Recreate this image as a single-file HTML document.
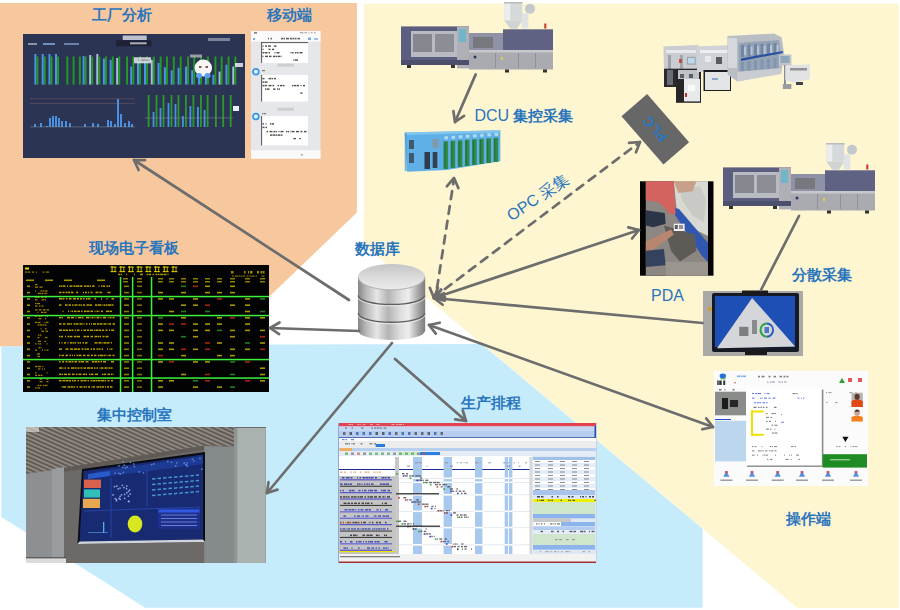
<!DOCTYPE html>
<html><head><meta charset="utf-8">
<style>
html,body{margin:0;padding:0;background:#fff;}
body{width:900px;height:610px;overflow:hidden;position:relative;font-family:"Liberation Sans",sans-serif;}
svg{position:absolute;left:0;top:0;}
.lat{font-weight:normal;}
.lbl{position:absolute;color:#2A76BD;font-size:15px;line-height:15px;font-weight:bold;white-space:nowrap;font-family:"Liberation Sans",sans-serif;}
</style></head>
<body>
<svg width="900" height="610" viewBox="0 0 900 610">
<defs>
  <clipPath id="ceil"><polygon points="26,427 234.3,427 234.3,447 208.4,445 144,455 26,474"/></clipPath>
  <linearGradient id="cyl" x1="0" x2="1" y1="0" y2="0">
    <stop offset="0" stop-color="#858585"/>
    <stop offset="0.12" stop-color="#b8b8b8"/>
    <stop offset="0.28" stop-color="#e6e6e6"/>
    <stop offset="0.45" stop-color="#b4b4b4"/>
    <stop offset="0.62" stop-color="#dcdcdc"/>
    <stop offset="0.75" stop-color="#eeeeee"/>
    <stop offset="0.9" stop-color="#a4a4a4"/>
    <stop offset="1" stop-color="#7c7c7c"/>
  </linearGradient>
  <linearGradient id="cyltop" x1="0" x2="0" y1="0" y2="1">
    <stop offset="0" stop-color="#c4c4c4"/>
    <stop offset="0.6" stop-color="#dedede"/>
    <stop offset="1" stop-color="#ececec"/>
  </linearGradient>
  <g id="imm">
    <rect x="103.3" y="0.5" width="18" height="18" fill="#d6d9d9"/>
    <rect x="103.3" y="0.5" width="6" height="18" fill="#eceeee"/>
    <rect x="103" y="0" width="18.6" height="1.5" fill="#b8bcbc"/>
    <path d="M103.3 18.5 L121.3 18.5 L116 26.7 L109.3 26.7 Z" fill="#cfd3d3"/>
    <circle cx="129" cy="6.8" r="5" fill="#c2c8cc"/>
    <rect x="120.7" y="11.3" width="6.6" height="15" fill="#dfe3e6"/>
    <rect x="0" y="24.4" width="68" height="38" fill="#5b5e7e"/>
    <rect x="10" y="29" width="46" height="26" fill="#b9bbc2"/>
    <rect x="12" y="32" width="19" height="18" fill="#85878e"/>
    <rect x="34" y="32" width="19" height="18" fill="#8c8e96"/>
    <rect x="56" y="24.4" width="12" height="42" fill="#aeb0b6"/>
    <rect x="58" y="27" width="7" height="13" fill="#6fb6c8"/>
    <rect x="68" y="31" width="34" height="19" fill="#8f92a6"/>
    <rect x="72" y="35" width="20" height="11" fill="#76787e"/>
    <rect x="102" y="27.3" width="50" height="21" fill="#5f6282"/>
    <rect x="143.3" y="21.5" width="2" height="5" fill="#d03030"/>
    <rect x="68" y="48" width="84" height="19.5" fill="#a9abb1"/>
    <rect x="68" y="48" width="84" height="2.5" fill="#c6c8cc"/>
    <rect x="94" y="51" width="0.8" height="15" fill="#8a8c92"/>
    <rect x="117" y="51" width="0.8" height="15" fill="#8a8c92"/>
    <rect x="134" y="51" width="0.8" height="15" fill="#8a8c92"/>
    <rect x="100" y="55" width="2" height="3" fill="#e0d040"/>
    <circle cx="74" cy="55" r="1.5" fill="#2a3a5a"/>
    <rect x="0" y="58" width="68" height="5" fill="#4d506c"/>
    <rect x="6" y="63" width="4" height="3" fill="#333"/>
    <rect x="50" y="63" width="4" height="3" fill="#333"/>
    <rect x="104" y="67.5" width="4" height="3" fill="#333"/>
    <rect x="142" y="67.5" width="4" height="3" fill="#333"/>
  </g>
</defs>
<polygon points="0,3 356.9,3 356.9,212.5 217.5,346.4 0,346.4" fill="#F7C89E"/>
<polygon points="363.7,3.5 898.7,3.5 898.7,608 797.5,608 363.7,245.1" fill="#FEF5D1"/>
<polygon points="1.3,346.5 270,344.5 481.6,344 702.7,528.8 702.7,607.8 145,607.8 100,578.9 1.3,517" fill="#C6ECFC"/>
<rect x="23" y="34" width="222" height="124" fill="#2C3454"/>
<rect x="116" y="40.3" width="35.3" height="6" fill="#1f2234"/>
<rect x="122.7" y="35.5" width="24" height="4.5" fill="#eef0f6" opacity="0.75"/>
<rect x="130" y="42.3" width="16.7" height="2" fill="#e8e8f0" opacity="0.7"/>
<rect x="28" y="43" width="9" height="2" fill="#cfd3e0" opacity="0.6"/>
<rect x="43" y="43" width="12" height="2" fill="#8fb6e8" opacity="0.7"/>
<rect x="64" y="43" width="15" height="2" fill="#8fb6e8" opacity="0.6"/>
<rect x="208" y="38" width="22" height="3" fill="#cfd3e0" opacity="0.5"/>
<rect x="34.4" y="54" width="2" height="30.6" fill="#4a94ea"/>
<rect x="36.5" y="56.5" width="1.9" height="28.1" fill="#239a23"/>
<rect x="41.7" y="54" width="2" height="30.6" fill="#4a94ea"/>
<rect x="43.8" y="56.5" width="1.9" height="28.1" fill="#239a23"/>
<rect x="48.5" y="54" width="2" height="30.6" fill="#4a94ea"/>
<rect x="50.6" y="56.5" width="1.9" height="28.1" fill="#239a23"/>
<rect x="55.0" y="54" width="2" height="30.6" fill="#4a94ea"/>
<rect x="57.1" y="56.5" width="1.9" height="28.1" fill="#239a23"/>
<rect x="66.4" y="56.5" width="1.9" height="28.1" fill="#239a23"/>
<rect x="72.6" y="56.5" width="1.9" height="28.1" fill="#239a23"/>
<rect x="78.9" y="56.5" width="1.9" height="28.1" fill="#239a23"/>
<rect x="82.6" y="56" width="2" height="28.6" fill="#4a94ea"/>
<rect x="84.7" y="56.5" width="1.9" height="28.1" fill="#239a23"/>
<rect x="89.2" y="55" width="2" height="29.6" fill="#a8c0e0"/>
<rect x="91.3" y="56.5" width="1.9" height="28.1" fill="#239a23"/>
<rect x="96.3" y="54" width="2" height="30.6" fill="#a8c0e0"/>
<rect x="98.4" y="56.5" width="1.9" height="28.1" fill="#239a23"/>
<rect x="102.9" y="58.5" width="2" height="26.1" fill="#4a94ea"/>
<rect x="105.0" y="56.5" width="1.9" height="28.1" fill="#239a23"/>
<rect x="109.7" y="60" width="2" height="24.6" fill="#4a94ea"/>
<rect x="111.8" y="56.5" width="1.9" height="28.1" fill="#239a23"/>
<rect x="116.2" y="58" width="2" height="26.6" fill="#a8c0e0"/>
<rect x="118.3" y="56.5" width="1.9" height="28.1" fill="#239a23"/>
<rect x="126.1" y="56.5" width="1.9" height="28.1" fill="#239a23"/>
<rect x="130.3" y="66.6" width="2" height="18.0" fill="#4a94ea"/>
<rect x="132.4" y="56.5" width="1.9" height="28.1" fill="#239a23"/>
<rect x="137.0" y="61.6" width="2" height="23.0" fill="#4a94ea"/>
<rect x="139.1" y="56.5" width="1.9" height="28.1" fill="#239a23"/>
<rect x="144.0" y="61.6" width="2" height="23.0" fill="#4a94ea"/>
<rect x="146.1" y="56.5" width="1.9" height="28.1" fill="#239a23"/>
<rect x="150.8" y="59.8" width="2" height="24.8" fill="#a8c0e0"/>
<rect x="152.9" y="56.5" width="1.9" height="28.1" fill="#239a23"/>
<rect x="157.6" y="62.9" width="2" height="21.7" fill="#4a94ea"/>
<rect x="159.7" y="56.5" width="1.9" height="28.1" fill="#239a23"/>
<rect x="163.9" y="67.2" width="2" height="17.4" fill="#4a94ea"/>
<rect x="166.0" y="56.5" width="1.9" height="28.1" fill="#239a23"/>
<rect x="170.7" y="70.3" width="2" height="14.3" fill="#4a94ea"/>
<rect x="172.8" y="56.5" width="1.9" height="28.1" fill="#239a23"/>
<rect x="177.6" y="67.8" width="2" height="16.8" fill="#4a94ea"/>
<rect x="179.7" y="56.5" width="1.9" height="28.1" fill="#239a23"/>
<rect x="185.0" y="66.6" width="2" height="18.0" fill="#4a94ea"/>
<rect x="187.1" y="56.5" width="1.9" height="28.1" fill="#239a23"/>
<rect x="191.2" y="70.3" width="2" height="14.3" fill="#4a94ea"/>
<rect x="193.3" y="56.5" width="1.9" height="28.1" fill="#239a23"/>
<rect x="198.0" y="77.8" width="2" height="6.8" fill="#4a94ea"/>
<rect x="200.1" y="56.5" width="1.9" height="28.1" fill="#239a23"/>
<rect x="204.9" y="76" width="2" height="8.6" fill="#4a94ea"/>
<rect x="207.0" y="56.5" width="1.9" height="28.1" fill="#239a23"/>
<rect x="212.4" y="74.7" width="2" height="9.9" fill="#4a94ea"/>
<rect x="214.5" y="56.5" width="1.9" height="28.1" fill="#239a23"/>
<rect x="218.6" y="71.6" width="2" height="13.0" fill="#a8c0e0"/>
<rect x="220.7" y="56.5" width="1.9" height="28.1" fill="#239a23"/>
<rect x="225.5" y="64.7" width="2" height="19.9" fill="#4a94ea"/>
<rect x="227.6" y="56.5" width="1.9" height="28.1" fill="#239a23"/>
<rect x="232.3" y="66.6" width="2" height="18.0" fill="#a8c0e0"/>
<rect x="234.4" y="56.5" width="1.9" height="28.1" fill="#239a23"/>
<rect x="134" y="57.3" width="17" height="6" fill="#e8e8ee" opacity="0.85"/>
<rect x="138.0" y="59.5" width="1" height="1.2" fill="#505050" opacity="0.6"/>
<rect x="140.5" y="59.5" width="1" height="1.2" fill="#505050" opacity="0.6"/>
<rect x="142.0" y="59.5" width="3" height="1.2" fill="#505050" opacity="0.6"/>
<rect x="145.5" y="59.5" width="2.5" height="1.2" fill="#505050" opacity="0.6"/>
<rect x="148.5" y="59.5" width="1" height="1.2" fill="#505050" opacity="0.6"/>
<rect x="235" y="63" width="8" height="4" fill="#e8eef5" opacity="0.85"/>
<ellipse cx="203.3" cy="68" rx="8.7" ry="8.5" fill="#f6f4f4"/>
<ellipse cx="199" cy="75.5" rx="3" ry="2.6" fill="#5aa0f0"/>
<ellipse cx="207.5" cy="75.5" rx="3" ry="2.6" fill="#5aa0f0"/>
<rect x="199" y="66" width="2.5" height="2" fill="#603030" opacity="0.8"/>
<rect x="205.5" y="66" width="2.5" height="2" fill="#603030" opacity="0.8"/>
<rect x="190" y="54.5" width="12" height="3" fill="#e8e0e0" opacity="0.6"/>
<rect x="30" y="98.5" width="105" height="0.7" fill="#7a5a6a" opacity="0.7"/>
<rect x="30" y="103" width="105" height="0.7" fill="#7a5a6a" opacity="0.7"/>
<rect x="34" y="124" width="2" height="3" fill="#4a90e2"/>
<rect x="40" y="123" width="2" height="4" fill="#4a90e2"/>
<rect x="46" y="126" width="2" height="1" fill="#4a90e2"/>
<rect x="49" y="118" width="2" height="9" fill="#4a90e2"/>
<rect x="52" y="116" width="2" height="11" fill="#4a90e2"/>
<rect x="55" y="116" width="2" height="11" fill="#4a90e2"/>
<rect x="58" y="118" width="2" height="9" fill="#4a90e2"/>
<rect x="61" y="121" width="2" height="6" fill="#4a90e2"/>
<rect x="65" y="121" width="2" height="6" fill="#4a90e2"/>
<rect x="69" y="123" width="2" height="4" fill="#4a90e2"/>
<rect x="84" y="124" width="2" height="3" fill="#4a90e2"/>
<rect x="92" y="123" width="2" height="4" fill="#4a90e2"/>
<rect x="97" y="124" width="2" height="3" fill="#4a90e2"/>
<rect x="107" y="120" width="2" height="7" fill="#4a90e2"/>
<rect x="110" y="121" width="2" height="6" fill="#4a90e2"/>
<rect x="114" y="124" width="2" height="3" fill="#4a90e2"/>
<rect x="117" y="99" width="2" height="28" fill="#4a90e2"/>
<rect x="120" y="114" width="2" height="13" fill="#4a90e2"/>
<rect x="124" y="123" width="2" height="4" fill="#4a90e2"/>
<rect x="128" y="121" width="2" height="6" fill="#4a90e2"/>
<rect x="131" y="124" width="2" height="3" fill="#4a90e2"/>
<rect x="30" y="126.5" width="105" height="0.8" fill="#9aa" opacity="0.5"/>
<rect x="147.7" y="95" width="1.8" height="32" fill="#2a9a2a"/>
<rect x="155.6" y="95" width="1.8" height="32" fill="#2a9a2a"/>
<rect x="152.6" y="112" width="1.8" height="15" fill="#4a90e2"/>
<rect x="162.6" y="95" width="1.8" height="32" fill="#2a9a2a"/>
<rect x="159.6" y="108" width="1.8" height="19" fill="#4a90e2"/>
<rect x="170.6" y="95" width="1.8" height="32" fill="#2a9a2a"/>
<rect x="167.6" y="103" width="1.8" height="24" fill="#4a90e2"/>
<rect x="177.6" y="95" width="1.8" height="32" fill="#2a9a2a"/>
<rect x="174.6" y="104" width="1.8" height="23" fill="#4a90e2"/>
<rect x="185.0" y="95" width="1.8" height="32" fill="#2a9a2a"/>
<rect x="182.0" y="116" width="1.8" height="11" fill="#4a90e2"/>
<rect x="192.5" y="95" width="1.8" height="32" fill="#2a9a2a"/>
<rect x="189.5" y="106" width="1.8" height="21" fill="#4a90e2"/>
<rect x="200.0" y="95" width="1.8" height="32" fill="#2a9a2a"/>
<rect x="197.0" y="107" width="1.8" height="20" fill="#4a90e2"/>
<rect x="206.7" y="95" width="1.8" height="32" fill="#2a9a2a"/>
<rect x="203.7" y="110" width="1.8" height="17" fill="#4a90e2"/>
<rect x="215.0" y="95" width="1.8" height="32" fill="#2a9a2a"/>
<rect x="222.3" y="95" width="1.8" height="32" fill="#2a9a2a"/>
<rect x="229.8" y="95" width="1.8" height="32" fill="#2a9a2a"/>
<rect x="145" y="117.5" width="88" height="0.8" fill="#8a8f9f" opacity="0.6"/>
<rect x="233" y="106" width="6" height="5" fill="#e8eef5"/>
<rect x="251" y="31" width="69.5" height="127.5" fill="#e6e7ea"/>
<rect x="251" y="31" width="69.5" height="10.5" fill="#fbfbfb"/>
<rect x="254.0" y="32.2" width="3" height="1.3" fill="#202020" opacity="0.7"/>
<rect x="300.0" y="32.2" width="3" height="1.1" fill="#404040" opacity="0.5"/>
<rect x="303.5" y="32.2" width="1" height="1.1" fill="#404040" opacity="0.5"/>
<rect x="305.0" y="32.2" width="2" height="1.1" fill="#404040" opacity="0.5"/>
<rect x="308.5" y="32.2" width="1" height="1.1" fill="#404040" opacity="0.5"/>
<rect x="311.0" y="32.2" width="1.5" height="1.1" fill="#404040" opacity="0.5"/>
<rect x="314.0" y="32.2" width="1.5" height="1.1" fill="#404040" opacity="0.5"/>
<rect x="268.0" y="37.8" width="1" height="1.6" fill="#202020" opacity="0.7"/>
<rect x="270.5" y="37.8" width="1.5" height="1.6" fill="#202020" opacity="0.7"/>
<rect x="281.0" y="37.8" width="2" height="1.6" fill="#202020" opacity="0.7"/>
<rect x="283.5" y="37.8" width="1.5" height="1.6" fill="#202020" opacity="0.7"/>
<rect x="286.0" y="37.8" width="3" height="1.6" fill="#202020" opacity="0.7"/>
<rect x="290.0" y="37.8" width="2.5" height="1.6" fill="#202020" opacity="0.7"/>
<rect x="293.0" y="37.8" width="1" height="1.6" fill="#202020" opacity="0.7"/>
<rect x="294.5" y="37.8" width="2" height="1.6" fill="#202020" opacity="0.7"/>
<rect x="297.5" y="37.8" width="2.5" height="1.6" fill="#202020" opacity="0.7"/>
<rect x="253" y="38" width="2" height="2" fill="#3a8ae0" opacity="0.7"/>
<rect x="308" y="37.5" width="3" height="2.5" fill="#3a8ae0" opacity="0.7"/>
<rect x="314" y="38" width="4" height="2" fill="#3a8ae0" opacity="0.5"/>
<rect x="261.2" y="42.2" width="46.8" height="20.8" fill="#ffffff"/>
<rect x="261.2" y="42.2" width="0.9" height="20.8" fill="#404040"/>
<rect x="262.5" y="45.4" width="1" height="1.4" fill="#202020" opacity="0.8"/>
<rect x="265.0" y="45.4" width="2" height="1.4" fill="#202020" opacity="0.8"/>
<rect x="268.0" y="45.4" width="3" height="1.4" fill="#202020" opacity="0.8"/>
<rect x="274.0" y="45.4" width="2.5" height="1.4" fill="#202020" opacity="0.8"/>
<rect x="262.5" y="48.7" width="1" height="1.4" fill="#202020" opacity="0.8"/>
<rect x="268.5" y="48.7" width="2" height="1.4" fill="#202020" opacity="0.8"/>
<rect x="272.0" y="48.7" width="2" height="1.4" fill="#202020" opacity="0.8"/>
<rect x="262.5" y="52.0" width="2" height="1.4" fill="#202020" opacity="0.8"/>
<rect x="265.0" y="52.0" width="2.5" height="1.4" fill="#202020" opacity="0.8"/>
<rect x="268.5" y="52.0" width="1.5" height="1.4" fill="#202020" opacity="0.8"/>
<rect x="274.5" y="52.0" width="1" height="1.4" fill="#202020" opacity="0.8"/>
<rect x="276.5" y="52.0" width="3" height="1.4" fill="#202020" opacity="0.8"/>
<rect x="290.5" y="52.0" width="1" height="1.4" fill="#202020" opacity="0.8"/>
<rect x="292.0" y="52.0" width="1.5" height="1.4" fill="#202020" opacity="0.8"/>
<rect x="295.0" y="52.0" width="1.5" height="1.4" fill="#202020" opacity="0.8"/>
<rect x="297.0" y="52.0" width="1.5" height="1.4" fill="#202020" opacity="0.8"/>
<rect x="299.5" y="52.0" width="3" height="1.4" fill="#202020" opacity="0.8"/>
<rect x="262.5" y="55.7" width="1" height="1.4" fill="#202020" opacity="0.8"/>
<rect x="265.0" y="55.7" width="3" height="1.4" fill="#202020" opacity="0.8"/>
<rect x="269.0" y="55.7" width="2.5" height="1.4" fill="#202020" opacity="0.8"/>
<rect x="273.0" y="55.7" width="2.5" height="1.4" fill="#202020" opacity="0.8"/>
<rect x="276.0" y="55.7" width="1.5" height="1.4" fill="#202020" opacity="0.8"/>
<rect x="278.0" y="55.7" width="2" height="1.4" fill="#202020" opacity="0.8"/>
<rect x="280.5" y="55.7" width="1" height="1.4" fill="#202020" opacity="0.8"/>
<rect x="293.4" y="59.4" width="1" height="1.4" fill="#202020" opacity="0.8"/>
<rect x="294.9" y="59.4" width="3" height="1.4" fill="#202020" opacity="0.8"/>
<rect x="261.2" y="75" width="46.8" height="26.5" fill="#ffffff"/>
<rect x="261.2" y="75" width="0.9" height="26.5" fill="#404040"/>
<rect x="262.5" y="77.9" width="2" height="1.4" fill="#202020" opacity="0.8"/>
<rect x="268.5" y="77.9" width="2.5" height="1.4" fill="#202020" opacity="0.8"/>
<rect x="271.5" y="77.9" width="1.5" height="1.4" fill="#202020" opacity="0.8"/>
<rect x="274.0" y="77.9" width="2" height="1.4" fill="#202020" opacity="0.8"/>
<rect x="262.5" y="81.4" width="1.5" height="1.4" fill="#202020" opacity="0.8"/>
<rect x="264.5" y="81.4" width="3" height="1.4" fill="#202020" opacity="0.8"/>
<rect x="262.5" y="84.9" width="2" height="1.4" fill="#202020" opacity="0.8"/>
<rect x="265.0" y="84.9" width="2" height="1.4" fill="#202020" opacity="0.8"/>
<rect x="268.5" y="84.9" width="3" height="1.4" fill="#202020" opacity="0.8"/>
<rect x="272.5" y="84.9" width="1.5" height="1.4" fill="#202020" opacity="0.8"/>
<rect x="277.5" y="84.9" width="1.5" height="1.4" fill="#202020" opacity="0.8"/>
<rect x="280.0" y="84.9" width="2" height="1.4" fill="#202020" opacity="0.8"/>
<rect x="282.5" y="84.9" width="2" height="1.4" fill="#202020" opacity="0.8"/>
<rect x="292.0" y="84.9" width="1" height="1.4" fill="#202020" opacity="0.8"/>
<rect x="293.5" y="84.9" width="2.5" height="1.4" fill="#202020" opacity="0.8"/>
<rect x="296.5" y="84.9" width="2.5" height="1.4" fill="#202020" opacity="0.8"/>
<rect x="300.5" y="84.9" width="1" height="1.4" fill="#202020" opacity="0.8"/>
<rect x="303.0" y="84.9" width="2" height="1.4" fill="#202020" opacity="0.8"/>
<rect x="265.0" y="88.4" width="1.5" height="1.4" fill="#202020" opacity="0.8"/>
<rect x="267.0" y="88.4" width="2.5" height="1.4" fill="#202020" opacity="0.8"/>
<rect x="273.0" y="88.4" width="2.5" height="1.4" fill="#202020" opacity="0.8"/>
<rect x="277.0" y="88.4" width="1" height="1.4" fill="#202020" opacity="0.8"/>
<rect x="278.5" y="88.4" width="1.5" height="1.4" fill="#202020" opacity="0.8"/>
<rect x="300.4" y="92.4" width="2" height="1.4" fill="#202020" opacity="0.8"/>
<rect x="261.2" y="116" width="46.8" height="29.4" fill="#ffffff"/>
<rect x="261.2" y="116" width="0.9" height="29.4" fill="#404040"/>
<rect x="262.5" y="123.2" width="1.5" height="1.4" fill="#202020" opacity="0.8"/>
<rect x="265.5" y="123.2" width="1" height="1.4" fill="#202020" opacity="0.8"/>
<rect x="270.0" y="123.2" width="1.5" height="1.4" fill="#202020" opacity="0.8"/>
<rect x="272.0" y="123.2" width="2" height="1.4" fill="#202020" opacity="0.8"/>
<rect x="262.5" y="126.7" width="2" height="1.4" fill="#202020" opacity="0.8"/>
<rect x="265.5" y="126.7" width="1.5" height="1.4" fill="#202020" opacity="0.8"/>
<rect x="266.5" y="130.9" width="1.5" height="1.4" fill="#202020" opacity="0.8"/>
<rect x="269.5" y="130.9" width="3" height="1.4" fill="#202020" opacity="0.8"/>
<rect x="273.5" y="130.9" width="1.5" height="1.4" fill="#202020" opacity="0.8"/>
<rect x="275.5" y="130.9" width="1.5" height="1.4" fill="#202020" opacity="0.8"/>
<rect x="278.5" y="130.9" width="1" height="1.4" fill="#202020" opacity="0.8"/>
<rect x="280.5" y="130.9" width="3" height="1.4" fill="#202020" opacity="0.8"/>
<rect x="286.0" y="130.9" width="1.5" height="1.4" fill="#202020" opacity="0.8"/>
<rect x="288.0" y="130.9" width="1" height="1.4" fill="#202020" opacity="0.8"/>
<rect x="290.5" y="130.9" width="1" height="1.4" fill="#202020" opacity="0.8"/>
<rect x="292.0" y="130.9" width="2.5" height="1.4" fill="#202020" opacity="0.8"/>
<rect x="296.0" y="130.9" width="3" height="1.4" fill="#202020" opacity="0.8"/>
<rect x="300.5" y="130.9" width="2" height="1.4" fill="#202020" opacity="0.8"/>
<rect x="304.0" y="130.9" width="2.5" height="1.4" fill="#202020" opacity="0.8"/>
<rect x="270.0" y="134.4" width="2.5" height="1.4" fill="#202020" opacity="0.8"/>
<rect x="273.0" y="134.4" width="2.5" height="1.4" fill="#202020" opacity="0.8"/>
<rect x="276.0" y="134.4" width="1.5" height="1.4" fill="#202020" opacity="0.8"/>
<rect x="278.0" y="134.4" width="2" height="1.4" fill="#202020" opacity="0.8"/>
<rect x="280.5" y="134.4" width="2" height="1.4" fill="#202020" opacity="0.8"/>
<rect x="293.4" y="137.9" width="2.5" height="1.4" fill="#202020" opacity="0.8"/>
<rect x="299.4" y="137.9" width="1.5" height="1.4" fill="#202020" opacity="0.8"/>
<rect x="261.2" y="42.2" width="46.8" height="0.9" fill="#404040"/>
<rect x="277.3" y="63.8" width="16.5" height="2.9" fill="#cdced2"/>
<rect x="277.3" y="107.8" width="16.5" height="2.9" fill="#cdced2"/>
<circle cx="255.9" cy="71.7" r="3.8" fill="#3a98e8"/>
<circle cx="255.9" cy="71.7" r="2" fill="#e8f4fc"/>
<circle cx="255.9" cy="116.5" r="3.8" fill="#3a98e8"/>
<circle cx="255.9" cy="116.5" r="2" fill="#e8f4fc"/>
<rect x="262.0" y="70.0" width="3" height="1.2" fill="#303030" opacity="0.6"/>
<rect x="262.0" y="113.0" width="1.5" height="1.2" fill="#303030" opacity="0.6"/>
<rect x="264.0" y="113.0" width="2" height="1.2" fill="#303030" opacity="0.6"/>
<rect x="251" y="150.3" width="69.5" height="8.3" fill="#fafafa"/>
<rect x="301" y="154" width="1.5" height="1.5" fill="#606060" opacity="0.7"/>
<rect x="23" y="265" width="246" height="127" fill="#030303"/>
<rect x="25" y="267.5" width="4" height="2" fill="#e8d800"/>
<rect x="25.0" y="271.5" width="2.5" height="1.2" fill="#c8b800" opacity="0.7"/>
<rect x="28.0" y="271.5" width="2.5" height="1.2" fill="#c8b800" opacity="0.7"/>
<rect x="32.0" y="271.5" width="2" height="1.2" fill="#c8b800" opacity="0.7"/>
<rect x="36.0" y="271.5" width="1" height="1.2" fill="#c8b800" opacity="0.7"/>
<rect x="42.5" y="271.5" width="2" height="1.2" fill="#c8b800" opacity="0.7"/>
<rect x="46.0" y="271.5" width="3" height="1.2" fill="#c8b800" opacity="0.7"/>
<rect x="110.5" y="266.5" width="6" height="1.2" fill="#e8d800" opacity="0.8"/>
<rect x="110.5" y="271" width="6" height="1.2" fill="#e8d800" opacity="0.8"/>
<rect x="111.5" y="266" width="1.2" height="6" fill="#e8d800" opacity="0.8"/>
<rect x="114.5" y="267" width="1.2" height="5" fill="#e8d800" opacity="0.65"/>
<rect x="119.2" y="266.5" width="6" height="1.2" fill="#e8d800" opacity="0.8"/>
<rect x="119.2" y="271" width="6" height="1.2" fill="#e8d800" opacity="0.8"/>
<rect x="120.2" y="266" width="1.2" height="6" fill="#e8d800" opacity="0.8"/>
<rect x="123.2" y="267" width="1.2" height="5" fill="#e8d800" opacity="0.65"/>
<rect x="127.9" y="266.5" width="6" height="1.2" fill="#e8d800" opacity="0.8"/>
<rect x="127.9" y="271" width="6" height="1.2" fill="#e8d800" opacity="0.8"/>
<rect x="128.9" y="266" width="1.2" height="6" fill="#e8d800" opacity="0.8"/>
<rect x="131.9" y="267" width="1.2" height="5" fill="#e8d800" opacity="0.65"/>
<rect x="136.6" y="266.5" width="6" height="1.2" fill="#e8d800" opacity="0.8"/>
<rect x="136.6" y="271" width="6" height="1.2" fill="#e8d800" opacity="0.8"/>
<rect x="137.6" y="266" width="1.2" height="6" fill="#e8d800" opacity="0.8"/>
<rect x="140.6" y="267" width="1.2" height="5" fill="#e8d800" opacity="0.65"/>
<rect x="145.3" y="266.5" width="6" height="1.2" fill="#e8d800" opacity="0.8"/>
<rect x="145.3" y="271" width="6" height="1.2" fill="#e8d800" opacity="0.8"/>
<rect x="146.3" y="266" width="1.2" height="6" fill="#e8d800" opacity="0.8"/>
<rect x="149.3" y="267" width="1.2" height="5" fill="#e8d800" opacity="0.65"/>
<rect x="154.0" y="266.5" width="6" height="1.2" fill="#e8d800" opacity="0.8"/>
<rect x="154.0" y="271" width="6" height="1.2" fill="#e8d800" opacity="0.8"/>
<rect x="155.0" y="266" width="1.2" height="6" fill="#e8d800" opacity="0.8"/>
<rect x="158.0" y="267" width="1.2" height="5" fill="#e8d800" opacity="0.65"/>
<rect x="162.7" y="266.5" width="6" height="1.2" fill="#e8d800" opacity="0.8"/>
<rect x="162.7" y="271" width="6" height="1.2" fill="#e8d800" opacity="0.8"/>
<rect x="163.7" y="266" width="1.2" height="6" fill="#e8d800" opacity="0.8"/>
<rect x="166.7" y="267" width="1.2" height="5" fill="#e8d800" opacity="0.65"/>
<rect x="171.4" y="266.5" width="6" height="1.2" fill="#e8d800" opacity="0.8"/>
<rect x="171.4" y="271" width="6" height="1.2" fill="#e8d800" opacity="0.8"/>
<rect x="172.4" y="266" width="1.2" height="6" fill="#e8d800" opacity="0.8"/>
<rect x="175.4" y="267" width="1.2" height="5" fill="#e8d800" opacity="0.65"/>
<rect x="118.0" y="273.7" width="2" height="1.5" fill="#d8c800" opacity="0.75"/>
<rect x="120.5" y="273.7" width="1.5" height="1.5" fill="#d8c800" opacity="0.75"/>
<rect x="126.0" y="273.7" width="1" height="1.5" fill="#d8c800" opacity="0.75"/>
<rect x="134.0" y="273.7" width="1" height="1.5" fill="#d8c800" opacity="0.75"/>
<rect x="140.0" y="273.7" width="3" height="1.5" fill="#d8c800" opacity="0.75"/>
<rect x="146.5" y="273.7" width="2" height="1.5" fill="#d8c800" opacity="0.75"/>
<rect x="149.0" y="273.7" width="2" height="1.5" fill="#d8c800" opacity="0.75"/>
<rect x="152.5" y="273.7" width="1.5" height="1.5" fill="#d8c800" opacity="0.75"/>
<rect x="155.5" y="273.7" width="1.5" height="1.5" fill="#d8c800" opacity="0.75"/>
<rect x="157.5" y="273.7" width="2" height="1.5" fill="#d8c800" opacity="0.75"/>
<rect x="160.0" y="273.7" width="3" height="1.5" fill="#d8c800" opacity="0.75"/>
<rect x="163.5" y="273.7" width="3" height="1.5" fill="#d8c800" opacity="0.75"/>
<rect x="167.5" y="273.7" width="1" height="1.5" fill="#d8c800" opacity="0.75"/>
<rect x="231.0" y="271.0" width="2.5" height="2.5" fill="#e0c800" opacity="0.7"/>
<rect x="244.0" y="271.0" width="1.5" height="2.5" fill="#e0c800" opacity="0.7"/>
<rect x="248.0" y="271.0" width="1" height="2.5" fill="#e0c800" opacity="0.7"/>
<rect x="250.0" y="271.0" width="2.5" height="2.5" fill="#e0c800" opacity="0.7"/>
<rect x="257.0" y="271.0" width="2" height="2.5" fill="#e0c800" opacity="0.7"/>
<rect x="260.5" y="271.0" width="2" height="2.5" fill="#e0c800" opacity="0.7"/>
<rect x="263.0" y="271.0" width="1.5" height="2.5" fill="#e0c800" opacity="0.7"/>
<rect x="232.0" y="275.5" width="2" height="1.2" fill="#e0d000" opacity="0.55"/>
<rect x="235.0" y="275.5" width="3" height="1.2" fill="#e0d000" opacity="0.55"/>
<rect x="238.5" y="275.5" width="2" height="1.2" fill="#e0d000" opacity="0.55"/>
<rect x="241.0" y="275.5" width="1" height="1.2" fill="#e0d000" opacity="0.55"/>
<rect x="242.5" y="275.5" width="2.5" height="1.2" fill="#e0d000" opacity="0.55"/>
<rect x="246.5" y="275.5" width="1.5" height="1.2" fill="#e0d000" opacity="0.55"/>
<rect x="248.5" y="275.5" width="1" height="1.2" fill="#e0d000" opacity="0.55"/>
<rect x="250.0" y="275.5" width="1.5" height="1.2" fill="#e0d000" opacity="0.55"/>
<rect x="252.0" y="275.5" width="2.5" height="1.2" fill="#e0d000" opacity="0.55"/>
<rect x="255.5" y="275.5" width="1.5" height="1.2" fill="#e0d000" opacity="0.55"/>
<rect x="261.5" y="275.5" width="3" height="1.2" fill="#e0d000" opacity="0.55"/>
<rect x="26" y="279.5" width="8" height="1.6" fill="#e0d000" opacity="0.7"/>
<rect x="45" y="279.5" width="8" height="1.6" fill="#e0d000" opacity="0.7"/>
<rect x="64" y="279.5" width="8" height="1.6" fill="#e0d000" opacity="0.7"/>
<rect x="97" y="279.5" width="8" height="1.6" fill="#e0d000" opacity="0.7"/>
<rect x="123" y="278" width="5" height="1.5" fill="#e0d000" opacity="0.6"/>
<rect x="123" y="281" width="5" height="1.5" fill="#e0d000" opacity="0.6"/>
<rect x="137" y="278" width="5" height="1.5" fill="#e0d000" opacity="0.6"/>
<rect x="137" y="281" width="5" height="1.5" fill="#e0d000" opacity="0.6"/>
<rect x="158" y="278" width="5" height="1.5" fill="#e0d000" opacity="0.6"/>
<rect x="158" y="281" width="5" height="1.5" fill="#e0d000" opacity="0.6"/>
<rect x="169" y="278" width="5" height="1.5" fill="#e0d000" opacity="0.6"/>
<rect x="169" y="281" width="5" height="1.5" fill="#e0d000" opacity="0.6"/>
<rect x="181" y="278" width="5" height="1.5" fill="#e0d000" opacity="0.6"/>
<rect x="181" y="281" width="5" height="1.5" fill="#e0d000" opacity="0.6"/>
<rect x="193" y="278" width="5" height="1.5" fill="#e0d000" opacity="0.6"/>
<rect x="193" y="281" width="5" height="1.5" fill="#e0d000" opacity="0.6"/>
<rect x="205" y="278" width="5" height="1.5" fill="#e0d000" opacity="0.6"/>
<rect x="205" y="281" width="5" height="1.5" fill="#e0d000" opacity="0.6"/>
<rect x="217" y="278" width="5" height="1.5" fill="#e0d000" opacity="0.6"/>
<rect x="217" y="281" width="5" height="1.5" fill="#e0d000" opacity="0.6"/>
<rect x="230" y="278" width="5" height="1.5" fill="#e0d000" opacity="0.6"/>
<rect x="230" y="281" width="5" height="1.5" fill="#e0d000" opacity="0.6"/>
<rect x="245" y="278" width="5" height="1.5" fill="#e0d000" opacity="0.6"/>
<rect x="245" y="281" width="5" height="1.5" fill="#e0d000" opacity="0.6"/>
<rect x="260" y="278" width="5" height="1.5" fill="#e0d000" opacity="0.6"/>
<rect x="260" y="281" width="5" height="1.5" fill="#e0d000" opacity="0.6"/>
<rect x="27" y="285.5" width="3" height="1.6" fill="#e0d000" opacity="0.7"/>
<rect x="35.0" y="284.0" width="2.5" height="1.3" fill="#d8b000" opacity="0.7"/>
<rect x="35.0" y="286.5" width="3" height="1.3" fill="#d8b000" opacity="0.7"/>
<rect x="39.5" y="286.5" width="3" height="1.3" fill="#d8b000" opacity="0.7"/>
<rect x="59.0" y="285.4" width="1.5" height="1.5" fill="#e8c800" opacity="0.8"/>
<rect x="61.0" y="285.4" width="1.5" height="1.5" fill="#e8c800" opacity="0.8"/>
<rect x="63.0" y="285.4" width="2.5" height="1.5" fill="#e8c800" opacity="0.8"/>
<rect x="67.0" y="285.4" width="1" height="1.5" fill="#e8c800" opacity="0.8"/>
<rect x="69.5" y="285.4" width="3" height="1.5" fill="#e8c800" opacity="0.8"/>
<rect x="73.5" y="285.4" width="2" height="1.5" fill="#e8c800" opacity="0.8"/>
<rect x="76.0" y="285.4" width="3" height="1.5" fill="#e8c800" opacity="0.8"/>
<rect x="79.5" y="285.4" width="3" height="1.5" fill="#e8c800" opacity="0.8"/>
<rect x="84.0" y="285.4" width="2.5" height="1.5" fill="#e8c800" opacity="0.8"/>
<rect x="87.0" y="285.4" width="2" height="1.5" fill="#e8c800" opacity="0.8"/>
<rect x="89.5" y="285.4" width="1.5" height="1.5" fill="#e8c800" opacity="0.8"/>
<rect x="92.0" y="285.4" width="2.5" height="1.5" fill="#e8c800" opacity="0.8"/>
<rect x="98.5" y="285.4" width="1" height="1.5" fill="#e8c800" opacity="0.8"/>
<rect x="101.0" y="285.4" width="1.5" height="1.5" fill="#e8c800" opacity="0.8"/>
<rect x="103.0" y="285.4" width="2" height="1.5" fill="#e8c800" opacity="0.8"/>
<rect x="106.5" y="285.4" width="2" height="1.5" fill="#e8c800" opacity="0.8"/>
<rect x="109.0" y="285.4" width="1" height="1.5" fill="#e8c800" opacity="0.8"/>
<rect x="124" y="285.5" width="5" height="1.6" fill="#e0d000" opacity="0.6"/>
<rect x="137" y="285.5" width="5" height="1.6" fill="#e8c000" opacity="0.55"/>
<rect x="181" y="285.5" width="5" height="1.6" fill="#30b030" opacity="0.7"/>
<rect x="193" y="285.5" width="5" height="1.6" fill="#e83020" opacity="0.7"/>
<rect x="205" y="285.5" width="5" height="1.6" fill="#e8d800" opacity="0.7"/>
<rect x="230" y="285.5" width="5" height="1.6" fill="#e8d800" opacity="0.7"/>
<rect x="27" y="291.8" width="3" height="1.6" fill="#e0d000" opacity="0.7"/>
<rect x="35.0" y="290.3" width="1" height="1.3" fill="#d8b000" opacity="0.7"/>
<rect x="40.5" y="290.3" width="2" height="1.3" fill="#d8b000" opacity="0.7"/>
<rect x="43.0" y="290.3" width="1" height="1.3" fill="#d8b000" opacity="0.7"/>
<rect x="44.5" y="290.3" width="3" height="1.3" fill="#d8b000" opacity="0.7"/>
<rect x="38.0" y="292.8" width="3" height="1.3" fill="#d8b000" opacity="0.7"/>
<rect x="41.5" y="292.8" width="2" height="1.3" fill="#d8b000" opacity="0.7"/>
<rect x="44.5" y="292.8" width="2.5" height="1.3" fill="#d8b000" opacity="0.7"/>
<rect x="59.0" y="291.7" width="2.5" height="1.5" fill="#e8c800" opacity="0.8"/>
<rect x="62.5" y="291.7" width="2" height="1.5" fill="#e8c800" opacity="0.8"/>
<rect x="65.5" y="291.7" width="2" height="1.5" fill="#e8c800" opacity="0.8"/>
<rect x="68.0" y="291.7" width="2" height="1.5" fill="#e8c800" opacity="0.8"/>
<rect x="71.0" y="291.7" width="2.5" height="1.5" fill="#e8c800" opacity="0.8"/>
<rect x="76.0" y="291.7" width="2" height="1.5" fill="#e8c800" opacity="0.8"/>
<rect x="83.0" y="291.7" width="1" height="1.5" fill="#e8c800" opacity="0.8"/>
<rect x="85.0" y="291.7" width="2" height="1.5" fill="#e8c800" opacity="0.8"/>
<rect x="88.0" y="291.7" width="1" height="1.5" fill="#e8c800" opacity="0.8"/>
<rect x="90.5" y="291.7" width="2" height="1.5" fill="#e8c800" opacity="0.8"/>
<rect x="95.5" y="291.7" width="3" height="1.5" fill="#e8c800" opacity="0.8"/>
<rect x="99.5" y="291.7" width="2.5" height="1.5" fill="#e8c800" opacity="0.8"/>
<rect x="107.5" y="291.7" width="3" height="1.5" fill="#e8c800" opacity="0.8"/>
<rect x="124" y="291.8" width="5" height="1.6" fill="#e0d000" opacity="0.6"/>
<rect x="137" y="291.8" width="5" height="1.6" fill="#e8c000" opacity="0.55"/>
<rect x="158" y="291.8" width="5" height="1.6" fill="#e8d800" opacity="0.7"/>
<rect x="181" y="291.8" width="5" height="1.6" fill="#e8d800" opacity="0.7"/>
<rect x="205" y="291.8" width="5" height="1.6" fill="#e8d800" opacity="0.7"/>
<rect x="217" y="291.8" width="5" height="1.6" fill="#e8d800" opacity="0.7"/>
<rect x="230" y="291.8" width="5" height="1.6" fill="#e8d800" opacity="0.7"/>
<rect x="27" y="298.1" width="3" height="1.6" fill="#e0d000" opacity="0.7"/>
<rect x="35.0" y="296.6" width="2" height="1.3" fill="#d8b000" opacity="0.7"/>
<rect x="37.5" y="296.6" width="2" height="1.3" fill="#d8b000" opacity="0.7"/>
<rect x="41.0" y="296.6" width="2.5" height="1.3" fill="#d8b000" opacity="0.7"/>
<rect x="45.0" y="296.6" width="1.5" height="1.3" fill="#d8b000" opacity="0.7"/>
<rect x="35.0" y="299.1" width="2.5" height="1.3" fill="#d8b000" opacity="0.7"/>
<rect x="41.5" y="299.1" width="2.5" height="1.3" fill="#d8b000" opacity="0.7"/>
<rect x="44.5" y="299.1" width="1.5" height="1.3" fill="#d8b000" opacity="0.7"/>
<rect x="59.0" y="298.0" width="3" height="1.5" fill="#e8c800" opacity="0.8"/>
<rect x="62.5" y="298.0" width="2" height="1.5" fill="#e8c800" opacity="0.8"/>
<rect x="66.0" y="298.0" width="1.5" height="1.5" fill="#e8c800" opacity="0.8"/>
<rect x="69.0" y="298.0" width="2.5" height="1.5" fill="#e8c800" opacity="0.8"/>
<rect x="73.0" y="298.0" width="3" height="1.5" fill="#e8c800" opacity="0.8"/>
<rect x="77.0" y="298.0" width="2" height="1.5" fill="#e8c800" opacity="0.8"/>
<rect x="80.0" y="298.0" width="2" height="1.5" fill="#e8c800" opacity="0.8"/>
<rect x="83.0" y="298.0" width="1.5" height="1.5" fill="#e8c800" opacity="0.8"/>
<rect x="86.0" y="298.0" width="1.5" height="1.5" fill="#e8c800" opacity="0.8"/>
<rect x="88.0" y="298.0" width="2.5" height="1.5" fill="#e8c800" opacity="0.8"/>
<rect x="94.5" y="298.0" width="1.5" height="1.5" fill="#e8c800" opacity="0.8"/>
<rect x="101.0" y="298.0" width="1" height="1.5" fill="#e8c800" opacity="0.8"/>
<rect x="106.5" y="298.0" width="1" height="1.5" fill="#e8c800" opacity="0.8"/>
<rect x="111.5" y="298.0" width="2.5" height="1.5" fill="#e8c800" opacity="0.8"/>
<rect x="124" y="298.1" width="5" height="1.6" fill="#e0d000" opacity="0.6"/>
<rect x="137" y="298.1" width="5" height="1.6" fill="#e8c000" opacity="0.55"/>
<rect x="158" y="298.1" width="5" height="1.6" fill="#e8d800" opacity="0.7"/>
<rect x="169" y="298.1" width="5" height="1.6" fill="#e8d800" opacity="0.7"/>
<rect x="193" y="298.1" width="5" height="1.6" fill="#e8d800" opacity="0.7"/>
<rect x="217" y="298.1" width="5" height="1.6" fill="#e83020" opacity="0.7"/>
<rect x="245" y="298.1" width="5" height="1.6" fill="#e8d800" opacity="0.7"/>
<rect x="260" y="298.1" width="5" height="1.6" fill="#30b030" opacity="0.7"/>
<rect x="27" y="304.4" width="3" height="1.6" fill="#e0d000" opacity="0.7"/>
<rect x="35.0" y="302.9" width="1.5" height="1.3" fill="#d8b000" opacity="0.7"/>
<rect x="37.0" y="302.9" width="3" height="1.3" fill="#d8b000" opacity="0.7"/>
<rect x="35.0" y="305.4" width="2.5" height="1.3" fill="#d8b000" opacity="0.7"/>
<rect x="39.0" y="305.4" width="1.5" height="1.3" fill="#d8b000" opacity="0.7"/>
<rect x="41.5" y="305.4" width="2" height="1.3" fill="#d8b000" opacity="0.7"/>
<rect x="59.0" y="304.3" width="2.5" height="1.5" fill="#e8c800" opacity="0.8"/>
<rect x="65.0" y="304.3" width="2.5" height="1.5" fill="#e8c800" opacity="0.8"/>
<rect x="68.5" y="304.3" width="2.5" height="1.5" fill="#e8c800" opacity="0.8"/>
<rect x="72.0" y="304.3" width="1.5" height="1.5" fill="#e8c800" opacity="0.8"/>
<rect x="74.5" y="304.3" width="3" height="1.5" fill="#e8c800" opacity="0.8"/>
<rect x="78.5" y="304.3" width="1.5" height="1.5" fill="#e8c800" opacity="0.8"/>
<rect x="80.5" y="304.3" width="1.5" height="1.5" fill="#e8c800" opacity="0.8"/>
<rect x="83.0" y="304.3" width="2" height="1.5" fill="#e8c800" opacity="0.8"/>
<rect x="86.5" y="304.3" width="2.5" height="1.5" fill="#e8c800" opacity="0.8"/>
<rect x="89.5" y="304.3" width="2.5" height="1.5" fill="#e8c800" opacity="0.8"/>
<rect x="95.0" y="304.3" width="2.5" height="1.5" fill="#e8c800" opacity="0.8"/>
<rect x="98.0" y="304.3" width="3" height="1.5" fill="#e8c800" opacity="0.8"/>
<rect x="101.5" y="304.3" width="1" height="1.5" fill="#e8c800" opacity="0.8"/>
<rect x="103.5" y="304.3" width="2" height="1.5" fill="#e8c800" opacity="0.8"/>
<rect x="106.0" y="304.3" width="1.5" height="1.5" fill="#e8c800" opacity="0.8"/>
<rect x="108.0" y="304.3" width="3" height="1.5" fill="#e8c800" opacity="0.8"/>
<rect x="111.5" y="304.3" width="2" height="1.5" fill="#e8c800" opacity="0.8"/>
<rect x="124" y="304.4" width="5" height="1.6" fill="#e0d000" opacity="0.6"/>
<rect x="137" y="304.4" width="5" height="1.6" fill="#e8c000" opacity="0.55"/>
<rect x="181" y="304.4" width="5" height="1.6" fill="#e8d800" opacity="0.7"/>
<rect x="193" y="304.4" width="5" height="1.6" fill="#e8d800" opacity="0.7"/>
<rect x="205" y="304.4" width="5" height="1.6" fill="#e83020" opacity="0.7"/>
<rect x="230" y="304.4" width="5" height="1.6" fill="#e8d800" opacity="0.7"/>
<rect x="245" y="304.4" width="5" height="1.6" fill="#e8d800" opacity="0.7"/>
<rect x="27" y="310.7" width="3" height="1.6" fill="#e0d000" opacity="0.7"/>
<rect x="35.0" y="309.2" width="2.5" height="1.3" fill="#d8b000" opacity="0.7"/>
<rect x="39.0" y="309.2" width="2.5" height="1.3" fill="#d8b000" opacity="0.7"/>
<rect x="43.0" y="309.2" width="2.5" height="1.3" fill="#d8b000" opacity="0.7"/>
<rect x="46.5" y="309.2" width="2.5" height="1.3" fill="#d8b000" opacity="0.7"/>
<rect x="37.5" y="311.7" width="1" height="1.3" fill="#d8b000" opacity="0.7"/>
<rect x="41.0" y="311.7" width="2" height="1.3" fill="#d8b000" opacity="0.7"/>
<rect x="43.5" y="311.7" width="3" height="1.3" fill="#d8b000" opacity="0.7"/>
<rect x="62.5" y="310.6" width="1" height="1.5" fill="#e8c800" opacity="0.8"/>
<rect x="68.0" y="310.6" width="1" height="1.5" fill="#e8c800" opacity="0.8"/>
<rect x="70.5" y="310.6" width="1" height="1.5" fill="#e8c800" opacity="0.8"/>
<rect x="72.0" y="310.6" width="1" height="1.5" fill="#e8c800" opacity="0.8"/>
<rect x="74.0" y="310.6" width="2.5" height="1.5" fill="#e8c800" opacity="0.8"/>
<rect x="77.5" y="310.6" width="2.5" height="1.5" fill="#e8c800" opacity="0.8"/>
<rect x="81.0" y="310.6" width="1.5" height="1.5" fill="#e8c800" opacity="0.8"/>
<rect x="84.0" y="310.6" width="2" height="1.5" fill="#e8c800" opacity="0.8"/>
<rect x="86.5" y="310.6" width="3" height="1.5" fill="#e8c800" opacity="0.8"/>
<rect x="90.5" y="310.6" width="2.5" height="1.5" fill="#e8c800" opacity="0.8"/>
<rect x="94.5" y="310.6" width="1" height="1.5" fill="#e8c800" opacity="0.8"/>
<rect x="96.5" y="310.6" width="1.5" height="1.5" fill="#e8c800" opacity="0.8"/>
<rect x="98.5" y="310.6" width="1" height="1.5" fill="#e8c800" opacity="0.8"/>
<rect x="101.0" y="310.6" width="2" height="1.5" fill="#e8c800" opacity="0.8"/>
<rect x="106.0" y="310.6" width="3" height="1.5" fill="#e8c800" opacity="0.8"/>
<rect x="109.5" y="310.6" width="2.5" height="1.5" fill="#e8c800" opacity="0.8"/>
<rect x="124" y="310.7" width="5" height="1.6" fill="#e0d000" opacity="0.6"/>
<rect x="137" y="310.7" width="5" height="1.6" fill="#e8c000" opacity="0.55"/>
<rect x="169" y="310.7" width="5" height="1.6" fill="#e8d800" opacity="0.7"/>
<rect x="181" y="310.7" width="5" height="1.6" fill="#30b030" opacity="0.7"/>
<rect x="205" y="310.7" width="5" height="1.6" fill="#30b030" opacity="0.7"/>
<rect x="245" y="310.7" width="5" height="1.6" fill="#e8d800" opacity="0.7"/>
<rect x="260" y="310.7" width="5" height="1.6" fill="#30b030" opacity="0.7"/>
<rect x="27" y="317.0" width="3" height="1.6" fill="#e0d000" opacity="0.7"/>
<rect x="35.0" y="315.5" width="2" height="1.3" fill="#d8b000" opacity="0.7"/>
<rect x="38.5" y="315.5" width="2" height="1.3" fill="#d8b000" opacity="0.7"/>
<rect x="41.0" y="315.5" width="1.5" height="1.3" fill="#d8b000" opacity="0.7"/>
<rect x="46.5" y="315.5" width="1.5" height="1.3" fill="#d8b000" opacity="0.7"/>
<rect x="38.5" y="318.0" width="3" height="1.3" fill="#d8b000" opacity="0.7"/>
<rect x="45.0" y="318.0" width="1" height="1.3" fill="#d8b000" opacity="0.7"/>
<rect x="59.0" y="316.9" width="2" height="1.5" fill="#e8c800" opacity="0.8"/>
<rect x="61.5" y="316.9" width="1.5" height="1.5" fill="#e8c800" opacity="0.8"/>
<rect x="67.0" y="316.9" width="3" height="1.5" fill="#e8c800" opacity="0.8"/>
<rect x="71.0" y="316.9" width="3" height="1.5" fill="#e8c800" opacity="0.8"/>
<rect x="75.5" y="316.9" width="1" height="1.5" fill="#e8c800" opacity="0.8"/>
<rect x="78.0" y="316.9" width="3" height="1.5" fill="#e8c800" opacity="0.8"/>
<rect x="81.5" y="316.9" width="2" height="1.5" fill="#e8c800" opacity="0.8"/>
<rect x="86.0" y="316.9" width="3" height="1.5" fill="#e8c800" opacity="0.8"/>
<rect x="89.5" y="316.9" width="1" height="1.5" fill="#e8c800" opacity="0.8"/>
<rect x="91.5" y="316.9" width="2" height="1.5" fill="#e8c800" opacity="0.8"/>
<rect x="94.5" y="316.9" width="1" height="1.5" fill="#e8c800" opacity="0.8"/>
<rect x="96.5" y="316.9" width="3" height="1.5" fill="#e8c800" opacity="0.8"/>
<rect x="100.5" y="316.9" width="1" height="1.5" fill="#e8c800" opacity="0.8"/>
<rect x="103.0" y="316.9" width="3" height="1.5" fill="#e8c800" opacity="0.8"/>
<rect x="107.5" y="316.9" width="1" height="1.5" fill="#e8c800" opacity="0.8"/>
<rect x="109.5" y="316.9" width="2" height="1.5" fill="#e8c800" opacity="0.8"/>
<rect x="112.5" y="316.9" width="2" height="1.5" fill="#e8c800" opacity="0.8"/>
<rect x="124" y="317.0" width="5" height="1.6" fill="#e0d000" opacity="0.6"/>
<rect x="137" y="317.0" width="5" height="1.6" fill="#e8c000" opacity="0.55"/>
<rect x="158" y="317.0" width="5" height="1.6" fill="#30b030" opacity="0.7"/>
<rect x="181" y="317.0" width="5" height="1.6" fill="#e8d800" opacity="0.7"/>
<rect x="217" y="317.0" width="5" height="1.6" fill="#e8d800" opacity="0.7"/>
<rect x="230" y="317.0" width="5" height="1.6" fill="#e83020" opacity="0.7"/>
<rect x="245" y="317.0" width="5" height="1.6" fill="#e8d800" opacity="0.7"/>
<rect x="260" y="317.0" width="5" height="1.6" fill="#e8d800" opacity="0.7"/>
<rect x="27" y="323.3" width="3" height="1.6" fill="#e0d000" opacity="0.7"/>
<rect x="35.0" y="321.8" width="2.5" height="1.3" fill="#d8b000" opacity="0.7"/>
<rect x="38.0" y="321.8" width="2.5" height="1.3" fill="#d8b000" opacity="0.7"/>
<rect x="44.5" y="321.8" width="1" height="1.3" fill="#d8b000" opacity="0.7"/>
<rect x="46.0" y="321.8" width="2.5" height="1.3" fill="#d8b000" opacity="0.7"/>
<rect x="37.5" y="324.3" width="1.5" height="1.3" fill="#d8b000" opacity="0.7"/>
<rect x="39.5" y="324.3" width="3" height="1.3" fill="#d8b000" opacity="0.7"/>
<rect x="43.0" y="324.3" width="1" height="1.3" fill="#d8b000" opacity="0.7"/>
<rect x="44.5" y="324.3" width="2" height="1.3" fill="#d8b000" opacity="0.7"/>
<rect x="59.0" y="323.2" width="2.5" height="1.5" fill="#e8c800" opacity="0.8"/>
<rect x="63.0" y="323.2" width="2.5" height="1.5" fill="#e8c800" opacity="0.8"/>
<rect x="67.0" y="323.2" width="3" height="1.5" fill="#e8c800" opacity="0.8"/>
<rect x="70.5" y="323.2" width="1.5" height="1.5" fill="#e8c800" opacity="0.8"/>
<rect x="73.5" y="323.2" width="1.5" height="1.5" fill="#e8c800" opacity="0.8"/>
<rect x="75.5" y="323.2" width="3" height="1.5" fill="#e8c800" opacity="0.8"/>
<rect x="79.5" y="323.2" width="3" height="1.5" fill="#e8c800" opacity="0.8"/>
<rect x="83.5" y="323.2" width="1" height="1.5" fill="#e8c800" opacity="0.8"/>
<rect x="86.0" y="323.2" width="1.5" height="1.5" fill="#e8c800" opacity="0.8"/>
<rect x="89.0" y="323.2" width="1" height="1.5" fill="#e8c800" opacity="0.8"/>
<rect x="91.0" y="323.2" width="1" height="1.5" fill="#e8c800" opacity="0.8"/>
<rect x="93.0" y="323.2" width="3" height="1.5" fill="#e8c800" opacity="0.8"/>
<rect x="97.0" y="323.2" width="2.5" height="1.5" fill="#e8c800" opacity="0.8"/>
<rect x="100.0" y="323.2" width="2.5" height="1.5" fill="#e8c800" opacity="0.8"/>
<rect x="103.5" y="323.2" width="2.5" height="1.5" fill="#e8c800" opacity="0.8"/>
<rect x="106.5" y="323.2" width="1" height="1.5" fill="#e8c800" opacity="0.8"/>
<rect x="108.5" y="323.2" width="2.5" height="1.5" fill="#e8c800" opacity="0.8"/>
<rect x="112.5" y="323.2" width="2.5" height="1.5" fill="#e8c800" opacity="0.8"/>
<rect x="124" y="323.3" width="5" height="1.6" fill="#e0d000" opacity="0.6"/>
<rect x="137" y="323.3" width="5" height="1.6" fill="#e8c000" opacity="0.55"/>
<rect x="158" y="323.3" width="5" height="1.6" fill="#e8d800" opacity="0.7"/>
<rect x="169" y="323.3" width="5" height="1.6" fill="#e83020" opacity="0.7"/>
<rect x="181" y="323.3" width="5" height="1.6" fill="#e83020" opacity="0.7"/>
<rect x="193" y="323.3" width="5" height="1.6" fill="#e8d800" opacity="0.7"/>
<rect x="205" y="323.3" width="5" height="1.6" fill="#e8d800" opacity="0.7"/>
<rect x="217" y="323.3" width="5" height="1.6" fill="#e8d800" opacity="0.7"/>
<rect x="245" y="323.3" width="5" height="1.6" fill="#e8d800" opacity="0.7"/>
<rect x="27" y="329.6" width="3" height="1.6" fill="#e0d000" opacity="0.7"/>
<rect x="40.5" y="328.1" width="1" height="1.3" fill="#d8b000" opacity="0.7"/>
<rect x="45.0" y="328.1" width="1.5" height="1.3" fill="#d8b000" opacity="0.7"/>
<rect x="41.5" y="330.6" width="2.5" height="1.3" fill="#d8b000" opacity="0.7"/>
<rect x="45.5" y="330.6" width="2.5" height="1.3" fill="#d8b000" opacity="0.7"/>
<rect x="59.0" y="329.5" width="3" height="1.5" fill="#e8c800" opacity="0.8"/>
<rect x="63.0" y="329.5" width="2" height="1.5" fill="#e8c800" opacity="0.8"/>
<rect x="65.5" y="329.5" width="2.5" height="1.5" fill="#e8c800" opacity="0.8"/>
<rect x="69.0" y="329.5" width="2" height="1.5" fill="#e8c800" opacity="0.8"/>
<rect x="71.5" y="329.5" width="2" height="1.5" fill="#e8c800" opacity="0.8"/>
<rect x="75.0" y="329.5" width="1" height="1.5" fill="#e8c800" opacity="0.8"/>
<rect x="77.0" y="329.5" width="2.5" height="1.5" fill="#e8c800" opacity="0.8"/>
<rect x="81.0" y="329.5" width="1" height="1.5" fill="#e8c800" opacity="0.8"/>
<rect x="83.5" y="329.5" width="2.5" height="1.5" fill="#e8c800" opacity="0.8"/>
<rect x="87.0" y="329.5" width="2" height="1.5" fill="#e8c800" opacity="0.8"/>
<rect x="90.0" y="329.5" width="3" height="1.5" fill="#e8c800" opacity="0.8"/>
<rect x="94.0" y="329.5" width="1" height="1.5" fill="#e8c800" opacity="0.8"/>
<rect x="95.5" y="329.5" width="3" height="1.5" fill="#e8c800" opacity="0.8"/>
<rect x="99.0" y="329.5" width="2" height="1.5" fill="#e8c800" opacity="0.8"/>
<rect x="102.0" y="329.5" width="2" height="1.5" fill="#e8c800" opacity="0.8"/>
<rect x="105.5" y="329.5" width="2" height="1.5" fill="#e8c800" opacity="0.8"/>
<rect x="109.0" y="329.5" width="1" height="1.5" fill="#e8c800" opacity="0.8"/>
<rect x="111.0" y="329.5" width="3" height="1.5" fill="#e8c800" opacity="0.8"/>
<rect x="124" y="329.6" width="5" height="1.6" fill="#e0d000" opacity="0.6"/>
<rect x="137" y="329.6" width="5" height="1.6" fill="#e8c000" opacity="0.55"/>
<rect x="158" y="329.6" width="5" height="1.6" fill="#e8d800" opacity="0.7"/>
<rect x="169" y="329.6" width="5" height="1.6" fill="#e8d800" opacity="0.7"/>
<rect x="193" y="329.6" width="5" height="1.6" fill="#e8d800" opacity="0.7"/>
<rect x="205" y="329.6" width="5" height="1.6" fill="#e8d800" opacity="0.7"/>
<rect x="217" y="329.6" width="5" height="1.6" fill="#30b030" opacity="0.7"/>
<rect x="230" y="329.6" width="5" height="1.6" fill="#e8d800" opacity="0.7"/>
<rect x="245" y="329.6" width="5" height="1.6" fill="#e8d800" opacity="0.7"/>
<rect x="260" y="329.6" width="5" height="1.6" fill="#e8d800" opacity="0.7"/>
<rect x="27" y="335.9" width="3" height="1.6" fill="#e0d000" opacity="0.7"/>
<rect x="38.0" y="334.4" width="1.5" height="1.3" fill="#d8b000" opacity="0.7"/>
<rect x="40.0" y="334.4" width="1.5" height="1.3" fill="#d8b000" opacity="0.7"/>
<rect x="37.5" y="336.9" width="2" height="1.3" fill="#d8b000" opacity="0.7"/>
<rect x="45.0" y="336.9" width="2.5" height="1.3" fill="#d8b000" opacity="0.7"/>
<rect x="59.0" y="335.8" width="1" height="1.5" fill="#e8c800" opacity="0.8"/>
<rect x="60.5" y="335.8" width="2.5" height="1.5" fill="#e8c800" opacity="0.8"/>
<rect x="65.0" y="335.8" width="1" height="1.5" fill="#e8c800" opacity="0.8"/>
<rect x="67.5" y="335.8" width="1.5" height="1.5" fill="#e8c800" opacity="0.8"/>
<rect x="69.5" y="335.8" width="3" height="1.5" fill="#e8c800" opacity="0.8"/>
<rect x="74.0" y="335.8" width="2.5" height="1.5" fill="#e8c800" opacity="0.8"/>
<rect x="77.0" y="335.8" width="3" height="1.5" fill="#e8c800" opacity="0.8"/>
<rect x="83.5" y="335.8" width="2.5" height="1.5" fill="#e8c800" opacity="0.8"/>
<rect x="86.5" y="335.8" width="2.5" height="1.5" fill="#e8c800" opacity="0.8"/>
<rect x="90.5" y="335.8" width="2.5" height="1.5" fill="#e8c800" opacity="0.8"/>
<rect x="94.5" y="335.8" width="2.5" height="1.5" fill="#e8c800" opacity="0.8"/>
<rect x="97.5" y="335.8" width="2" height="1.5" fill="#e8c800" opacity="0.8"/>
<rect x="100.0" y="335.8" width="1" height="1.5" fill="#e8c800" opacity="0.8"/>
<rect x="102.5" y="335.8" width="2" height="1.5" fill="#e8c800" opacity="0.8"/>
<rect x="105.5" y="335.8" width="3" height="1.5" fill="#e8c800" opacity="0.8"/>
<rect x="124" y="335.9" width="5" height="1.6" fill="#e0d000" opacity="0.6"/>
<rect x="137" y="335.9" width="5" height="1.6" fill="#e8c000" opacity="0.55"/>
<rect x="181" y="335.9" width="5" height="1.6" fill="#30b030" opacity="0.7"/>
<rect x="193" y="335.9" width="5" height="1.6" fill="#e8d800" opacity="0.7"/>
<rect x="230" y="335.9" width="5" height="1.6" fill="#e8d800" opacity="0.7"/>
<rect x="260" y="335.9" width="5" height="1.6" fill="#e83020" opacity="0.7"/>
<rect x="27" y="342.2" width="3" height="1.6" fill="#e0d000" opacity="0.7"/>
<rect x="38.0" y="340.7" width="3" height="1.3" fill="#d8b000" opacity="0.7"/>
<rect x="44.5" y="340.7" width="1.5" height="1.3" fill="#d8b000" opacity="0.7"/>
<rect x="35.0" y="343.2" width="1.5" height="1.3" fill="#d8b000" opacity="0.7"/>
<rect x="38.0" y="343.2" width="1" height="1.3" fill="#d8b000" opacity="0.7"/>
<rect x="39.5" y="343.2" width="1.5" height="1.3" fill="#d8b000" opacity="0.7"/>
<rect x="46.5" y="343.2" width="1" height="1.3" fill="#d8b000" opacity="0.7"/>
<rect x="59.0" y="342.1" width="1" height="1.5" fill="#e8c800" opacity="0.8"/>
<rect x="61.5" y="342.1" width="1" height="1.5" fill="#e8c800" opacity="0.8"/>
<rect x="64.0" y="342.1" width="2" height="1.5" fill="#e8c800" opacity="0.8"/>
<rect x="67.5" y="342.1" width="1" height="1.5" fill="#e8c800" opacity="0.8"/>
<rect x="70.0" y="342.1" width="2.5" height="1.5" fill="#e8c800" opacity="0.8"/>
<rect x="73.0" y="342.1" width="1.5" height="1.5" fill="#e8c800" opacity="0.8"/>
<rect x="75.0" y="342.1" width="1" height="1.5" fill="#e8c800" opacity="0.8"/>
<rect x="77.5" y="342.1" width="2" height="1.5" fill="#e8c800" opacity="0.8"/>
<rect x="80.0" y="342.1" width="1" height="1.5" fill="#e8c800" opacity="0.8"/>
<rect x="82.5" y="342.1" width="1.5" height="1.5" fill="#e8c800" opacity="0.8"/>
<rect x="85.0" y="342.1" width="2.5" height="1.5" fill="#e8c800" opacity="0.8"/>
<rect x="94.5" y="342.1" width="3" height="1.5" fill="#e8c800" opacity="0.8"/>
<rect x="98.5" y="342.1" width="3" height="1.5" fill="#e8c800" opacity="0.8"/>
<rect x="102.5" y="342.1" width="1" height="1.5" fill="#e8c800" opacity="0.8"/>
<rect x="104.0" y="342.1" width="2" height="1.5" fill="#e8c800" opacity="0.8"/>
<rect x="106.5" y="342.1" width="3" height="1.5" fill="#e8c800" opacity="0.8"/>
<rect x="111.0" y="342.1" width="1" height="1.5" fill="#e8c800" opacity="0.8"/>
<rect x="124" y="342.2" width="5" height="1.6" fill="#e0d000" opacity="0.6"/>
<rect x="137" y="342.2" width="5" height="1.6" fill="#e8c000" opacity="0.55"/>
<rect x="158" y="342.2" width="5" height="1.6" fill="#e8d800" opacity="0.7"/>
<rect x="169" y="342.2" width="5" height="1.6" fill="#e8d800" opacity="0.7"/>
<rect x="205" y="342.2" width="5" height="1.6" fill="#e83020" opacity="0.7"/>
<rect x="217" y="342.2" width="5" height="1.6" fill="#e8d800" opacity="0.7"/>
<rect x="245" y="342.2" width="5" height="1.6" fill="#30b030" opacity="0.7"/>
<rect x="260" y="342.2" width="5" height="1.6" fill="#e8d800" opacity="0.7"/>
<rect x="27" y="348.5" width="3" height="1.6" fill="#e0d000" opacity="0.7"/>
<rect x="38.5" y="347.0" width="1.5" height="1.3" fill="#d8b000" opacity="0.7"/>
<rect x="40.5" y="347.0" width="1" height="1.3" fill="#d8b000" opacity="0.7"/>
<rect x="35.0" y="349.5" width="2" height="1.3" fill="#d8b000" opacity="0.7"/>
<rect x="42.0" y="349.5" width="1" height="1.3" fill="#d8b000" opacity="0.7"/>
<rect x="44.5" y="349.5" width="1" height="1.3" fill="#d8b000" opacity="0.7"/>
<rect x="46.5" y="349.5" width="2" height="1.3" fill="#d8b000" opacity="0.7"/>
<rect x="59.0" y="348.4" width="3" height="1.5" fill="#e8c800" opacity="0.8"/>
<rect x="65.5" y="348.4" width="3" height="1.5" fill="#e8c800" opacity="0.8"/>
<rect x="70.0" y="348.4" width="3" height="1.5" fill="#e8c800" opacity="0.8"/>
<rect x="74.0" y="348.4" width="3" height="1.5" fill="#e8c800" opacity="0.8"/>
<rect x="77.5" y="348.4" width="2.5" height="1.5" fill="#e8c800" opacity="0.8"/>
<rect x="81.5" y="348.4" width="2" height="1.5" fill="#e8c800" opacity="0.8"/>
<rect x="84.5" y="348.4" width="2" height="1.5" fill="#e8c800" opacity="0.8"/>
<rect x="87.0" y="348.4" width="2" height="1.5" fill="#e8c800" opacity="0.8"/>
<rect x="90.5" y="348.4" width="1.5" height="1.5" fill="#e8c800" opacity="0.8"/>
<rect x="93.0" y="348.4" width="2" height="1.5" fill="#e8c800" opacity="0.8"/>
<rect x="96.5" y="348.4" width="1.5" height="1.5" fill="#e8c800" opacity="0.8"/>
<rect x="98.5" y="348.4" width="2" height="1.5" fill="#e8c800" opacity="0.8"/>
<rect x="101.5" y="348.4" width="1.5" height="1.5" fill="#e8c800" opacity="0.8"/>
<rect x="107.0" y="348.4" width="1" height="1.5" fill="#e8c800" opacity="0.8"/>
<rect x="109.5" y="348.4" width="1" height="1.5" fill="#e8c800" opacity="0.8"/>
<rect x="111.0" y="348.4" width="1.5" height="1.5" fill="#e8c800" opacity="0.8"/>
<rect x="124" y="348.5" width="5" height="1.6" fill="#e0d000" opacity="0.6"/>
<rect x="137" y="348.5" width="5" height="1.6" fill="#e8c000" opacity="0.55"/>
<rect x="158" y="348.5" width="5" height="1.6" fill="#e8d800" opacity="0.7"/>
<rect x="169" y="348.5" width="5" height="1.6" fill="#e8d800" opacity="0.7"/>
<rect x="181" y="348.5" width="5" height="1.6" fill="#e83020" opacity="0.7"/>
<rect x="193" y="348.5" width="5" height="1.6" fill="#e8d800" opacity="0.7"/>
<rect x="205" y="348.5" width="5" height="1.6" fill="#e83020" opacity="0.7"/>
<rect x="230" y="348.5" width="5" height="1.6" fill="#e8d800" opacity="0.7"/>
<rect x="245" y="348.5" width="5" height="1.6" fill="#e8d800" opacity="0.7"/>
<rect x="260" y="348.5" width="5" height="1.6" fill="#e83020" opacity="0.7"/>
<rect x="27" y="354.8" width="3" height="1.6" fill="#e0d000" opacity="0.7"/>
<rect x="37.0" y="353.3" width="3" height="1.3" fill="#d8b000" opacity="0.7"/>
<rect x="37.5" y="355.8" width="2.5" height="1.3" fill="#d8b000" opacity="0.7"/>
<rect x="59.0" y="354.7" width="1.5" height="1.5" fill="#e8c800" opacity="0.8"/>
<rect x="61.5" y="354.7" width="2.5" height="1.5" fill="#e8c800" opacity="0.8"/>
<rect x="65.5" y="354.7" width="2.5" height="1.5" fill="#e8c800" opacity="0.8"/>
<rect x="69.5" y="354.7" width="1.5" height="1.5" fill="#e8c800" opacity="0.8"/>
<rect x="72.0" y="354.7" width="1" height="1.5" fill="#e8c800" opacity="0.8"/>
<rect x="74.0" y="354.7" width="1" height="1.5" fill="#e8c800" opacity="0.8"/>
<rect x="76.5" y="354.7" width="1.5" height="1.5" fill="#e8c800" opacity="0.8"/>
<rect x="78.5" y="354.7" width="3" height="1.5" fill="#e8c800" opacity="0.8"/>
<rect x="83.0" y="354.7" width="2.5" height="1.5" fill="#e8c800" opacity="0.8"/>
<rect x="87.0" y="354.7" width="2.5" height="1.5" fill="#e8c800" opacity="0.8"/>
<rect x="91.0" y="354.7" width="2" height="1.5" fill="#e8c800" opacity="0.8"/>
<rect x="94.0" y="354.7" width="2.5" height="1.5" fill="#e8c800" opacity="0.8"/>
<rect x="98.0" y="354.7" width="1.5" height="1.5" fill="#e8c800" opacity="0.8"/>
<rect x="100.0" y="354.7" width="3" height="1.5" fill="#e8c800" opacity="0.8"/>
<rect x="103.5" y="354.7" width="2" height="1.5" fill="#e8c800" opacity="0.8"/>
<rect x="106.5" y="354.7" width="1" height="1.5" fill="#e8c800" opacity="0.8"/>
<rect x="108.5" y="354.7" width="2.5" height="1.5" fill="#e8c800" opacity="0.8"/>
<rect x="112.5" y="354.7" width="2" height="1.5" fill="#e8c800" opacity="0.8"/>
<rect x="124" y="354.8" width="5" height="1.6" fill="#e0d000" opacity="0.6"/>
<rect x="137" y="354.8" width="5" height="1.6" fill="#e8c000" opacity="0.55"/>
<rect x="158" y="354.8" width="5" height="1.6" fill="#e83020" opacity="0.7"/>
<rect x="181" y="354.8" width="5" height="1.6" fill="#e8d800" opacity="0.7"/>
<rect x="217" y="354.8" width="5" height="1.6" fill="#e8d800" opacity="0.7"/>
<rect x="230" y="354.8" width="5" height="1.6" fill="#e8d800" opacity="0.7"/>
<rect x="27" y="361.1" width="3" height="1.6" fill="#e0d000" opacity="0.7"/>
<rect x="59.0" y="361.0" width="1.5" height="1.5" fill="#e8c800" opacity="0.8"/>
<rect x="62.0" y="361.0" width="2" height="1.5" fill="#e8c800" opacity="0.8"/>
<rect x="65.5" y="361.0" width="2" height="1.5" fill="#e8c800" opacity="0.8"/>
<rect x="68.5" y="361.0" width="2.5" height="1.5" fill="#e8c800" opacity="0.8"/>
<rect x="71.5" y="361.0" width="2" height="1.5" fill="#e8c800" opacity="0.8"/>
<rect x="74.5" y="361.0" width="2.5" height="1.5" fill="#e8c800" opacity="0.8"/>
<rect x="78.5" y="361.0" width="2" height="1.5" fill="#e8c800" opacity="0.8"/>
<rect x="81.0" y="361.0" width="3" height="1.5" fill="#e8c800" opacity="0.8"/>
<rect x="85.5" y="361.0" width="3" height="1.5" fill="#e8c800" opacity="0.8"/>
<rect x="92.0" y="361.0" width="2" height="1.5" fill="#e8c800" opacity="0.8"/>
<rect x="94.5" y="361.0" width="3" height="1.5" fill="#e8c800" opacity="0.8"/>
<rect x="98.0" y="361.0" width="1.5" height="1.5" fill="#e8c800" opacity="0.8"/>
<rect x="100.5" y="361.0" width="1.5" height="1.5" fill="#e8c800" opacity="0.8"/>
<rect x="103.0" y="361.0" width="3" height="1.5" fill="#e8c800" opacity="0.8"/>
<rect x="111.0" y="361.0" width="3" height="1.5" fill="#e8c800" opacity="0.8"/>
<rect x="124" y="361.1" width="5" height="1.6" fill="#e0d000" opacity="0.6"/>
<rect x="137" y="361.1" width="5" height="1.6" fill="#e8c000" opacity="0.55"/>
<rect x="158" y="361.1" width="5" height="1.6" fill="#e8d800" opacity="0.7"/>
<rect x="169" y="361.1" width="5" height="1.6" fill="#e83020" opacity="0.7"/>
<rect x="193" y="361.1" width="5" height="1.6" fill="#e8d800" opacity="0.7"/>
<rect x="205" y="361.1" width="5" height="1.6" fill="#e8d800" opacity="0.7"/>
<rect x="230" y="361.1" width="5" height="1.6" fill="#30b030" opacity="0.7"/>
<rect x="245" y="361.1" width="5" height="1.6" fill="#e83020" opacity="0.7"/>
<rect x="27" y="367.4" width="3" height="1.6" fill="#e0d000" opacity="0.7"/>
<rect x="35.0" y="365.9" width="2.5" height="1.3" fill="#d8b000" opacity="0.7"/>
<rect x="38.0" y="365.9" width="3" height="1.3" fill="#d8b000" opacity="0.7"/>
<rect x="42.5" y="365.9" width="1" height="1.3" fill="#d8b000" opacity="0.7"/>
<rect x="38.0" y="368.4" width="2.5" height="1.3" fill="#d8b000" opacity="0.7"/>
<rect x="42.0" y="368.4" width="1" height="1.3" fill="#d8b000" opacity="0.7"/>
<rect x="44.0" y="368.4" width="1" height="1.3" fill="#d8b000" opacity="0.7"/>
<rect x="59.0" y="367.3" width="3" height="1.5" fill="#e8c800" opacity="0.8"/>
<rect x="62.5" y="367.3" width="1" height="1.5" fill="#e8c800" opacity="0.8"/>
<rect x="64.5" y="367.3" width="1.5" height="1.5" fill="#e8c800" opacity="0.8"/>
<rect x="67.5" y="367.3" width="2" height="1.5" fill="#e8c800" opacity="0.8"/>
<rect x="71.0" y="367.3" width="3" height="1.5" fill="#e8c800" opacity="0.8"/>
<rect x="74.5" y="367.3" width="2" height="1.5" fill="#e8c800" opacity="0.8"/>
<rect x="77.5" y="367.3" width="2" height="1.5" fill="#e8c800" opacity="0.8"/>
<rect x="80.5" y="367.3" width="2" height="1.5" fill="#e8c800" opacity="0.8"/>
<rect x="83.5" y="367.3" width="2.5" height="1.5" fill="#e8c800" opacity="0.8"/>
<rect x="87.0" y="367.3" width="3" height="1.5" fill="#e8c800" opacity="0.8"/>
<rect x="90.5" y="367.3" width="2.5" height="1.5" fill="#e8c800" opacity="0.8"/>
<rect x="94.0" y="367.3" width="1.5" height="1.5" fill="#e8c800" opacity="0.8"/>
<rect x="96.5" y="367.3" width="1.5" height="1.5" fill="#e8c800" opacity="0.8"/>
<rect x="99.5" y="367.3" width="1" height="1.5" fill="#e8c800" opacity="0.8"/>
<rect x="101.0" y="367.3" width="2.5" height="1.5" fill="#e8c800" opacity="0.8"/>
<rect x="104.5" y="367.3" width="3" height="1.5" fill="#e8c800" opacity="0.8"/>
<rect x="108.5" y="367.3" width="2" height="1.5" fill="#e8c800" opacity="0.8"/>
<rect x="111.0" y="367.3" width="1.5" height="1.5" fill="#e8c800" opacity="0.8"/>
<rect x="124" y="367.4" width="5" height="1.6" fill="#e0d000" opacity="0.6"/>
<rect x="137" y="367.4" width="5" height="1.6" fill="#e8c000" opacity="0.55"/>
<rect x="260" y="367.4" width="5" height="1.6" fill="#e8d800" opacity="0.7"/>
<rect x="27" y="373.7" width="3" height="1.6" fill="#e0d000" opacity="0.7"/>
<rect x="35.0" y="372.2" width="1.5" height="1.3" fill="#d8b000" opacity="0.7"/>
<rect x="46.5" y="372.2" width="1" height="1.3" fill="#d8b000" opacity="0.7"/>
<rect x="35.0" y="374.7" width="2" height="1.3" fill="#d8b000" opacity="0.7"/>
<rect x="38.0" y="374.7" width="2" height="1.3" fill="#d8b000" opacity="0.7"/>
<rect x="40.5" y="374.7" width="2" height="1.3" fill="#d8b000" opacity="0.7"/>
<rect x="59.0" y="373.6" width="2.5" height="1.5" fill="#e8c800" opacity="0.8"/>
<rect x="62.0" y="373.6" width="1" height="1.5" fill="#e8c800" opacity="0.8"/>
<rect x="64.0" y="373.6" width="3" height="1.5" fill="#e8c800" opacity="0.8"/>
<rect x="68.0" y="373.6" width="2.5" height="1.5" fill="#e8c800" opacity="0.8"/>
<rect x="72.0" y="373.6" width="2.5" height="1.5" fill="#e8c800" opacity="0.8"/>
<rect x="76.0" y="373.6" width="1.5" height="1.5" fill="#e8c800" opacity="0.8"/>
<rect x="78.5" y="373.6" width="3" height="1.5" fill="#e8c800" opacity="0.8"/>
<rect x="83.0" y="373.6" width="2.5" height="1.5" fill="#e8c800" opacity="0.8"/>
<rect x="86.0" y="373.6" width="1" height="1.5" fill="#e8c800" opacity="0.8"/>
<rect x="89.0" y="373.6" width="1.5" height="1.5" fill="#e8c800" opacity="0.8"/>
<rect x="91.0" y="373.6" width="2.5" height="1.5" fill="#e8c800" opacity="0.8"/>
<rect x="95.0" y="373.6" width="3" height="1.5" fill="#e8c800" opacity="0.8"/>
<rect x="102.0" y="373.6" width="1.5" height="1.5" fill="#e8c800" opacity="0.8"/>
<rect x="104.0" y="373.6" width="2" height="1.5" fill="#e8c800" opacity="0.8"/>
<rect x="107.5" y="373.6" width="2.5" height="1.5" fill="#e8c800" opacity="0.8"/>
<rect x="111.0" y="373.6" width="1" height="1.5" fill="#e8c800" opacity="0.8"/>
<rect x="112.5" y="373.6" width="1" height="1.5" fill="#e8c800" opacity="0.8"/>
<rect x="124" y="373.7" width="5" height="1.6" fill="#e0d000" opacity="0.6"/>
<rect x="137" y="373.7" width="5" height="1.6" fill="#e8c000" opacity="0.55"/>
<rect x="181" y="373.7" width="5" height="1.6" fill="#e8d800" opacity="0.7"/>
<rect x="205" y="373.7" width="5" height="1.6" fill="#e83020" opacity="0.7"/>
<rect x="230" y="373.7" width="5" height="1.6" fill="#30b030" opacity="0.7"/>
<rect x="260" y="373.7" width="5" height="1.6" fill="#e8d800" opacity="0.7"/>
<rect x="27" y="380.0" width="3" height="1.6" fill="#e0d000" opacity="0.7"/>
<rect x="39.5" y="378.5" width="2.5" height="1.3" fill="#d8b000" opacity="0.7"/>
<rect x="46.5" y="378.5" width="2" height="1.3" fill="#d8b000" opacity="0.7"/>
<rect x="39.5" y="381.0" width="3" height="1.3" fill="#d8b000" opacity="0.7"/>
<rect x="46.5" y="381.0" width="2" height="1.3" fill="#d8b000" opacity="0.7"/>
<rect x="59.0" y="379.9" width="2.5" height="1.5" fill="#e8c800" opacity="0.8"/>
<rect x="62.5" y="379.9" width="3" height="1.5" fill="#e8c800" opacity="0.8"/>
<rect x="66.0" y="379.9" width="2.5" height="1.5" fill="#e8c800" opacity="0.8"/>
<rect x="69.0" y="379.9" width="2" height="1.5" fill="#e8c800" opacity="0.8"/>
<rect x="72.0" y="379.9" width="1.5" height="1.5" fill="#e8c800" opacity="0.8"/>
<rect x="74.0" y="379.9" width="2" height="1.5" fill="#e8c800" opacity="0.8"/>
<rect x="77.5" y="379.9" width="1.5" height="1.5" fill="#e8c800" opacity="0.8"/>
<rect x="80.5" y="379.9" width="2.5" height="1.5" fill="#e8c800" opacity="0.8"/>
<rect x="83.5" y="379.9" width="3" height="1.5" fill="#e8c800" opacity="0.8"/>
<rect x="87.5" y="379.9" width="1.5" height="1.5" fill="#e8c800" opacity="0.8"/>
<rect x="90.5" y="379.9" width="1.5" height="1.5" fill="#e8c800" opacity="0.8"/>
<rect x="92.5" y="379.9" width="2.5" height="1.5" fill="#e8c800" opacity="0.8"/>
<rect x="95.5" y="379.9" width="2" height="1.5" fill="#e8c800" opacity="0.8"/>
<rect x="98.0" y="379.9" width="2.5" height="1.5" fill="#e8c800" opacity="0.8"/>
<rect x="101.0" y="379.9" width="3" height="1.5" fill="#e8c800" opacity="0.8"/>
<rect x="104.5" y="379.9" width="1.5" height="1.5" fill="#e8c800" opacity="0.8"/>
<rect x="107.5" y="379.9" width="2" height="1.5" fill="#e8c800" opacity="0.8"/>
<rect x="111.0" y="379.9" width="2" height="1.5" fill="#e8c800" opacity="0.8"/>
<rect x="124" y="380.0" width="5" height="1.6" fill="#e0d000" opacity="0.6"/>
<rect x="137" y="380.0" width="5" height="1.6" fill="#e8c000" opacity="0.55"/>
<rect x="158" y="380.0" width="5" height="1.6" fill="#e8d800" opacity="0.7"/>
<rect x="169" y="380.0" width="5" height="1.6" fill="#e8d800" opacity="0.7"/>
<rect x="193" y="380.0" width="5" height="1.6" fill="#30b030" opacity="0.7"/>
<rect x="205" y="380.0" width="5" height="1.6" fill="#e83020" opacity="0.7"/>
<rect x="245" y="380.0" width="5" height="1.6" fill="#e83020" opacity="0.7"/>
<rect x="260" y="380.0" width="5" height="1.6" fill="#e8d800" opacity="0.7"/>
<rect x="27" y="386.3" width="3" height="1.6" fill="#e0d000" opacity="0.7"/>
<rect x="37.5" y="384.8" width="1.5" height="1.3" fill="#d8b000" opacity="0.7"/>
<rect x="39.5" y="384.8" width="2" height="1.3" fill="#d8b000" opacity="0.7"/>
<rect x="43.0" y="384.8" width="1" height="1.3" fill="#d8b000" opacity="0.7"/>
<rect x="44.5" y="384.8" width="3" height="1.3" fill="#d8b000" opacity="0.7"/>
<rect x="35.0" y="387.3" width="1.5" height="1.3" fill="#d8b000" opacity="0.7"/>
<rect x="37.5" y="387.3" width="2.5" height="1.3" fill="#d8b000" opacity="0.7"/>
<rect x="61.5" y="386.2" width="1" height="1.5" fill="#e8c800" opacity="0.8"/>
<rect x="63.0" y="386.2" width="3" height="1.5" fill="#e8c800" opacity="0.8"/>
<rect x="67.5" y="386.2" width="2.5" height="1.5" fill="#e8c800" opacity="0.8"/>
<rect x="70.5" y="386.2" width="3" height="1.5" fill="#e8c800" opacity="0.8"/>
<rect x="74.0" y="386.2" width="1" height="1.5" fill="#e8c800" opacity="0.8"/>
<rect x="76.5" y="386.2" width="1.5" height="1.5" fill="#e8c800" opacity="0.8"/>
<rect x="79.5" y="386.2" width="3" height="1.5" fill="#e8c800" opacity="0.8"/>
<rect x="83.5" y="386.2" width="1.5" height="1.5" fill="#e8c800" opacity="0.8"/>
<rect x="85.5" y="386.2" width="1.5" height="1.5" fill="#e8c800" opacity="0.8"/>
<rect x="88.0" y="386.2" width="2" height="1.5" fill="#e8c800" opacity="0.8"/>
<rect x="91.5" y="386.2" width="1" height="1.5" fill="#e8c800" opacity="0.8"/>
<rect x="93.0" y="386.2" width="2" height="1.5" fill="#e8c800" opacity="0.8"/>
<rect x="96.5" y="386.2" width="2.5" height="1.5" fill="#e8c800" opacity="0.8"/>
<rect x="99.5" y="386.2" width="2" height="1.5" fill="#e8c800" opacity="0.8"/>
<rect x="102.0" y="386.2" width="2" height="1.5" fill="#e8c800" opacity="0.8"/>
<rect x="105.0" y="386.2" width="1" height="1.5" fill="#e8c800" opacity="0.8"/>
<rect x="107.0" y="386.2" width="2" height="1.5" fill="#e8c800" opacity="0.8"/>
<rect x="110.0" y="386.2" width="2.5" height="1.5" fill="#e8c800" opacity="0.8"/>
<rect x="124" y="386.3" width="5" height="1.6" fill="#e0d000" opacity="0.6"/>
<rect x="137" y="386.3" width="5" height="1.6" fill="#e8c000" opacity="0.55"/>
<rect x="158" y="386.3" width="5" height="1.6" fill="#e8d800" opacity="0.7"/>
<rect x="193" y="386.3" width="5" height="1.6" fill="#e8d800" opacity="0.7"/>
<rect x="217" y="386.3" width="5" height="1.6" fill="#e8d800" opacity="0.7"/>
<rect x="230" y="386.3" width="5" height="1.6" fill="#30b030" opacity="0.7"/>
<rect x="23" y="295.8" width="246" height="1.5" fill="#3cf03c"/>
<rect x="23" y="314.8" width="246" height="1.5" fill="#3cf03c"/>
<rect x="23" y="358.8" width="246" height="1.5" fill="#3cf03c"/>
<rect x="23" y="377.3" width="246" height="1.5" fill="#3cf03c"/>
<rect x="119.8" y="277" width="1.5" height="115" fill="#3cf03c"/>
<rect x="131.9" y="277" width="1.5" height="115" fill="#3cf03c"/>
<rect x="150.8" y="277" width="1.5" height="115" fill="#3cf03c"/>
<rect x="26" y="427" width="240" height="136" fill="#6c6966"/>
<polygon points="26,427 234.3,427 234.3,447 208.4,445 144,455 26,474" fill="#8e8780"/>
<g clip-path="url(#ceil)">
<line x1="26" y1="304.0" x2="240" y2="399.0" stroke="#4f4a46" stroke-width="1.7" opacity="0.75"/>
<line x1="26" y1="308.1" x2="240" y2="403.1" stroke="#4f4a46" stroke-width="1.7" opacity="0.75"/>
<line x1="26" y1="312.2" x2="240" y2="407.2" stroke="#4f4a46" stroke-width="1.7" opacity="0.75"/>
<line x1="26" y1="316.3" x2="240" y2="411.3" stroke="#4f4a46" stroke-width="1.7" opacity="0.75"/>
<line x1="26" y1="320.4" x2="240" y2="415.4" stroke="#4f4a46" stroke-width="1.7" opacity="0.75"/>
<line x1="26" y1="324.5" x2="240" y2="419.5" stroke="#4f4a46" stroke-width="1.7" opacity="0.75"/>
<line x1="26" y1="328.6" x2="240" y2="423.6" stroke="#4f4a46" stroke-width="1.7" opacity="0.75"/>
<line x1="26" y1="332.7" x2="240" y2="427.7" stroke="#4f4a46" stroke-width="1.7" opacity="0.75"/>
<line x1="26" y1="336.8" x2="240" y2="431.8" stroke="#4f4a46" stroke-width="1.7" opacity="0.75"/>
<line x1="26" y1="340.9" x2="240" y2="435.9" stroke="#4f4a46" stroke-width="1.7" opacity="0.75"/>
<line x1="26" y1="345.0" x2="240" y2="440.0" stroke="#4f4a46" stroke-width="1.7" opacity="0.75"/>
<line x1="26" y1="349.1" x2="240" y2="444.1" stroke="#4f4a46" stroke-width="1.7" opacity="0.75"/>
<line x1="26" y1="353.2" x2="240" y2="448.2" stroke="#4f4a46" stroke-width="1.7" opacity="0.75"/>
<line x1="26" y1="357.3" x2="240" y2="452.3" stroke="#4f4a46" stroke-width="1.7" opacity="0.75"/>
<line x1="26" y1="361.4" x2="240" y2="456.4" stroke="#4f4a46" stroke-width="1.7" opacity="0.75"/>
<line x1="26" y1="365.5" x2="240" y2="460.5" stroke="#4f4a46" stroke-width="1.7" opacity="0.75"/>
<line x1="26" y1="369.6" x2="240" y2="464.6" stroke="#4f4a46" stroke-width="1.7" opacity="0.75"/>
<line x1="26" y1="373.7" x2="240" y2="468.7" stroke="#4f4a46" stroke-width="1.7" opacity="0.75"/>
<line x1="26" y1="377.8" x2="240" y2="472.8" stroke="#4f4a46" stroke-width="1.7" opacity="0.75"/>
<line x1="26" y1="381.9" x2="240" y2="476.9" stroke="#4f4a46" stroke-width="1.7" opacity="0.75"/>
<line x1="26" y1="386.0" x2="240" y2="481.0" stroke="#4f4a46" stroke-width="1.7" opacity="0.75"/>
<line x1="26" y1="390.1" x2="240" y2="485.1" stroke="#4f4a46" stroke-width="1.7" opacity="0.75"/>
<line x1="26" y1="394.2" x2="240" y2="489.2" stroke="#4f4a46" stroke-width="1.7" opacity="0.75"/>
<line x1="26" y1="398.3" x2="240" y2="493.3" stroke="#4f4a46" stroke-width="1.7" opacity="0.75"/>
<line x1="26" y1="402.4" x2="240" y2="497.4" stroke="#4f4a46" stroke-width="1.7" opacity="0.75"/>
<line x1="26" y1="406.5" x2="240" y2="501.5" stroke="#4f4a46" stroke-width="1.7" opacity="0.75"/>
<line x1="26" y1="410.6" x2="240" y2="505.6" stroke="#4f4a46" stroke-width="1.7" opacity="0.75"/>
<line x1="26" y1="414.7" x2="240" y2="509.7" stroke="#4f4a46" stroke-width="1.7" opacity="0.75"/>
<line x1="26" y1="418.8" x2="240" y2="513.8" stroke="#4f4a46" stroke-width="1.7" opacity="0.75"/>
<line x1="26" y1="422.9" x2="240" y2="517.9" stroke="#4f4a46" stroke-width="1.7" opacity="0.75"/>
<line x1="26" y1="427.0" x2="240" y2="522.0" stroke="#4f4a46" stroke-width="1.7" opacity="0.75"/>
<line x1="26" y1="431.1" x2="240" y2="526.1" stroke="#4f4a46" stroke-width="1.7" opacity="0.75"/>
<line x1="26" y1="435.2" x2="240" y2="530.2" stroke="#4f4a46" stroke-width="1.7" opacity="0.75"/>
<line x1="26" y1="439.3" x2="240" y2="534.3" stroke="#4f4a46" stroke-width="1.7" opacity="0.75"/>
<line x1="26" y1="443.4" x2="240" y2="538.4" stroke="#4f4a46" stroke-width="1.7" opacity="0.75"/>
<line x1="26" y1="447.5" x2="240" y2="542.5" stroke="#4f4a46" stroke-width="1.7" opacity="0.75"/>
<line x1="26" y1="451.6" x2="240" y2="546.6" stroke="#4f4a46" stroke-width="1.7" opacity="0.75"/>
<line x1="26" y1="455.7" x2="240" y2="550.7" stroke="#4f4a46" stroke-width="1.7" opacity="0.75"/>
<line x1="26" y1="459.8" x2="240" y2="554.8" stroke="#4f4a46" stroke-width="1.7" opacity="0.75"/>
<line x1="26" y1="463.9" x2="240" y2="558.9" stroke="#4f4a46" stroke-width="1.7" opacity="0.75"/>
<line x1="26" y1="468.0" x2="240" y2="563.0" stroke="#4f4a46" stroke-width="1.7" opacity="0.75"/>
<line x1="26" y1="472.1" x2="240" y2="567.1" stroke="#4f4a46" stroke-width="1.7" opacity="0.75"/>
<line x1="26" y1="476.2" x2="240" y2="571.2" stroke="#4f4a46" stroke-width="1.7" opacity="0.75"/>
<line x1="26" y1="480.3" x2="240" y2="575.3" stroke="#4f4a46" stroke-width="1.7" opacity="0.75"/>
<line x1="26" y1="484.4" x2="240" y2="579.4" stroke="#4f4a46" stroke-width="1.7" opacity="0.75"/>
<line x1="26" y1="488.5" x2="240" y2="583.5" stroke="#4f4a46" stroke-width="1.7" opacity="0.75"/>
<line x1="26" y1="492.6" x2="240" y2="587.6" stroke="#4f4a46" stroke-width="1.7" opacity="0.75"/>
<line x1="26" y1="496.7" x2="240" y2="591.7" stroke="#4f4a46" stroke-width="1.7" opacity="0.75"/>
<line x1="26" y1="500.8" x2="240" y2="595.8" stroke="#4f4a46" stroke-width="1.7" opacity="0.75"/>
<line x1="26" y1="504.9" x2="240" y2="599.9" stroke="#4f4a46" stroke-width="1.7" opacity="0.75"/>
<line x1="26" y1="509.0" x2="240" y2="604.0" stroke="#4f4a46" stroke-width="1.7" opacity="0.75"/>
<line x1="26" y1="513.1" x2="240" y2="608.1" stroke="#4f4a46" stroke-width="1.7" opacity="0.75"/>
<line x1="26" y1="517.2" x2="240" y2="612.2" stroke="#4f4a46" stroke-width="1.7" opacity="0.75"/>
<line x1="26" y1="521.3" x2="240" y2="616.3" stroke="#4f4a46" stroke-width="1.7" opacity="0.75"/>
<line x1="26" y1="525.4" x2="240" y2="620.4" stroke="#4f4a46" stroke-width="1.7" opacity="0.75"/>
<line x1="26" y1="529.5" x2="240" y2="624.5" stroke="#4f4a46" stroke-width="1.7" opacity="0.75"/>
<line x1="26" y1="533.6" x2="240" y2="628.6" stroke="#4f4a46" stroke-width="1.7" opacity="0.75"/>
<line x1="26" y1="537.7" x2="240" y2="632.7" stroke="#4f4a46" stroke-width="1.7" opacity="0.75"/>
<line x1="26" y1="541.8" x2="240" y2="636.8" stroke="#4f4a46" stroke-width="1.7" opacity="0.75"/>
<line x1="26" y1="545.9" x2="240" y2="640.9" stroke="#4f4a46" stroke-width="1.7" opacity="0.75"/>
<line x1="26" y1="550.0" x2="240" y2="645.0" stroke="#4f4a46" stroke-width="1.7" opacity="0.75"/>
<line x1="26" y1="554.1" x2="240" y2="649.1" stroke="#4f4a46" stroke-width="1.7" opacity="0.75"/>
<line x1="26" y1="558.2" x2="240" y2="653.2" stroke="#4f4a46" stroke-width="1.7" opacity="0.75"/>
<line x1="26" y1="562.3" x2="240" y2="657.3" stroke="#4f4a46" stroke-width="1.7" opacity="0.75"/>
<line x1="26" y1="566.4" x2="240" y2="661.4" stroke="#4f4a46" stroke-width="1.7" opacity="0.75"/>
<line x1="26" y1="570.5" x2="240" y2="665.5" stroke="#4f4a46" stroke-width="1.7" opacity="0.75"/>
<line x1="26" y1="574.6" x2="240" y2="669.6" stroke="#4f4a46" stroke-width="1.7" opacity="0.75"/>
<line x1="26" y1="578.7" x2="240" y2="673.7" stroke="#4f4a46" stroke-width="1.7" opacity="0.75"/>
<line x1="26" y1="582.8" x2="240" y2="677.8" stroke="#4f4a46" stroke-width="1.7" opacity="0.75"/>
<line x1="26" y1="586.9" x2="240" y2="681.9" stroke="#4f4a46" stroke-width="1.7" opacity="0.75"/>
<line x1="26" y1="591.0" x2="240" y2="686.0" stroke="#4f4a46" stroke-width="1.7" opacity="0.75"/>
<line x1="26" y1="595.1" x2="240" y2="690.1" stroke="#4f4a46" stroke-width="1.7" opacity="0.75"/>
<line x1="26" y1="599.2" x2="240" y2="694.2" stroke="#4f4a46" stroke-width="1.7" opacity="0.75"/>
<line x1="26" y1="603.3" x2="240" y2="698.3" stroke="#4f4a46" stroke-width="1.7" opacity="0.75"/>
<line x1="26" y1="607.4" x2="240" y2="702.4" stroke="#4f4a46" stroke-width="1.7" opacity="0.75"/>
<line x1="26" y1="611.5" x2="240" y2="706.5" stroke="#4f4a46" stroke-width="1.7" opacity="0.75"/>
<line x1="26" y1="615.6" x2="240" y2="710.6" stroke="#4f4a46" stroke-width="1.7" opacity="0.75"/>
<line x1="26" y1="619.7" x2="240" y2="714.7" stroke="#4f4a46" stroke-width="1.7" opacity="0.75"/>
<line x1="26" y1="623.8" x2="240" y2="718.8" stroke="#4f4a46" stroke-width="1.7" opacity="0.75"/>
<line x1="26" y1="627.9" x2="240" y2="722.9" stroke="#4f4a46" stroke-width="1.7" opacity="0.75"/>
<line x1="26" y1="632.0" x2="240" y2="727.0" stroke="#4f4a46" stroke-width="1.7" opacity="0.75"/>
<line x1="26" y1="636.1" x2="240" y2="731.1" stroke="#4f4a46" stroke-width="1.7" opacity="0.75"/>
<line x1="26" y1="640.2" x2="240" y2="735.2" stroke="#4f4a46" stroke-width="1.7" opacity="0.75"/>
<line x1="26" y1="644.3" x2="240" y2="739.3" stroke="#4f4a46" stroke-width="1.7" opacity="0.75"/>
<line x1="26" y1="648.4" x2="240" y2="743.4" stroke="#4f4a46" stroke-width="1.7" opacity="0.75"/>
<line x1="26" y1="652.5" x2="240" y2="747.5" stroke="#4f4a46" stroke-width="1.7" opacity="0.75"/>
<line x1="26" y1="656.6" x2="240" y2="751.6" stroke="#4f4a46" stroke-width="1.7" opacity="0.75"/>
<line x1="26" y1="660.7" x2="240" y2="755.7" stroke="#4f4a46" stroke-width="1.7" opacity="0.75"/>
<line x1="26" y1="664.8" x2="240" y2="759.8" stroke="#4f4a46" stroke-width="1.7" opacity="0.75"/>
<line x1="26" y1="668.9" x2="240" y2="763.9" stroke="#4f4a46" stroke-width="1.7" opacity="0.75"/>
</g>
<polygon points="26,474 144,455 208.4,445 208.4,449 144,459 26,478" fill="#5a544f" opacity="0.7"/>
<rect x="26" y="427" width="13" height="5" fill="#e8e4e0" opacity="0.6"/>
<polygon points="26,474 52,470 52,563 26,563" fill="#8c9093"/>
<polygon points="52,469 64,467 64,563 52,563" fill="#999c9e"/>
<rect x="26" y="558" width="40" height="5" fill="#dcdcdc"/>
<rect x="26" y="557" width="40" height="1.5" fill="#3a3a3a" opacity="0.6"/>
<polygon points="204.2,446 234.3,447 234.3,563 204.2,563" fill="#858a8a"/>
<rect x="234.3" y="428" width="31.5" height="135" fill="#aab2b0"/>
<rect x="234.3" y="428" width="3" height="135" fill="#8e9694"/>
<polygon points="82,469 205,452 205,542 77.5,544" fill="#0a0c14"/>
<polygon points="83.5,471 203,454.5 203,539.5 79.5,541.5" fill="#172a72"/>
<polygon points="79.5,541.5 203,539.5 205,542 77.5,544" fill="#d0d4dc"/>
<polygon points="95,472 203,456 203,464 95,478" fill="#2448b0" opacity="0.55"/>
<circle cx="122.9" cy="467.4" r="0.9" fill="#6aa0f0" opacity="0.7"/>
<circle cx="118.9" cy="473.3" r="0.9" fill="#6aa0f0" opacity="0.7"/>
<circle cx="187.5" cy="466.3" r="0.9" fill="#6aa0f0" opacity="0.7"/>
<circle cx="151.6" cy="464.6" r="0.9" fill="#6aa0f0" opacity="0.7"/>
<circle cx="185.7" cy="464.6" r="0.9" fill="#6aa0f0" opacity="0.7"/>
<circle cx="167.8" cy="461.5" r="0.9" fill="#6aa0f0" opacity="0.7"/>
<circle cx="130.4" cy="462.3" r="0.9" fill="#6aa0f0" opacity="0.7"/>
<circle cx="175.7" cy="466.0" r="0.9" fill="#6aa0f0" opacity="0.7"/>
<circle cx="123.3" cy="472.4" r="0.9" fill="#6aa0f0" opacity="0.7"/>
<circle cx="134.5" cy="466.4" r="0.9" fill="#6aa0f0" opacity="0.7"/>
<circle cx="124.3" cy="465.2" r="0.9" fill="#6aa0f0" opacity="0.7"/>
<circle cx="187.2" cy="462.8" r="0.9" fill="#6aa0f0" opacity="0.7"/>
<circle cx="125.4" cy="467.8" r="0.9" fill="#6aa0f0" opacity="0.7"/>
<circle cx="139.3" cy="472.0" r="0.9" fill="#6aa0f0" opacity="0.7"/>
<circle cx="120.5" cy="473.9" r="0.9" fill="#6aa0f0" opacity="0.7"/>
<circle cx="115.2" cy="473.1" r="0.9" fill="#6aa0f0" opacity="0.7"/>
<circle cx="171.5" cy="462.1" r="0.9" fill="#6aa0f0" opacity="0.7"/>
<circle cx="153.9" cy="463.9" r="0.9" fill="#6aa0f0" opacity="0.7"/>
<circle cx="133.7" cy="463.9" r="0.9" fill="#6aa0f0" opacity="0.7"/>
<circle cx="143.5" cy="472.9" r="0.9" fill="#6aa0f0" opacity="0.7"/>
<circle cx="201.8" cy="469.2" r="0.9" fill="#6aa0f0" opacity="0.7"/>
<circle cx="119.0" cy="465.7" r="0.9" fill="#6aa0f0" opacity="0.7"/>
<circle cx="192.5" cy="459.2" r="0.9" fill="#6aa0f0" opacity="0.7"/>
<circle cx="176.8" cy="462.8" r="0.9" fill="#6aa0f0" opacity="0.7"/>
<circle cx="200.0" cy="458.3" r="0.9" fill="#6aa0f0" opacity="0.7"/>
<circle cx="184.2" cy="463.0" r="0.9" fill="#6aa0f0" opacity="0.7"/>
<circle cx="122.9" cy="462.0" r="0.9" fill="#6aa0f0" opacity="0.7"/>
<circle cx="186.6" cy="465.1" r="0.9" fill="#6aa0f0" opacity="0.7"/>
<circle cx="127.1" cy="467.0" r="0.9" fill="#6aa0f0" opacity="0.7"/>
<circle cx="193.9" cy="461.1" r="0.9" fill="#6aa0f0" opacity="0.7"/>
<polygon points="88,474 110,471 110,476 88,479" fill="#2a60d0" opacity="0.9"/>
<rect x="84" y="479.6" width="17" height="8.4" fill="#d8604c"/>
<rect x="84" y="489.4" width="16" height="8.1" fill="#30c0b8"/>
<rect x="83" y="498.8" width="17" height="9.2" fill="#e8a850"/>
<ellipse cx="135" cy="524" rx="7.3" ry="8.5" fill="#d8e820"/>
<rect x="157.7" y="508" width="42.3" height="20.6" fill="#1c3090"/>
<rect x="158.5" y="509.5" width="41" height="3" fill="#3058e0"/>
<rect x="161" y="514.5" width="36" height="1" fill="#b0c0f0" opacity="0.55"/>
<rect x="161" y="518.0" width="36" height="1" fill="#b0c0f0" opacity="0.55"/>
<rect x="161" y="521.5" width="36" height="1" fill="#b0c0f0" opacity="0.55"/>
<rect x="161" y="525.0" width="36" height="1" fill="#b0c0f0" opacity="0.55"/>
<line x1="152" y1="479.0" x2="199" y2="475.0" stroke="#50b0e8" stroke-width="1.5" stroke-dasharray="3.5,2" opacity="0.8"/>
<line x1="152" y1="484.5" x2="199" y2="480.5" stroke="#50b0e8" stroke-width="1.5" stroke-dasharray="3.5,2" opacity="0.8"/>
<line x1="152" y1="490.0" x2="199" y2="486.0" stroke="#50b0e8" stroke-width="1.5" stroke-dasharray="3.5,2" opacity="0.8"/>
<line x1="152" y1="495.5" x2="199" y2="491.5" stroke="#50b0e8" stroke-width="1.5" stroke-dasharray="3.5,2" opacity="0.8"/>
<circle cx="123.9" cy="487.6" r="0.9" fill="#a0c4f0" opacity="0.8"/>
<circle cx="116.4" cy="499.6" r="0.9" fill="#a0c4f0" opacity="0.8"/>
<circle cx="126.5" cy="488.7" r="0.9" fill="#a0c4f0" opacity="0.8"/>
<circle cx="114.5" cy="486.7" r="0.9" fill="#a0c4f0" opacity="0.8"/>
<circle cx="124.6" cy="494.4" r="0.9" fill="#a0c4f0" opacity="0.8"/>
<circle cx="118.2" cy="488.9" r="0.9" fill="#a0c4f0" opacity="0.8"/>
<circle cx="124.6" cy="498.4" r="0.9" fill="#a0c4f0" opacity="0.8"/>
<circle cx="128.4" cy="496.1" r="0.9" fill="#a0c4f0" opacity="0.8"/>
<circle cx="116.8" cy="486.2" r="0.9" fill="#a0c4f0" opacity="0.8"/>
<circle cx="126.9" cy="492.8" r="0.9" fill="#a0c4f0" opacity="0.8"/>
<circle cx="126.7" cy="486.1" r="0.9" fill="#a0c4f0" opacity="0.8"/>
<circle cx="128.4" cy="491.4" r="0.9" fill="#a0c4f0" opacity="0.8"/>
<circle cx="129.0" cy="501.4" r="0.9" fill="#a0c4f0" opacity="0.8"/>
<circle cx="122.4" cy="485.3" r="0.9" fill="#a0c4f0" opacity="0.8"/>
<circle cx="130.3" cy="494.1" r="0.9" fill="#a0c4f0" opacity="0.8"/>
<circle cx="129.6" cy="490.1" r="0.9" fill="#a0c4f0" opacity="0.8"/>
<circle cx="116.5" cy="500.8" r="0.9" fill="#a0c4f0" opacity="0.8"/>
<circle cx="120.0" cy="488.1" r="0.9" fill="#a0c4f0" opacity="0.8"/>
<circle cx="120.1" cy="496.3" r="0.9" fill="#a0c4f0" opacity="0.8"/>
<circle cx="113.1" cy="494.9" r="0.9" fill="#a0c4f0" opacity="0.8"/>
<circle cx="121.5" cy="494.8" r="0.9" fill="#a0c4f0" opacity="0.8"/>
<circle cx="115.3" cy="498.6" r="0.9" fill="#a0c4f0" opacity="0.8"/>
<circle cx="128.5" cy="501.4" r="0.9" fill="#a0c4f0" opacity="0.8"/>
<circle cx="119.1" cy="498.5" r="0.9" fill="#a0c4f0" opacity="0.8"/>
<circle cx="120.2" cy="499.3" r="0.9" fill="#a0c4f0" opacity="0.8"/>
<line x1="111" y1="478" x2="111" y2="538" stroke="#2a4cb0" stroke-width="0.8"/>
<line x1="147" y1="470" x2="147" y2="506" stroke="#2a4cb0" stroke-width="0.8"/>
<line x1="84" y1="511" x2="200" y2="507" stroke="#2a4cb0" stroke-width="0.8"/>
<rect x="103" y="522" width="1.3" height="11" fill="#5aaaf0"/>
<rect x="88" y="532" width="20" height="1" fill="#5aaaf0" opacity="0.6"/>
<rect x="338" y="423" width="259" height="140" fill="#eef2f8"/>
<rect x="338" y="423" width="259" height="3.5" fill="#e04450"/>
<rect x="338" y="426.5" width="259" height="4.3" fill="#c3d6f2"/>
<rect x="338" y="430.8" width="259" height="6.5" fill="#b6cdf0"/>
<rect x="338" y="437" width="259" height="0.8" fill="#3050a0"/>
<rect x="338" y="438" width="259" height="3" fill="#fdfdfd"/>
<rect x="338" y="441" width="259" height="7" fill="#ececec"/>
<rect x="375.7" y="444" width="9.3" height="3" fill="#2a7ad8"/>
<rect x="338" y="448" width="259" height="3" fill="#b8d0f0"/>
<rect x="340" y="448" width="12" height="3" fill="#f0b060"/>
<rect x="338" y="451" width="259" height="5" fill="#e6ecf6"/>
<rect x="398" y="452" width="20" height="3" fill="#d0e4c8"/>
<rect x="420" y="452" width="20" height="3" fill="#2a80e0"/>
<rect x="338" y="456" width="194" height="11" fill="#ffffff"/>
<rect x="338" y="467" width="194" height="87" fill="#ffffff"/>
<rect x="338" y="469" width="194" height="1" fill="#1a2a90"/>
<rect x="339" y="470" width="56" height="84" fill="#c4c4c4"/>
<rect x="395" y="457" width="4" height="97" fill="#c8c8c8"/>
<rect x="413" y="457" width="9" height="97" fill="#a8c8ee"/>
<rect x="443.6" y="457" width="8.4" height="97" fill="#a8c8ee"/>
<rect x="475" y="457" width="7.4" height="97" fill="#a8c8ee"/>
<rect x="504.7" y="457" width="3.4" height="97" fill="#a8c8ee"/>
<rect x="509" y="457" width="3.4" height="97" fill="#a8c8ee"/>
<rect x="339" y="470" width="56" height="6" fill="#ffffff"/>
<rect x="342.0" y="477.0" width="2.5" height="1.5" fill="#2030a0" opacity="0.8"/>
<rect x="346.0" y="477.0" width="3" height="1.5" fill="#2030a0" opacity="0.8"/>
<rect x="349.5" y="477.0" width="1" height="1.5" fill="#2030a0" opacity="0.8"/>
<rect x="351.0" y="477.0" width="1.5" height="1.5" fill="#2030a0" opacity="0.8"/>
<rect x="357.0" y="477.0" width="1" height="1.5" fill="#2030a0" opacity="0.8"/>
<rect x="359.5" y="477.0" width="1.5" height="1.5" fill="#2030a0" opacity="0.8"/>
<rect x="362.5" y="477.0" width="3" height="1.5" fill="#2030a0" opacity="0.8"/>
<rect x="366.0" y="477.0" width="2.5" height="1.5" fill="#2030a0" opacity="0.8"/>
<rect x="369.0" y="477.0" width="1.5" height="1.5" fill="#2030a0" opacity="0.8"/>
<rect x="371.0" y="477.0" width="2.5" height="1.5" fill="#2030a0" opacity="0.8"/>
<rect x="375.0" y="477.0" width="2" height="1.5" fill="#2030a0" opacity="0.8"/>
<rect x="381.5" y="477.0" width="3" height="1.5" fill="#2030a0" opacity="0.8"/>
<rect x="385.0" y="477.0" width="1.5" height="1.5" fill="#2030a0" opacity="0.8"/>
<rect x="387.5" y="477.0" width="2.5" height="1.5" fill="#2030a0" opacity="0.8"/>
<rect x="340" y="479.3" width="52" height="1.1" fill="#4040d0" opacity="0.9"/>
<rect x="340.0" y="483.4" width="2.5" height="1.5" fill="#2030a0" opacity="0.8"/>
<rect x="344.0" y="483.4" width="3" height="1.5" fill="#2030a0" opacity="0.8"/>
<rect x="347.5" y="483.4" width="2" height="1.5" fill="#2030a0" opacity="0.8"/>
<rect x="350.0" y="483.4" width="2" height="1.5" fill="#2030a0" opacity="0.8"/>
<rect x="357.0" y="483.4" width="1" height="1.5" fill="#2030a0" opacity="0.8"/>
<rect x="358.5" y="483.4" width="2" height="1.5" fill="#2030a0" opacity="0.8"/>
<rect x="361.5" y="483.4" width="1" height="1.5" fill="#2030a0" opacity="0.8"/>
<rect x="364.0" y="483.4" width="1.5" height="1.5" fill="#2030a0" opacity="0.8"/>
<rect x="366.5" y="483.4" width="1.5" height="1.5" fill="#2030a0" opacity="0.8"/>
<rect x="368.5" y="483.4" width="1.5" height="1.5" fill="#2030a0" opacity="0.8"/>
<rect x="371.0" y="483.4" width="2.5" height="1.5" fill="#2030a0" opacity="0.8"/>
<rect x="380.0" y="483.4" width="2" height="1.5" fill="#2030a0" opacity="0.8"/>
<rect x="382.5" y="483.4" width="3" height="1.5" fill="#2030a0" opacity="0.8"/>
<rect x="386.0" y="483.4" width="3" height="1.5" fill="#2030a0" opacity="0.8"/>
<rect x="340" y="485.7" width="52" height="1.1" fill="#303030" opacity="0.9"/>
<rect x="340.0" y="489.8" width="1" height="1.5" fill="#2030a0" opacity="0.8"/>
<rect x="342.5" y="489.8" width="1.5" height="1.5" fill="#2030a0" opacity="0.8"/>
<rect x="349.0" y="489.8" width="2.5" height="1.5" fill="#2030a0" opacity="0.8"/>
<rect x="352.0" y="489.8" width="2.5" height="1.5" fill="#2030a0" opacity="0.8"/>
<rect x="358.5" y="489.8" width="2" height="1.5" fill="#2030a0" opacity="0.8"/>
<rect x="362.0" y="489.8" width="1" height="1.5" fill="#2030a0" opacity="0.8"/>
<rect x="364.0" y="489.8" width="2.5" height="1.5" fill="#2030a0" opacity="0.8"/>
<rect x="368.0" y="489.8" width="1.5" height="1.5" fill="#2030a0" opacity="0.8"/>
<rect x="370.0" y="489.8" width="3" height="1.5" fill="#2030a0" opacity="0.8"/>
<rect x="374.0" y="489.8" width="3" height="1.5" fill="#2030a0" opacity="0.8"/>
<rect x="381.0" y="489.8" width="1.5" height="1.5" fill="#2030a0" opacity="0.8"/>
<rect x="383.0" y="489.8" width="3" height="1.5" fill="#2030a0" opacity="0.8"/>
<rect x="387.5" y="489.8" width="2.5" height="1.5" fill="#2030a0" opacity="0.8"/>
<rect x="340" y="492.1" width="52" height="1.1" fill="#4040d0" opacity="0.9"/>
<rect x="340.0" y="496.2" width="2" height="1.5" fill="#202020" opacity="0.8"/>
<rect x="343.0" y="496.2" width="2" height="1.5" fill="#202020" opacity="0.8"/>
<rect x="345.5" y="496.2" width="2" height="1.5" fill="#202020" opacity="0.8"/>
<rect x="348.0" y="496.2" width="1.5" height="1.5" fill="#202020" opacity="0.8"/>
<rect x="351.0" y="496.2" width="2" height="1.5" fill="#202020" opacity="0.8"/>
<rect x="353.5" y="496.2" width="3" height="1.5" fill="#202020" opacity="0.8"/>
<rect x="357.5" y="496.2" width="2" height="1.5" fill="#202020" opacity="0.8"/>
<rect x="360.0" y="496.2" width="3" height="1.5" fill="#202020" opacity="0.8"/>
<rect x="364.5" y="496.2" width="1.5" height="1.5" fill="#202020" opacity="0.8"/>
<rect x="367.5" y="496.2" width="2" height="1.5" fill="#202020" opacity="0.8"/>
<rect x="370.0" y="496.2" width="3" height="1.5" fill="#202020" opacity="0.8"/>
<rect x="374.0" y="496.2" width="3" height="1.5" fill="#202020" opacity="0.8"/>
<rect x="378.5" y="496.2" width="2.5" height="1.5" fill="#202020" opacity="0.8"/>
<rect x="382.5" y="496.2" width="1.5" height="1.5" fill="#202020" opacity="0.8"/>
<rect x="384.5" y="496.2" width="1" height="1.5" fill="#202020" opacity="0.8"/>
<rect x="387.0" y="496.2" width="3" height="1.5" fill="#202020" opacity="0.8"/>
<rect x="340" y="498.5" width="52" height="1.1" fill="#4040d0" opacity="0.9"/>
<rect x="343.5" y="502.6" width="3" height="1.5" fill="#202020" opacity="0.8"/>
<rect x="347.5" y="502.6" width="2.5" height="1.5" fill="#202020" opacity="0.8"/>
<rect x="351.0" y="502.6" width="2" height="1.5" fill="#202020" opacity="0.8"/>
<rect x="354.0" y="502.6" width="3" height="1.5" fill="#202020" opacity="0.8"/>
<rect x="358.0" y="502.6" width="2" height="1.5" fill="#202020" opacity="0.8"/>
<rect x="361.5" y="502.6" width="2.5" height="1.5" fill="#202020" opacity="0.8"/>
<rect x="365.0" y="502.6" width="1.5" height="1.5" fill="#202020" opacity="0.8"/>
<rect x="367.0" y="502.6" width="2.5" height="1.5" fill="#202020" opacity="0.8"/>
<rect x="371.0" y="502.6" width="1.5" height="1.5" fill="#202020" opacity="0.8"/>
<rect x="382.0" y="502.6" width="1" height="1.5" fill="#202020" opacity="0.8"/>
<rect x="384.5" y="502.6" width="2.5" height="1.5" fill="#202020" opacity="0.8"/>
<rect x="340" y="504.90000000000003" width="52" height="1.1" fill="#303030" opacity="0.9"/>
<rect x="344.5" y="509.0" width="3" height="1.5" fill="#3040b0" opacity="0.8"/>
<rect x="348.5" y="509.0" width="2.5" height="1.5" fill="#3040b0" opacity="0.8"/>
<rect x="351.5" y="509.0" width="3" height="1.5" fill="#3040b0" opacity="0.8"/>
<rect x="355.5" y="509.0" width="1" height="1.5" fill="#3040b0" opacity="0.8"/>
<rect x="358.0" y="509.0" width="1.5" height="1.5" fill="#3040b0" opacity="0.8"/>
<rect x="360.5" y="509.0" width="3" height="1.5" fill="#3040b0" opacity="0.8"/>
<rect x="365.0" y="509.0" width="3" height="1.5" fill="#3040b0" opacity="0.8"/>
<rect x="368.5" y="509.0" width="2.5" height="1.5" fill="#3040b0" opacity="0.8"/>
<rect x="376.5" y="509.0" width="2" height="1.5" fill="#3040b0" opacity="0.8"/>
<rect x="380.0" y="509.0" width="1" height="1.5" fill="#3040b0" opacity="0.8"/>
<rect x="385.0" y="509.0" width="3" height="1.5" fill="#3040b0" opacity="0.8"/>
<rect x="340" y="511.3" width="52" height="1.1" fill="#5050e0" opacity="0.9"/>
<rect x="343.5" y="515.4" width="2.5" height="1.5" fill="#3040b0" opacity="0.8"/>
<rect x="354.0" y="515.4" width="1.5" height="1.5" fill="#3040b0" opacity="0.8"/>
<rect x="357.0" y="515.4" width="3" height="1.5" fill="#3040b0" opacity="0.8"/>
<rect x="361.5" y="515.4" width="1" height="1.5" fill="#3040b0" opacity="0.8"/>
<rect x="363.0" y="515.4" width="1" height="1.5" fill="#3040b0" opacity="0.8"/>
<rect x="365.5" y="515.4" width="3" height="1.5" fill="#3040b0" opacity="0.8"/>
<rect x="373.5" y="515.4" width="1" height="1.5" fill="#3040b0" opacity="0.8"/>
<rect x="375.0" y="515.4" width="1.5" height="1.5" fill="#3040b0" opacity="0.8"/>
<rect x="378.0" y="515.4" width="3" height="1.5" fill="#3040b0" opacity="0.8"/>
<rect x="382.5" y="515.4" width="3" height="1.5" fill="#3040b0" opacity="0.8"/>
<rect x="386.0" y="515.4" width="3" height="1.5" fill="#3040b0" opacity="0.8"/>
<rect x="340" y="517.6999999999999" width="52" height="1.1" fill="#5050e0" opacity="0.9"/>
<rect x="340.0" y="521.8" width="1.5" height="1.5" fill="#202020" opacity="0.8"/>
<rect x="343.0" y="521.8" width="1" height="1.5" fill="#202020" opacity="0.8"/>
<rect x="347.0" y="521.8" width="2.5" height="1.5" fill="#202020" opacity="0.8"/>
<rect x="350.0" y="521.8" width="1" height="1.5" fill="#202020" opacity="0.8"/>
<rect x="352.5" y="521.8" width="2" height="1.5" fill="#202020" opacity="0.8"/>
<rect x="355.0" y="521.8" width="2" height="1.5" fill="#202020" opacity="0.8"/>
<rect x="357.5" y="521.8" width="2" height="1.5" fill="#202020" opacity="0.8"/>
<rect x="361.0" y="521.8" width="1" height="1.5" fill="#202020" opacity="0.8"/>
<rect x="363.0" y="521.8" width="3" height="1.5" fill="#202020" opacity="0.8"/>
<rect x="369.5" y="521.8" width="1" height="1.5" fill="#202020" opacity="0.8"/>
<rect x="372.0" y="521.8" width="1.5" height="1.5" fill="#202020" opacity="0.8"/>
<rect x="376.0" y="521.8" width="2" height="1.5" fill="#202020" opacity="0.8"/>
<rect x="379.0" y="521.8" width="2" height="1.5" fill="#202020" opacity="0.8"/>
<rect x="385.0" y="521.8" width="1.5" height="1.5" fill="#202020" opacity="0.8"/>
<rect x="340" y="524.0999999999999" width="52" height="1.1" fill="#4040d0" opacity="0.9"/>
<rect x="340.0" y="528.2" width="1.5" height="1.5" fill="#3040b0" opacity="0.8"/>
<rect x="342.5" y="528.2" width="2.5" height="1.5" fill="#3040b0" opacity="0.8"/>
<rect x="345.5" y="528.2" width="1" height="1.5" fill="#3040b0" opacity="0.8"/>
<rect x="347.5" y="528.2" width="2.5" height="1.5" fill="#3040b0" opacity="0.8"/>
<rect x="351.0" y="528.2" width="2.5" height="1.5" fill="#3040b0" opacity="0.8"/>
<rect x="354.0" y="528.2" width="2" height="1.5" fill="#3040b0" opacity="0.8"/>
<rect x="357.0" y="528.2" width="2" height="1.5" fill="#3040b0" opacity="0.8"/>
<rect x="359.5" y="528.2" width="1" height="1.5" fill="#3040b0" opacity="0.8"/>
<rect x="361.5" y="528.2" width="3" height="1.5" fill="#3040b0" opacity="0.8"/>
<rect x="365.0" y="528.2" width="2.5" height="1.5" fill="#3040b0" opacity="0.8"/>
<rect x="368.0" y="528.2" width="2.5" height="1.5" fill="#3040b0" opacity="0.8"/>
<rect x="372.0" y="528.2" width="1" height="1.5" fill="#3040b0" opacity="0.8"/>
<rect x="373.5" y="528.2" width="1.5" height="1.5" fill="#3040b0" opacity="0.8"/>
<rect x="375.5" y="528.2" width="1.5" height="1.5" fill="#3040b0" opacity="0.8"/>
<rect x="377.5" y="528.2" width="3" height="1.5" fill="#3040b0" opacity="0.8"/>
<rect x="381.0" y="528.2" width="1.5" height="1.5" fill="#3040b0" opacity="0.8"/>
<rect x="383.0" y="528.2" width="2.5" height="1.5" fill="#3040b0" opacity="0.8"/>
<rect x="387.0" y="528.2" width="1.5" height="1.5" fill="#3040b0" opacity="0.8"/>
<rect x="340" y="530.5" width="52" height="1.1" fill="#303030" opacity="0.9"/>
<rect x="350.0" y="534.6" width="2" height="1.5" fill="#202020" opacity="0.8"/>
<rect x="353.0" y="534.6" width="3" height="1.5" fill="#202020" opacity="0.8"/>
<rect x="356.5" y="534.6" width="1" height="1.5" fill="#202020" opacity="0.8"/>
<rect x="362.5" y="534.6" width="2.5" height="1.5" fill="#202020" opacity="0.8"/>
<rect x="366.5" y="534.6" width="3" height="1.5" fill="#202020" opacity="0.8"/>
<rect x="370.0" y="534.6" width="2.5" height="1.5" fill="#202020" opacity="0.8"/>
<rect x="376.0" y="534.6" width="2" height="1.5" fill="#202020" opacity="0.8"/>
<rect x="378.5" y="534.6" width="1" height="1.5" fill="#202020" opacity="0.8"/>
<rect x="384.0" y="534.6" width="1" height="1.5" fill="#202020" opacity="0.8"/>
<rect x="385.5" y="534.6" width="1.5" height="1.5" fill="#202020" opacity="0.8"/>
<rect x="340" y="536.9" width="52" height="1.1" fill="#303030" opacity="0.9"/>
<rect x="340.0" y="541.0" width="2" height="1.5" fill="#2030a0" opacity="0.8"/>
<rect x="345.0" y="541.0" width="1" height="1.5" fill="#2030a0" opacity="0.8"/>
<rect x="350.0" y="541.0" width="2.5" height="1.5" fill="#2030a0" opacity="0.8"/>
<rect x="356.0" y="541.0" width="1.5" height="1.5" fill="#2030a0" opacity="0.8"/>
<rect x="358.5" y="541.0" width="3" height="1.5" fill="#2030a0" opacity="0.8"/>
<rect x="363.0" y="541.0" width="1" height="1.5" fill="#2030a0" opacity="0.8"/>
<rect x="365.5" y="541.0" width="1.5" height="1.5" fill="#2030a0" opacity="0.8"/>
<rect x="368.0" y="541.0" width="1.5" height="1.5" fill="#2030a0" opacity="0.8"/>
<rect x="370.0" y="541.0" width="3" height="1.5" fill="#2030a0" opacity="0.8"/>
<rect x="374.5" y="541.0" width="1.5" height="1.5" fill="#2030a0" opacity="0.8"/>
<rect x="376.5" y="541.0" width="3" height="1.5" fill="#2030a0" opacity="0.8"/>
<rect x="384.5" y="541.0" width="3" height="1.5" fill="#2030a0" opacity="0.8"/>
<rect x="340" y="543.3" width="52" height="1.1" fill="#5050e0" opacity="0.9"/>
<rect x="343.5" y="547.4" width="3" height="1.5" fill="#3040b0" opacity="0.8"/>
<rect x="347.0" y="547.4" width="1" height="1.5" fill="#3040b0" opacity="0.8"/>
<rect x="351.5" y="547.4" width="1" height="1.5" fill="#3040b0" opacity="0.8"/>
<rect x="358.0" y="547.4" width="1.5" height="1.5" fill="#3040b0" opacity="0.8"/>
<rect x="367.0" y="547.4" width="3" height="1.5" fill="#3040b0" opacity="0.8"/>
<rect x="371.5" y="547.4" width="2.5" height="1.5" fill="#3040b0" opacity="0.8"/>
<rect x="375.5" y="547.4" width="1.5" height="1.5" fill="#3040b0" opacity="0.8"/>
<rect x="378.5" y="547.4" width="1.5" height="1.5" fill="#3040b0" opacity="0.8"/>
<rect x="383.0" y="547.4" width="2" height="1.5" fill="#3040b0" opacity="0.8"/>
<rect x="385.5" y="547.4" width="1.5" height="1.5" fill="#3040b0" opacity="0.8"/>
<rect x="387.5" y="547.4" width="1" height="1.5" fill="#3040b0" opacity="0.8"/>
<rect x="340" y="549.6999999999999" width="52" height="1.1" fill="#4040d0" opacity="0.9"/>
<rect x="340.0" y="471.5" width="2.5" height="1.3" fill="#e07020" opacity="0.6"/>
<rect x="344.0" y="471.5" width="2" height="1.3" fill="#e07020" opacity="0.6"/>
<rect x="350.5" y="471.5" width="1.5" height="1.3" fill="#e07020" opacity="0.6"/>
<rect x="353.5" y="471.5" width="2.5" height="1.3" fill="#e07020" opacity="0.6"/>
<rect x="360.0" y="471.5" width="1.5" height="1.3" fill="#e07020" opacity="0.6"/>
<rect x="364.5" y="471.5" width="3" height="1.3" fill="#e07020" opacity="0.6"/>
<rect x="368.0" y="471.5" width="1.5" height="1.3" fill="#e07020" opacity="0.6"/>
<rect x="373.5" y="471.5" width="2" height="1.3" fill="#e07020" opacity="0.6"/>
<rect x="376.5" y="471.5" width="1.5" height="1.3" fill="#e07020" opacity="0.6"/>
<rect x="379.0" y="471.5" width="2" height="1.3" fill="#e07020" opacity="0.6"/>
<rect x="340.0" y="522.0" width="2" height="1.3" fill="#e07020" opacity="0.6"/>
<rect x="342.5" y="522.0" width="1.5" height="1.3" fill="#e07020" opacity="0.6"/>
<rect x="345.0" y="522.0" width="3" height="1.3" fill="#e07020" opacity="0.6"/>
<rect x="348.5" y="522.0" width="3" height="1.3" fill="#e07020" opacity="0.6"/>
<rect x="357.5" y="522.0" width="3" height="1.3" fill="#e07020" opacity="0.6"/>
<rect x="368.0" y="522.0" width="1" height="1.3" fill="#e07020" opacity="0.6"/>
<rect x="339" y="551" width="56" height="1.2" fill="#f0e000"/>
<rect x="343.0" y="432" width="2.5" height="3" fill="#404040" opacity="0.7"/>
<rect x="349.5" y="432" width="2.5" height="3" fill="#303030" opacity="0.7"/>
<rect x="356.0" y="432" width="2.5" height="3" fill="#2050a0" opacity="0.7"/>
<rect x="362.5" y="432" width="2.5" height="3" fill="#2050a0" opacity="0.7"/>
<rect x="369.0" y="432" width="2.5" height="3" fill="#2050a0" opacity="0.7"/>
<rect x="375.5" y="432" width="2.5" height="3" fill="#303030" opacity="0.7"/>
<rect x="382.0" y="432" width="2.5" height="3" fill="#303030" opacity="0.7"/>
<rect x="388.5" y="432" width="2.5" height="3" fill="#2050a0" opacity="0.7"/>
<rect x="395.0" y="432" width="2.5" height="3" fill="#404040" opacity="0.7"/>
<rect x="401.5" y="432" width="2.5" height="3" fill="#2050a0" opacity="0.7"/>
<rect x="408.0" y="432" width="2.5" height="3" fill="#2050a0" opacity="0.7"/>
<rect x="414.5" y="432" width="2.5" height="3" fill="#404040" opacity="0.7"/>
<rect x="421.0" y="432" width="2.5" height="3" fill="#404040" opacity="0.7"/>
<rect x="427.5" y="432" width="2.5" height="3" fill="#303030" opacity="0.7"/>
<rect x="434.0" y="432" width="2.5" height="3" fill="#2050a0" opacity="0.7"/>
<rect x="440.5" y="432" width="2.5" height="3" fill="#404040" opacity="0.7"/>
<rect x="345.0" y="427.5" width="2" height="1.1" fill="#303030" opacity="0.6"/>
<rect x="351.5" y="427.5" width="1.5" height="1.1" fill="#303030" opacity="0.6"/>
<rect x="361.0" y="427.5" width="2.5" height="1.1" fill="#303030" opacity="0.6"/>
<rect x="371.5" y="427.5" width="1.5" height="1.1" fill="#303030" opacity="0.6"/>
<rect x="374.0" y="427.5" width="2.5" height="1.1" fill="#303030" opacity="0.6"/>
<rect x="377.0" y="427.5" width="2.5" height="1.1" fill="#303030" opacity="0.6"/>
<rect x="380.0" y="427.5" width="2" height="1.1" fill="#303030" opacity="0.6"/>
<rect x="383.5" y="427.5" width="3" height="1.1" fill="#303030" opacity="0.6"/>
<rect x="348.5" y="424.0" width="2.5" height="1.0" fill="#ffffff" opacity="0.5"/>
<rect x="351.5" y="424.0" width="1.5" height="1.0" fill="#ffffff" opacity="0.5"/>
<rect x="357.5" y="424.0" width="2" height="1.0" fill="#ffffff" opacity="0.5"/>
<rect x="360.5" y="424.0" width="1" height="1.0" fill="#ffffff" opacity="0.5"/>
<rect x="363.0" y="424.0" width="2.5" height="1.0" fill="#ffffff" opacity="0.5"/>
<rect x="370.0" y="424.0" width="3" height="1.0" fill="#ffffff" opacity="0.5"/>
<rect x="376.5" y="424.0" width="3" height="1.0" fill="#ffffff" opacity="0.5"/>
<rect x="391.5" y="424.0" width="3" height="1.0" fill="#ffffff" opacity="0.5"/>
<rect x="396.0" y="424.0" width="2.5" height="1.0" fill="#ffffff" opacity="0.5"/>
<rect x="399.0" y="424.0" width="3" height="1.0" fill="#ffffff" opacity="0.5"/>
<rect x="403.0" y="424.0" width="1" height="1.0" fill="#ffffff" opacity="0.5"/>
<rect x="342.0" y="439.0" width="2.5" height="1.2" fill="#2050e0" opacity="0.7"/>
<rect x="345.5" y="439.0" width="1.5" height="1.2" fill="#2050e0" opacity="0.7"/>
<rect x="351.0" y="439.0" width="3" height="1.2" fill="#2050e0" opacity="0.7"/>
<rect x="345" y="452.5" width="3" height="2.5" fill="#30a030" opacity="0.6"/>
<rect x="351" y="452.5" width="3" height="2.5" fill="#606060" opacity="0.6"/>
<rect x="357" y="452.5" width="3" height="2.5" fill="#d05030" opacity="0.6"/>
<rect x="363" y="452.5" width="3" height="2.5" fill="#606060" opacity="0.6"/>
<rect x="369" y="452.5" width="3" height="2.5" fill="#30a030" opacity="0.6"/>
<rect x="375" y="452.5" width="3" height="2.5" fill="#30a030" opacity="0.6"/>
<rect x="381" y="452.5" width="3" height="2.5" fill="#30a030" opacity="0.6"/>
<rect x="387" y="452.5" width="3" height="2.5" fill="#30a030" opacity="0.6"/>
<rect x="393" y="452.5" width="3" height="2.5" fill="#606060" opacity="0.6"/>
<rect x="399" y="452.5" width="3" height="2.5" fill="#30a030" opacity="0.6"/>
<rect x="405" y="452.5" width="3" height="2.5" fill="#30a030" opacity="0.6"/>
<rect x="411" y="452.5" width="3" height="2.5" fill="#30a030" opacity="0.6"/>
<rect x="417" y="452.5" width="3" height="2.5" fill="#606060" opacity="0.6"/>
<rect x="423" y="452.5" width="3" height="2.5" fill="#d05030" opacity="0.6"/>
<rect x="345.0" y="443.0" width="3" height="1.5" fill="#303030" opacity="0.5"/>
<rect x="348.5" y="443.0" width="1.5" height="1.5" fill="#303030" opacity="0.5"/>
<rect x="351.5" y="443.0" width="1" height="1.5" fill="#303030" opacity="0.5"/>
<rect x="353.0" y="443.0" width="2" height="1.5" fill="#303030" opacity="0.5"/>
<rect x="360.5" y="443.0" width="2" height="1.5" fill="#303030" opacity="0.5"/>
<rect x="369.5" y="443.0" width="3" height="1.5" fill="#303030" opacity="0.5"/>
<rect x="374.0" y="443.0" width="2" height="1.5" fill="#303030" opacity="0.5"/>
<rect x="399" y="478" width="131" height="0.8" fill="#e0e4ea"/>
<rect x="413" y="477.5" width="9" height="1.6" fill="#ffffff"/>
<rect x="443.6" y="477.5" width="8.4" height="1.6" fill="#ffffff"/>
<rect x="474.5" y="477.5" width="8.2" height="1.6" fill="#ffffff"/>
<rect x="504.5" y="477.5" width="3.5" height="1.6" fill="#ffffff"/>
<rect x="509.3" y="477.5" width="3.4" height="1.6" fill="#ffffff"/>
<rect x="399" y="482" width="131" height="0.8" fill="#e0e4ea"/>
<rect x="413" y="481.5" width="9" height="1.6" fill="#ffffff"/>
<rect x="443.6" y="481.5" width="8.4" height="1.6" fill="#ffffff"/>
<rect x="474.5" y="481.5" width="8.2" height="1.6" fill="#ffffff"/>
<rect x="504.5" y="481.5" width="3.5" height="1.6" fill="#ffffff"/>
<rect x="509.3" y="481.5" width="3.4" height="1.6" fill="#ffffff"/>
<rect x="399" y="494.4" width="131" height="0.8" fill="#e0e4ea"/>
<rect x="413" y="493.9" width="9" height="1.6" fill="#ffffff"/>
<rect x="443.6" y="493.9" width="8.4" height="1.6" fill="#ffffff"/>
<rect x="474.5" y="493.9" width="8.2" height="1.6" fill="#ffffff"/>
<rect x="504.5" y="493.9" width="3.5" height="1.6" fill="#ffffff"/>
<rect x="509.3" y="493.9" width="3.4" height="1.6" fill="#ffffff"/>
<rect x="399" y="511" width="131" height="0.8" fill="#e0e4ea"/>
<rect x="413" y="510.5" width="9" height="1.6" fill="#ffffff"/>
<rect x="443.6" y="510.5" width="8.4" height="1.6" fill="#ffffff"/>
<rect x="474.5" y="510.5" width="8.2" height="1.6" fill="#ffffff"/>
<rect x="504.5" y="510.5" width="3.5" height="1.6" fill="#ffffff"/>
<rect x="509.3" y="510.5" width="3.4" height="1.6" fill="#ffffff"/>
<rect x="399" y="527.3" width="131" height="0.8" fill="#e0e4ea"/>
<rect x="413" y="526.8" width="9" height="1.6" fill="#ffffff"/>
<rect x="443.6" y="526.8" width="8.4" height="1.6" fill="#ffffff"/>
<rect x="474.5" y="526.8" width="8.2" height="1.6" fill="#ffffff"/>
<rect x="504.5" y="526.8" width="3.5" height="1.6" fill="#ffffff"/>
<rect x="509.3" y="526.8" width="3.4" height="1.6" fill="#ffffff"/>
<rect x="399" y="544.5" width="131" height="0.8" fill="#e0e4ea"/>
<rect x="413" y="544.0" width="9" height="1.6" fill="#ffffff"/>
<rect x="443.6" y="544.0" width="8.4" height="1.6" fill="#ffffff"/>
<rect x="474.5" y="544.0" width="8.2" height="1.6" fill="#ffffff"/>
<rect x="504.5" y="544.0" width="3.5" height="1.6" fill="#ffffff"/>
<rect x="509.3" y="544.0" width="3.4" height="1.6" fill="#ffffff"/>
<rect x="396.0" y="473.0" width="1.6" height="1.6" fill="#20a020" opacity="0.85"/>
<rect x="402.0" y="473.0" width="2.5" height="1.4" fill="#303030" opacity="0.7"/>
<rect x="406.0" y="473.0" width="2" height="1.4" fill="#303030" opacity="0.7"/>
<rect x="402.8" y="475.2" width="1.6" height="1.6" fill="#2020c0" opacity="0.85"/>
<rect x="404.8" y="475.2" width="3" height="1.4" fill="#303030" opacity="0.7"/>
<rect x="409.3" y="475.2" width="1.5" height="1.4" fill="#303030" opacity="0.7"/>
<rect x="411.3" y="475.2" width="2.5" height="1.4" fill="#303030" opacity="0.7"/>
<rect x="415.3" y="475.2" width="2.5" height="1.4" fill="#303030" opacity="0.7"/>
<rect x="418.3" y="475.2" width="2.5" height="1.4" fill="#303030" opacity="0.7"/>
<rect x="409.6" y="477.4" width="1.6" height="1.6" fill="#20a020" opacity="0.85"/>
<rect x="420.1" y="477.4" width="2" height="1.4" fill="#303030" opacity="0.7"/>
<rect x="416.3" y="479.6" width="1.6" height="1.6" fill="#2020c0" opacity="0.85"/>
<rect x="418.3" y="479.6" width="1" height="1.4" fill="#303030" opacity="0.7"/>
<rect x="419.8" y="479.6" width="2.5" height="1.4" fill="#303030" opacity="0.7"/>
<rect x="422.8" y="479.6" width="1" height="1.4" fill="#303030" opacity="0.7"/>
<rect x="425.3" y="479.6" width="3" height="1.4" fill="#303030" opacity="0.7"/>
<rect x="423.1" y="481.8" width="1.6" height="1.6" fill="#20a020" opacity="0.85"/>
<rect x="425.1" y="481.8" width="2.5" height="1.4" fill="#303030" opacity="0.7"/>
<rect x="429.1" y="481.8" width="3" height="1.4" fill="#303030" opacity="0.7"/>
<rect x="433.1" y="481.8" width="3" height="1.4" fill="#303030" opacity="0.7"/>
<rect x="436.6" y="481.8" width="3" height="1.4" fill="#303030" opacity="0.7"/>
<rect x="429.9" y="483.9" width="1.6" height="1.6" fill="#20a020" opacity="0.85"/>
<rect x="434.9" y="483.9" width="3" height="1.4" fill="#303030" opacity="0.7"/>
<rect x="438.9" y="483.9" width="2" height="1.4" fill="#303030" opacity="0.7"/>
<rect x="442.4" y="483.9" width="2.5" height="1.4" fill="#303030" opacity="0.7"/>
<rect x="445.4" y="483.9" width="1.5" height="1.4" fill="#303030" opacity="0.7"/>
<rect x="436.7" y="486.1" width="1.6" height="1.6" fill="#d02020" opacity="0.85"/>
<rect x="440.7" y="486.1" width="2" height="1.4" fill="#303030" opacity="0.7"/>
<rect x="447.2" y="486.1" width="3" height="1.4" fill="#303030" opacity="0.7"/>
<rect x="443.4" y="488.3" width="1.6" height="1.6" fill="#20a020" opacity="0.85"/>
<rect x="449.9" y="488.3" width="3" height="1.4" fill="#303030" opacity="0.7"/>
<rect x="456.4" y="488.3" width="1.5" height="1.4" fill="#303030" opacity="0.7"/>
<rect x="450.2" y="490.5" width="1.6" height="1.6" fill="#2020c0" opacity="0.85"/>
<rect x="452.2" y="490.5" width="2" height="1.4" fill="#303030" opacity="0.7"/>
<rect x="455.7" y="490.5" width="1.5" height="1.4" fill="#303030" opacity="0.7"/>
<rect x="458.7" y="490.5" width="2.5" height="1.4" fill="#303030" opacity="0.7"/>
<rect x="462.7" y="490.5" width="2" height="1.4" fill="#303030" opacity="0.7"/>
<rect x="457.0" y="492.7" width="1.6" height="1.6" fill="#2020c0" opacity="0.85"/>
<rect x="461.0" y="492.7" width="1.5" height="1.4" fill="#303030" opacity="0.7"/>
<rect x="464.0" y="492.7" width="2.5" height="1.4" fill="#303030" opacity="0.7"/>
<rect x="398.3" y="497.0" width="1.6" height="1.6" fill="#d02020" opacity="0.85"/>
<rect x="403.3" y="497.0" width="3" height="1.4" fill="#303030" opacity="0.7"/>
<rect x="404.8" y="499.2" width="1.6" height="1.6" fill="#d02020" opacity="0.85"/>
<rect x="406.8" y="499.2" width="1.5" height="1.4" fill="#303030" opacity="0.7"/>
<rect x="409.3" y="499.2" width="2.5" height="1.4" fill="#303030" opacity="0.7"/>
<rect x="416.3" y="499.2" width="2.5" height="1.4" fill="#303030" opacity="0.7"/>
<rect x="411.3" y="501.3" width="1.6" height="1.6" fill="#2020c0" opacity="0.85"/>
<rect x="413.3" y="501.3" width="3" height="1.4" fill="#303030" opacity="0.7"/>
<rect x="416.8" y="501.3" width="2" height="1.4" fill="#303030" opacity="0.7"/>
<rect x="419.3" y="501.3" width="1.5" height="1.4" fill="#303030" opacity="0.7"/>
<rect x="417.9" y="503.5" width="1.6" height="1.6" fill="#d02020" opacity="0.85"/>
<rect x="421.9" y="503.5" width="3" height="1.4" fill="#303030" opacity="0.7"/>
<rect x="425.4" y="503.5" width="3" height="1.4" fill="#303030" opacity="0.7"/>
<rect x="424.4" y="505.7" width="1.6" height="1.6" fill="#d02020" opacity="0.85"/>
<rect x="426.4" y="505.7" width="2" height="1.4" fill="#303030" opacity="0.7"/>
<rect x="431.4" y="505.7" width="2" height="1.4" fill="#303030" opacity="0.7"/>
<rect x="434.9" y="505.7" width="1" height="1.4" fill="#303030" opacity="0.7"/>
<rect x="430.9" y="507.8" width="1.6" height="1.6" fill="#2020c0" opacity="0.85"/>
<rect x="434.4" y="507.8" width="1" height="1.4" fill="#303030" opacity="0.7"/>
<rect x="437.4" y="510.0" width="1.6" height="1.6" fill="#d02020" opacity="0.85"/>
<rect x="439.4" y="510.0" width="3" height="1.4" fill="#303030" opacity="0.7"/>
<rect x="443.4" y="510.0" width="1" height="1.4" fill="#303030" opacity="0.7"/>
<rect x="445.9" y="510.0" width="2" height="1.4" fill="#303030" opacity="0.7"/>
<rect x="448.4" y="510.0" width="1.5" height="1.4" fill="#303030" opacity="0.7"/>
<rect x="444.0" y="512.2" width="1.6" height="1.6" fill="#d02020" opacity="0.85"/>
<rect x="446.0" y="512.2" width="2" height="1.4" fill="#303030" opacity="0.7"/>
<rect x="453.0" y="512.2" width="3" height="1.4" fill="#303030" opacity="0.7"/>
<rect x="450.5" y="514.3" width="1.6" height="1.6" fill="#2020c0" opacity="0.85"/>
<rect x="456.5" y="514.3" width="2" height="1.4" fill="#303030" opacity="0.7"/>
<rect x="460.0" y="514.3" width="2.5" height="1.4" fill="#303030" opacity="0.7"/>
<rect x="463.5" y="514.3" width="3" height="1.4" fill="#303030" opacity="0.7"/>
<rect x="457.0" y="516.5" width="1.6" height="1.6" fill="#20a020" opacity="0.85"/>
<rect x="459.0" y="516.5" width="1" height="1.4" fill="#303030" opacity="0.7"/>
<rect x="460.5" y="516.5" width="2" height="1.4" fill="#303030" opacity="0.7"/>
<rect x="464.0" y="516.5" width="1.5" height="1.4" fill="#303030" opacity="0.7"/>
<rect x="466.0" y="516.5" width="1" height="1.4" fill="#303030" opacity="0.7"/>
<rect x="467.5" y="516.5" width="1" height="1.4" fill="#303030" opacity="0.7"/>
<rect x="396.0" y="520.6" width="1.6" height="1.6" fill="#20a020" opacity="0.85"/>
<rect x="398.0" y="520.6" width="3" height="1.4" fill="#303030" opacity="0.7"/>
<rect x="403.5" y="520.6" width="3" height="1.4" fill="#303030" opacity="0.7"/>
<rect x="401.5" y="523.1" width="1.6" height="1.6" fill="#20a020" opacity="0.85"/>
<rect x="403.5" y="523.1" width="2.5" height="1.4" fill="#303030" opacity="0.7"/>
<rect x="407.0" y="523.1" width="2.5" height="1.4" fill="#303030" opacity="0.7"/>
<rect x="410.5" y="523.1" width="1" height="1.4" fill="#303030" opacity="0.7"/>
<rect x="413.0" y="523.1" width="1" height="1.4" fill="#303030" opacity="0.7"/>
<rect x="407.1" y="525.7" width="1.6" height="1.6" fill="#202020" opacity="0.85"/>
<rect x="409.1" y="525.7" width="2" height="1.4" fill="#303030" opacity="0.7"/>
<rect x="412.6" y="525.7" width="2.5" height="1.4" fill="#303030" opacity="0.7"/>
<rect x="416.1" y="525.7" width="1.5" height="1.4" fill="#303030" opacity="0.7"/>
<rect x="420.6" y="525.7" width="1.5" height="1.4" fill="#303030" opacity="0.7"/>
<rect x="412.6" y="528.2" width="1.6" height="1.6" fill="#202020" opacity="0.85"/>
<rect x="414.6" y="528.2" width="2" height="1.4" fill="#303030" opacity="0.7"/>
<rect x="425.6" y="528.2" width="1" height="1.4" fill="#303030" opacity="0.7"/>
<rect x="418.2" y="530.7" width="1.6" height="1.6" fill="#20a020" opacity="0.85"/>
<rect x="420.2" y="530.7" width="2" height="1.4" fill="#303030" opacity="0.7"/>
<rect x="423.7" y="530.7" width="2.5" height="1.4" fill="#303030" opacity="0.7"/>
<rect x="423.7" y="533.2" width="1.6" height="1.6" fill="#2020c0" opacity="0.85"/>
<rect x="425.7" y="533.2" width="2.5" height="1.4" fill="#303030" opacity="0.7"/>
<rect x="428.7" y="533.2" width="2" height="1.4" fill="#303030" opacity="0.7"/>
<rect x="429.3" y="535.8" width="1.6" height="1.6" fill="#2020c0" opacity="0.85"/>
<rect x="431.3" y="535.8" width="1.5" height="1.4" fill="#303030" opacity="0.7"/>
<rect x="433.8" y="535.8" width="1" height="1.4" fill="#303030" opacity="0.7"/>
<rect x="434.8" y="538.3" width="1.6" height="1.6" fill="#20a020" opacity="0.85"/>
<rect x="436.8" y="538.3" width="1" height="1.4" fill="#303030" opacity="0.7"/>
<rect x="439.3" y="538.3" width="3" height="1.4" fill="#303030" opacity="0.7"/>
<rect x="444.8" y="538.3" width="2" height="1.4" fill="#303030" opacity="0.7"/>
<rect x="440.4" y="540.8" width="1.6" height="1.6" fill="#d02020" opacity="0.85"/>
<rect x="442.4" y="540.8" width="1.5" height="1.4" fill="#303030" opacity="0.7"/>
<rect x="444.4" y="540.8" width="1.5" height="1.4" fill="#303030" opacity="0.7"/>
<rect x="447.4" y="540.8" width="1.5" height="1.4" fill="#303030" opacity="0.7"/>
<rect x="445.9" y="543.3" width="1.6" height="1.6" fill="#2020c0" opacity="0.85"/>
<rect x="453.4" y="543.3" width="1" height="1.4" fill="#303030" opacity="0.7"/>
<rect x="454.9" y="543.3" width="1" height="1.4" fill="#303030" opacity="0.7"/>
<rect x="456.4" y="543.3" width="1" height="1.4" fill="#303030" opacity="0.7"/>
<rect x="461.4" y="543.3" width="2" height="1.4" fill="#303030" opacity="0.7"/>
<rect x="451.5" y="545.9" width="1.6" height="1.6" fill="#d02020" opacity="0.85"/>
<rect x="453.5" y="545.9" width="2.5" height="1.4" fill="#303030" opacity="0.7"/>
<rect x="457.5" y="545.9" width="2" height="1.4" fill="#303030" opacity="0.7"/>
<rect x="461.0" y="545.9" width="2" height="1.4" fill="#303030" opacity="0.7"/>
<rect x="464.0" y="545.9" width="3" height="1.4" fill="#303030" opacity="0.7"/>
<rect x="457.0" y="548.4" width="1.6" height="1.6" fill="#202020" opacity="0.85"/>
<rect x="462.0" y="548.4" width="1" height="1.4" fill="#303030" opacity="0.7"/>
<rect x="464.5" y="548.4" width="2" height="1.4" fill="#303030" opacity="0.7"/>
<rect x="471.0" y="548.4" width="1" height="1.4" fill="#303030" opacity="0.7"/>
<rect x="396" y="493" width="43" height="1.5" fill="#303030" opacity="0.85"/>
<rect x="396" y="525.5" width="44" height="1.5" fill="#303030" opacity="0.85"/>
<rect x="415.0" y="462.0" width="3" height="1.4" fill="#808080" opacity="0.5"/>
<rect x="419.5" y="462.0" width="2.5" height="1.4" fill="#808080" opacity="0.5"/>
<rect x="445.0" y="462.0" width="3" height="1.4" fill="#808080" opacity="0.5"/>
<rect x="456.5" y="462.0" width="1.5" height="1.4" fill="#808080" opacity="0.5"/>
<rect x="459.5" y="462.0" width="2.5" height="1.4" fill="#808080" opacity="0.5"/>
<rect x="463.5" y="462.0" width="1" height="1.4" fill="#808080" opacity="0.5"/>
<rect x="465.5" y="462.0" width="2.5" height="1.4" fill="#808080" opacity="0.5"/>
<rect x="475.0" y="462.0" width="3" height="1.4" fill="#808080" opacity="0.5"/>
<rect x="479.5" y="462.0" width="1" height="1.4" fill="#808080" opacity="0.5"/>
<rect x="488.0" y="462.0" width="3" height="1.4" fill="#808080" opacity="0.5"/>
<rect x="503.0" y="462.0" width="3" height="1.4" fill="#808080" opacity="0.5"/>
<rect x="507.5" y="462.0" width="1.5" height="1.4" fill="#808080" opacity="0.5"/>
<rect x="513.5" y="462.0" width="1.5" height="1.4" fill="#808080" opacity="0.5"/>
<rect x="518.0" y="462.0" width="1" height="1.4" fill="#808080" opacity="0.5"/>
<rect x="525.0" y="462.0" width="2" height="1.4" fill="#808080" opacity="0.5"/>
<rect x="407.0" y="465.5" width="3" height="1.3" fill="#404040" opacity="0.45"/>
<rect x="426.5" y="465.5" width="1" height="1.3" fill="#404040" opacity="0.45"/>
<rect x="450.5" y="465.5" width="2.5" height="1.3" fill="#404040" opacity="0.45"/>
<rect x="507.0" y="465.5" width="3" height="1.3" fill="#404040" opacity="0.45"/>
<rect x="518.5" y="465.5" width="2" height="1.3" fill="#404040" opacity="0.45"/>
<rect x="529.4" y="457" width="2.6" height="97" fill="#d8d8d8"/>
<rect x="532" y="456" width="64" height="98" fill="#dfe7f3"/>
<rect x="533" y="457" width="62" height="3" fill="#a0c0ec"/>
<rect x="533" y="460.0" width="62" height="3.2" fill="#ffffff"/>
<rect x="535" y="461.0" width="5" height="1" fill="#303030" opacity="0.55"/>
<rect x="548" y="461.0" width="5" height="1" fill="#303030" opacity="0.55"/>
<rect x="560" y="461.0" width="5" height="1" fill="#303030" opacity="0.55"/>
<rect x="572" y="461.0" width="5" height="1" fill="#303030" opacity="0.55"/>
<rect x="584" y="461.0" width="5" height="1" fill="#303030" opacity="0.55"/>
<rect x="533" y="463.5" width="62" height="3.2" fill="#e6eefa"/>
<rect x="535" y="464.5" width="5" height="1" fill="#303030" opacity="0.55"/>
<rect x="548" y="464.5" width="5" height="1" fill="#303030" opacity="0.55"/>
<rect x="560" y="464.5" width="5" height="1" fill="#303030" opacity="0.55"/>
<rect x="572" y="464.5" width="5" height="1" fill="#303030" opacity="0.55"/>
<rect x="584" y="464.5" width="5" height="1" fill="#303030" opacity="0.55"/>
<rect x="533" y="467.0" width="62" height="3.2" fill="#ffffff"/>
<rect x="535" y="468.0" width="5" height="1" fill="#303030" opacity="0.55"/>
<rect x="548" y="468.0" width="5" height="1" fill="#303030" opacity="0.55"/>
<rect x="560" y="468.0" width="5" height="1" fill="#303030" opacity="0.55"/>
<rect x="572" y="468.0" width="5" height="1" fill="#303030" opacity="0.55"/>
<rect x="584" y="468.0" width="5" height="1" fill="#303030" opacity="0.55"/>
<rect x="533" y="470.5" width="62" height="3.2" fill="#e6eefa"/>
<rect x="535" y="471.5" width="5" height="1" fill="#303030" opacity="0.55"/>
<rect x="548" y="471.5" width="5" height="1" fill="#303030" opacity="0.55"/>
<rect x="560" y="471.5" width="5" height="1" fill="#303030" opacity="0.55"/>
<rect x="572" y="471.5" width="5" height="1" fill="#303030" opacity="0.55"/>
<rect x="584" y="471.5" width="5" height="1" fill="#303030" opacity="0.55"/>
<rect x="533" y="474.0" width="62" height="3.2" fill="#ffffff"/>
<rect x="535" y="475.0" width="5" height="1" fill="#303030" opacity="0.55"/>
<rect x="548" y="475.0" width="5" height="1" fill="#303030" opacity="0.55"/>
<rect x="560" y="475.0" width="5" height="1" fill="#303030" opacity="0.55"/>
<rect x="572" y="475.0" width="5" height="1" fill="#303030" opacity="0.55"/>
<rect x="584" y="475.0" width="5" height="1" fill="#303030" opacity="0.55"/>
<rect x="533" y="477.5" width="62" height="3.2" fill="#e6eefa"/>
<rect x="535" y="478.5" width="5" height="1" fill="#303030" opacity="0.55"/>
<rect x="548" y="478.5" width="5" height="1" fill="#303030" opacity="0.55"/>
<rect x="560" y="478.5" width="5" height="1" fill="#303030" opacity="0.55"/>
<rect x="572" y="478.5" width="5" height="1" fill="#303030" opacity="0.55"/>
<rect x="584" y="478.5" width="5" height="1" fill="#303030" opacity="0.55"/>
<rect x="533" y="481.0" width="62" height="3.2" fill="#ffffff"/>
<rect x="535" y="482.0" width="5" height="1" fill="#303030" opacity="0.55"/>
<rect x="548" y="482.0" width="5" height="1" fill="#303030" opacity="0.55"/>
<rect x="560" y="482.0" width="5" height="1" fill="#303030" opacity="0.55"/>
<rect x="572" y="482.0" width="5" height="1" fill="#303030" opacity="0.55"/>
<rect x="584" y="482.0" width="5" height="1" fill="#303030" opacity="0.55"/>
<rect x="533" y="484.5" width="62" height="3.2" fill="#e6eefa"/>
<rect x="535" y="485.5" width="5" height="1" fill="#303030" opacity="0.55"/>
<rect x="548" y="485.5" width="5" height="1" fill="#303030" opacity="0.55"/>
<rect x="560" y="485.5" width="5" height="1" fill="#303030" opacity="0.55"/>
<rect x="572" y="485.5" width="5" height="1" fill="#303030" opacity="0.55"/>
<rect x="584" y="485.5" width="5" height="1" fill="#303030" opacity="0.55"/>
<rect x="533" y="488.0" width="62" height="3.2" fill="#ffffff"/>
<rect x="535" y="489.0" width="5" height="1" fill="#303030" opacity="0.55"/>
<rect x="548" y="489.0" width="5" height="1" fill="#303030" opacity="0.55"/>
<rect x="560" y="489.0" width="5" height="1" fill="#303030" opacity="0.55"/>
<rect x="572" y="489.0" width="5" height="1" fill="#303030" opacity="0.55"/>
<rect x="584" y="489.0" width="5" height="1" fill="#303030" opacity="0.55"/>
<rect x="533" y="490" width="62" height="5" fill="#a8c4ec"/>
<rect x="533" y="495" width="62" height="4" fill="#dce8f8"/>
<rect x="533" y="499" width="62" height="3" fill="#f0f000"/>
<rect x="533" y="502" width="62" height="12" fill="#cfe6cc"/>
<rect x="533" y="514" width="62" height="4.3" fill="#8cb4ec"/>
<rect x="533" y="518.3" width="38" height="3.7" fill="#c8c8c8"/>
<rect x="533" y="522" width="62" height="4" fill="#f4f4f4"/>
<rect x="555" y="522" width="40" height="4" fill="#8cb4ec"/>
<rect x="533" y="526.5" width="62" height="3.5" fill="#b0ccf0"/>
<rect x="533" y="530" width="62" height="4" fill="#e4ecf6"/>
<rect x="533" y="534" width="62" height="11" fill="#cfe6cc"/>
<rect x="533" y="545" width="62" height="4.6" fill="#8cb4ec"/>
<rect x="537.0" y="496.0" width="3" height="1.5" fill="#202020" opacity="0.8"/>
<rect x="541.0" y="496.0" width="2.5" height="1.5" fill="#202020" opacity="0.8"/>
<rect x="537.0" y="499.7" width="1" height="1.3" fill="#202020" opacity="0.7"/>
<rect x="539.5" y="499.7" width="1" height="1.3" fill="#202020" opacity="0.7"/>
<rect x="541.0" y="499.7" width="3" height="1.3" fill="#202020" opacity="0.7"/>
<rect x="540.5" y="530.8" width="2.5" height="1.4" fill="#202020" opacity="0.7"/>
<rect x="551.5" y="496.0" width="1.5" height="1.5" fill="#202020" opacity="0.8"/>
<rect x="548.0" y="499.7" width="1.5" height="1.3" fill="#202020" opacity="0.7"/>
<rect x="550.5" y="499.7" width="1" height="1.3" fill="#202020" opacity="0.7"/>
<rect x="552.0" y="499.7" width="1" height="1.3" fill="#202020" opacity="0.7"/>
<rect x="551.0" y="530.8" width="2.5" height="1.4" fill="#202020" opacity="0.7"/>
<rect x="557.0" y="496.0" width="1.5" height="1.5" fill="#202020" opacity="0.8"/>
<rect x="560.5" y="499.7" width="1.5" height="1.3" fill="#202020" opacity="0.7"/>
<rect x="557.0" y="530.8" width="2" height="1.4" fill="#202020" opacity="0.7"/>
<rect x="562.5" y="530.8" width="1.5" height="1.4" fill="#202020" opacity="0.7"/>
<rect x="568.0" y="496.0" width="2" height="1.5" fill="#202020" opacity="0.8"/>
<rect x="571.5" y="496.0" width="2" height="1.5" fill="#202020" opacity="0.8"/>
<rect x="568.0" y="499.7" width="1" height="1.3" fill="#202020" opacity="0.7"/>
<rect x="569.5" y="499.7" width="1.5" height="1.3" fill="#202020" opacity="0.7"/>
<rect x="572.5" y="499.7" width="2.5" height="1.3" fill="#202020" opacity="0.7"/>
<rect x="569.5" y="530.8" width="3" height="1.4" fill="#202020" opacity="0.7"/>
<rect x="573.5" y="530.8" width="2.5" height="1.4" fill="#202020" opacity="0.7"/>
<rect x="580.0" y="496.0" width="1" height="1.5" fill="#202020" opacity="0.8"/>
<rect x="582.0" y="496.0" width="2" height="1.5" fill="#202020" opacity="0.8"/>
<rect x="585.5" y="496.0" width="1" height="1.5" fill="#202020" opacity="0.8"/>
<rect x="580.0" y="530.8" width="3" height="1.4" fill="#202020" opacity="0.7"/>
<rect x="583.5" y="530.8" width="2" height="1.4" fill="#202020" opacity="0.7"/>
<rect x="589.0" y="496.0" width="2" height="1.5" fill="#202020" opacity="0.8"/>
<rect x="592.0" y="496.0" width="2" height="1.5" fill="#202020" opacity="0.8"/>
<rect x="594.5" y="499.7" width="1.5" height="1.3" fill="#202020" opacity="0.7"/>
<rect x="589.0" y="530.8" width="1" height="1.4" fill="#202020" opacity="0.7"/>
<rect x="591.5" y="530.8" width="3" height="1.4" fill="#202020" opacity="0.7"/>
<rect x="535" y="522" width="12" height="4" fill="#ffffff"/>
<rect x="536.0" y="523.3" width="1.5" height="1.2" fill="#303030" opacity="0.7"/>
<rect x="538.5" y="523.3" width="1" height="1.2" fill="#303030" opacity="0.7"/>
<rect x="541.0" y="523.3" width="1.5" height="1.2" fill="#303030" opacity="0.7"/>
<rect x="544.0" y="523.3" width="1" height="1.2" fill="#303030" opacity="0.7"/>
<rect x="549" y="522" width="12" height="4" fill="#ffffff"/>
<rect x="550.0" y="523.3" width="2.5" height="1.2" fill="#303030" opacity="0.7"/>
<rect x="553.5" y="523.3" width="1" height="1.2" fill="#303030" opacity="0.7"/>
<rect x="555.0" y="523.3" width="1" height="1.2" fill="#303030" opacity="0.7"/>
<rect x="557.0" y="523.3" width="3" height="1.2" fill="#303030" opacity="0.7"/>
<rect x="555.0" y="539.0" width="2.5" height="1.2" fill="#606060" opacity="0.5"/>
<rect x="559.0" y="539.0" width="3" height="1.2" fill="#606060" opacity="0.5"/>
<rect x="566.0" y="539.0" width="2.5" height="1.2" fill="#606060" opacity="0.5"/>
<rect x="572.0" y="539.0" width="3" height="1.2" fill="#606060" opacity="0.5"/>
<rect x="540.0" y="551.0" width="1" height="1.2" fill="#606060" opacity="0.45"/>
<rect x="545.5" y="551.0" width="3" height="1.2" fill="#606060" opacity="0.45"/>
<rect x="550.0" y="551.0" width="1.5" height="1.2" fill="#606060" opacity="0.45"/>
<rect x="554.0" y="551.0" width="2.5" height="1.2" fill="#606060" opacity="0.45"/>
<rect x="558.0" y="551.0" width="1" height="1.2" fill="#606060" opacity="0.45"/>
<rect x="561.0" y="551.0" width="1.5" height="1.2" fill="#606060" opacity="0.45"/>
<rect x="565.5" y="551.0" width="3" height="1.2" fill="#606060" opacity="0.45"/>
<rect x="569.0" y="551.0" width="1" height="1.2" fill="#606060" opacity="0.45"/>
<rect x="582.5" y="551.0" width="2.5" height="1.2" fill="#606060" opacity="0.45"/>
<rect x="588.5" y="551.0" width="1.5" height="1.2" fill="#606060" opacity="0.45"/>
<rect x="342.0" y="557.5" width="1.5" height="1.3" fill="#303030" opacity="0.6"/>
<rect x="348.5" y="557.5" width="1" height="1.3" fill="#303030" opacity="0.6"/>
<rect x="353.0" y="557.5" width="1" height="1.3" fill="#303030" opacity="0.6"/>
<rect x="359.5" y="557.5" width="3" height="1.3" fill="#303030" opacity="0.6"/>
<rect x="363.5" y="557.5" width="2.5" height="1.3" fill="#303030" opacity="0.6"/>
<rect x="375.0" y="557.5" width="3" height="1.3" fill="#303030" opacity="0.6"/>
<rect x="379.0" y="557.5" width="3" height="1.3" fill="#303030" opacity="0.6"/>
<rect x="388.0" y="557.5" width="1" height="1.3" fill="#303030" opacity="0.6"/>
<rect x="390.0" y="557.5" width="1.5" height="1.3" fill="#303030" opacity="0.6"/>
<rect x="401.0" y="557.5" width="1" height="1.3" fill="#303030" opacity="0.6"/>
<rect x="406.0" y="557.5" width="1" height="1.3" fill="#303030" opacity="0.6"/>
<rect x="411.5" y="557.5" width="2" height="1.3" fill="#303030" opacity="0.6"/>
<rect x="414.5" y="557.5" width="3" height="1.3" fill="#303030" opacity="0.6"/>
<rect x="418.0" y="557.5" width="2.5" height="1.3" fill="#303030" opacity="0.6"/>
<rect x="420.0" y="557.5" width="2" height="1.3" fill="#a02020" opacity="0.5"/>
<rect x="423.0" y="557.5" width="3" height="1.3" fill="#a02020" opacity="0.5"/>
<rect x="431.0" y="557.5" width="1" height="1.3" fill="#a02020" opacity="0.5"/>
<rect x="432.5" y="557.5" width="2" height="1.3" fill="#a02020" opacity="0.5"/>
<rect x="438.5" y="557.5" width="1" height="1.3" fill="#a02020" opacity="0.5"/>
<rect x="441.0" y="557.5" width="1" height="1.3" fill="#a02020" opacity="0.5"/>
<rect x="442.5" y="557.5" width="2.5" height="1.3" fill="#a02020" opacity="0.5"/>
<rect x="445.5" y="557.5" width="2" height="1.3" fill="#a02020" opacity="0.5"/>
<rect x="452.5" y="557.5" width="2" height="1.3" fill="#a02020" opacity="0.5"/>
<rect x="456.0" y="557.5" width="3" height="1.3" fill="#a02020" opacity="0.5"/>
<rect x="338" y="554" width="259" height="8" fill="#f2f2f2"/>
<rect x="340" y="556" width="60" height="1.3" fill="#303030" opacity="0.6"/>
<rect x="338" y="561.5" width="259" height="1.5" fill="#a03030"/>
<rect x="594.5" y="426" width="1.5" height="12" fill="#2050b0"/>
<rect x="596" y="423" width="1" height="140" fill="#c8d4e4"/>
<rect x="338" y="423" width="1" height="140" fill="#8aa8d8"/>
<rect x="714" y="371" width="154" height="115" fill="#fbfbfb"/>
<ellipse cx="722.8" cy="376" rx="3.2" ry="2.4" fill="#2a70d8"/>
<rect x="720.5" y="378" width="5" height="1.3" fill="#40b040" opacity="0.9"/>
<rect x="717.2" y="380.5" width="1.5" height="4.5" fill="#101010" opacity="0.85"/>
<rect x="719.2" y="380.5" width="2.5" height="4.5" fill="#101010" opacity="0.85"/>
<rect x="723.2" y="380.5" width="2" height="4.5" fill="#101010" opacity="0.85"/>
<rect x="737.0" y="375.5" width="3" height="1.6" fill="#2a80e0" opacity="0.6"/>
<rect x="740.5" y="375.5" width="2" height="1.6" fill="#2a80e0" opacity="0.6"/>
<rect x="743.0" y="375.5" width="3" height="1.6" fill="#2a80e0" opacity="0.6"/>
<rect x="734.0" y="382.0" width="2" height="1.4" fill="#d04040" opacity="0.6"/>
<rect x="719.0" y="389.0" width="2.5" height="1.5" fill="#202020" opacity="0.6"/>
<rect x="724.5" y="389.0" width="1" height="1.5" fill="#202020" opacity="0.6"/>
<rect x="732.5" y="389.0" width="2" height="1.5" fill="#202020" opacity="0.6"/>
<rect x="758.0" y="375.8" width="2" height="1.6" fill="#303030" opacity="0.6"/>
<rect x="761.5" y="375.8" width="3" height="1.6" fill="#303030" opacity="0.6"/>
<rect x="768.5" y="375.8" width="2" height="1.6" fill="#303030" opacity="0.6"/>
<rect x="773.5" y="375.8" width="2.5" height="1.6" fill="#303030" opacity="0.6"/>
<rect x="779.5" y="375.8" width="2.5" height="1.6" fill="#303030" opacity="0.6"/>
<rect x="783.5" y="375.8" width="2" height="1.6" fill="#303030" opacity="0.6"/>
<rect x="786.5" y="375.8" width="2" height="1.6" fill="#303030" opacity="0.6"/>
<rect x="767.0" y="381.3" width="1.5" height="1.4" fill="#8060a0" opacity="0.55"/>
<rect x="770.0" y="381.3" width="1.5" height="1.4" fill="#8060a0" opacity="0.55"/>
<rect x="772.0" y="381.3" width="3" height="1.4" fill="#8060a0" opacity="0.55"/>
<rect x="778.5" y="381.3" width="2" height="1.4" fill="#8060a0" opacity="0.55"/>
<rect x="781.5" y="381.3" width="1.5" height="1.4" fill="#8060a0" opacity="0.55"/>
<rect x="784.0" y="381.3" width="2.5" height="1.4" fill="#8060a0" opacity="0.55"/>
<rect x="715" y="391.7" width="31" height="23.6" fill="#8a8c8a"/>
<rect x="722" y="398" width="6" height="11" fill="#1c1c1c"/>
<rect x="730" y="400" width="8" height="7" fill="#262626"/>
<rect x="715" y="419" width="16" height="1" fill="#2050d0"/>
<rect x="715" y="420.8" width="31" height="40.6" fill="#bcd6ee"/>
<rect x="747" y="387.5" width="75" height="79" fill="#ffffff"/>
<rect x="821.8" y="389.6" width="1.6" height="77" fill="#8a8a8a"/>
<rect x="747" y="465.5" width="76" height="1.4" fill="#8a8a8a"/>
<rect x="751" y="410.5" width="2" height="25.3" fill="#f0e000"/>
<rect x="751" y="410.5" width="12.7" height="2" fill="#f0e000"/>
<rect x="751" y="433.8" width="12.7" height="2" fill="#f0e000"/>
<rect x="752.0" y="393.0" width="2" height="1.1" fill="#2040e0" opacity="0.7"/>
<rect x="755.0" y="393.0" width="2.5" height="1.1" fill="#2040e0" opacity="0.7"/>
<rect x="758.0" y="393.0" width="3" height="1.1" fill="#2040e0" opacity="0.7"/>
<rect x="764.5" y="393.0" width="1" height="1.1" fill="#2040e0" opacity="0.7"/>
<rect x="767.0" y="393.0" width="2.5" height="1.1" fill="#2040e0" opacity="0.7"/>
<rect x="752.0" y="397.6" width="2.5" height="1.1" fill="#2040e0" opacity="0.7"/>
<rect x="760.0" y="397.6" width="1" height="1.1" fill="#2040e0" opacity="0.7"/>
<rect x="761.5" y="397.6" width="1" height="1.1" fill="#2040e0" opacity="0.7"/>
<rect x="764.0" y="397.6" width="3" height="1.1" fill="#2040e0" opacity="0.7"/>
<rect x="768.5" y="397.6" width="2" height="1.1" fill="#2040e0" opacity="0.7"/>
<rect x="772.5" y="397.6" width="3" height="1.1" fill="#2040e0" opacity="0.7"/>
<rect x="754.0" y="402.2" width="2" height="1.1" fill="#2040e0" opacity="0.7"/>
<rect x="757.0" y="402.2" width="2" height="1.1" fill="#2040e0" opacity="0.7"/>
<rect x="759.5" y="402.2" width="1.5" height="1.1" fill="#2040e0" opacity="0.7"/>
<rect x="762.5" y="402.2" width="2.5" height="1.1" fill="#2040e0" opacity="0.7"/>
<rect x="766.0" y="402.2" width="1.5" height="1.1" fill="#2040e0" opacity="0.7"/>
<rect x="753.5" y="406.8" width="3" height="1.1" fill="#303030" opacity="0.7"/>
<rect x="758.0" y="406.8" width="1.5" height="1.1" fill="#303030" opacity="0.7"/>
<rect x="760.5" y="406.8" width="1.5" height="1.1" fill="#303030" opacity="0.7"/>
<rect x="763.0" y="406.8" width="1.5" height="1.1" fill="#303030" opacity="0.7"/>
<rect x="766.0" y="406.8" width="1.5" height="1.1" fill="#303030" opacity="0.7"/>
<rect x="774.0" y="406.8" width="2.5" height="1.1" fill="#303030" opacity="0.7"/>
<rect x="792.5" y="393.0" width="3" height="1.1" fill="#303030" opacity="0.6"/>
<rect x="796.0" y="393.0" width="1.5" height="1.1" fill="#303030" opacity="0.6"/>
<rect x="797.5" y="397.6" width="2" height="1.1" fill="#2040e0" opacity="0.6"/>
<rect x="801.0" y="397.6" width="1" height="1.1" fill="#2040e0" opacity="0.6"/>
<rect x="803.0" y="397.6" width="1.5" height="1.1" fill="#2040e0" opacity="0.6"/>
<rect x="766.0" y="413.0" width="1.5" height="1.1" fill="#303030" opacity="0.6"/>
<rect x="771.5" y="413.0" width="3" height="1.1" fill="#303030" opacity="0.6"/>
<rect x="775.0" y="413.0" width="1" height="1.1" fill="#303030" opacity="0.6"/>
<rect x="781.0" y="414.0" width="1" height="1.1" fill="#2040e0" opacity="0.6"/>
<rect x="766.0" y="416.9" width="3" height="1.1" fill="#303030" opacity="0.6"/>
<rect x="770.5" y="416.9" width="1.5" height="1.1" fill="#303030" opacity="0.6"/>
<rect x="766.0" y="420.8" width="1.5" height="1.1" fill="#303030" opacity="0.6"/>
<rect x="769.0" y="420.8" width="2" height="1.1" fill="#303030" opacity="0.6"/>
<rect x="775.0" y="420.8" width="1" height="1.1" fill="#303030" opacity="0.6"/>
<rect x="781.0" y="421.8" width="3" height="1.1" fill="#2040e0" opacity="0.6"/>
<rect x="771.5" y="424.7" width="1.5" height="1.1" fill="#303030" opacity="0.6"/>
<rect x="774.5" y="424.7" width="3" height="1.1" fill="#303030" opacity="0.6"/>
<rect x="766.0" y="428.6" width="3" height="1.1" fill="#303030" opacity="0.6"/>
<rect x="770.0" y="428.6" width="1.5" height="1.1" fill="#303030" opacity="0.6"/>
<rect x="774.5" y="428.6" width="1" height="1.1" fill="#303030" opacity="0.6"/>
<rect x="772.0" y="432.5" width="2" height="1.1" fill="#303030" opacity="0.6"/>
<rect x="774.5" y="432.5" width="3" height="1.1" fill="#303030" opacity="0.6"/>
<rect x="752.0" y="446.0" width="1.5" height="1.1" fill="#303030" opacity="0.55"/>
<rect x="754.5" y="446.0" width="2" height="1.1" fill="#303030" opacity="0.55"/>
<rect x="761.5" y="446.0" width="1" height="1.1" fill="#303030" opacity="0.55"/>
<rect x="769.5" y="446.0" width="2" height="1.1" fill="#303030" opacity="0.55"/>
<rect x="772.0" y="446.0" width="1" height="1.1" fill="#303030" opacity="0.55"/>
<rect x="774.0" y="446.0" width="3" height="1.1" fill="#303030" opacity="0.55"/>
<rect x="791.0" y="446.0" width="2.5" height="1.1" fill="#303030" opacity="0.55"/>
<rect x="794.5" y="446.0" width="1.5" height="1.1" fill="#303030" opacity="0.55"/>
<rect x="752.0" y="450.3" width="2.5" height="1.1" fill="#303030" opacity="0.55"/>
<rect x="758.0" y="450.3" width="3" height="1.1" fill="#303030" opacity="0.55"/>
<rect x="761.5" y="450.3" width="2" height="1.1" fill="#303030" opacity="0.55"/>
<rect x="765.0" y="450.3" width="2.5" height="1.1" fill="#303030" opacity="0.55"/>
<rect x="769.0" y="450.3" width="1.5" height="1.1" fill="#303030" opacity="0.55"/>
<rect x="771.0" y="450.3" width="2" height="1.1" fill="#303030" opacity="0.55"/>
<rect x="773.5" y="450.3" width="1" height="1.1" fill="#303030" opacity="0.55"/>
<rect x="775.0" y="450.3" width="1.5" height="1.1" fill="#303030" opacity="0.55"/>
<rect x="752.0" y="454.6" width="2.5" height="1.1" fill="#303030" opacity="0.55"/>
<rect x="757.0" y="454.6" width="1" height="1.1" fill="#303030" opacity="0.55"/>
<rect x="762.5" y="454.6" width="1" height="1.1" fill="#303030" opacity="0.55"/>
<rect x="764.0" y="454.6" width="1" height="1.1" fill="#303030" opacity="0.55"/>
<rect x="765.5" y="454.6" width="2.5" height="1.1" fill="#303030" opacity="0.55"/>
<rect x="775.0" y="454.6" width="1" height="1.1" fill="#303030" opacity="0.55"/>
<rect x="784.0" y="454.6" width="1" height="1.1" fill="#303030" opacity="0.55"/>
<rect x="789.0" y="454.6" width="1" height="1.1" fill="#303030" opacity="0.55"/>
<rect x="791.0" y="454.6" width="1" height="1.1" fill="#303030" opacity="0.55"/>
<rect x="796.0" y="454.6" width="3" height="1.1" fill="#303030" opacity="0.55"/>
<rect x="767.0" y="458.9" width="1.5" height="1.1" fill="#303030" opacity="0.55"/>
<rect x="770.0" y="458.9" width="2.5" height="1.1" fill="#303030" opacity="0.55"/>
<rect x="785.5" y="458.9" width="3" height="1.1" fill="#303030" opacity="0.55"/>
<rect x="790.5" y="458.9" width="1" height="1.1" fill="#303030" opacity="0.55"/>
<rect x="798.5" y="458.9" width="1.5" height="1.1" fill="#303030" opacity="0.55"/>
<rect x="826.0" y="392.0" width="1" height="1.1" fill="#303030" opacity="0.45"/>
<rect x="828.5" y="392.0" width="3" height="1.1" fill="#303030" opacity="0.45"/>
<rect x="849.5" y="392.0" width="2.5" height="1.1" fill="#303030" opacity="0.45"/>
<rect x="855.5" y="392.0" width="1" height="1.1" fill="#303030" opacity="0.45"/>
<rect x="826.0" y="402.0" width="1.5" height="1.1" fill="#303030" opacity="0.45"/>
<rect x="835.0" y="402.0" width="2.5" height="1.1" fill="#303030" opacity="0.45"/>
<rect x="836.0" y="446.0" width="1.5" height="1.1" fill="#303030" opacity="0.45"/>
<rect x="838.5" y="446.0" width="2" height="1.1" fill="#303030" opacity="0.45"/>
<rect x="844.5" y="446.0" width="1.5" height="1.1" fill="#303030" opacity="0.45"/>
<rect x="850.5" y="446.0" width="1" height="1.1" fill="#303030" opacity="0.45"/>
<rect x="852.5" y="446.0" width="1.5" height="1.1" fill="#303030" opacity="0.45"/>
<rect x="854.5" y="446.0" width="3" height="1.1" fill="#303030" opacity="0.45"/>
<rect x="851.5" y="392.7" width="11.3" height="14.3" fill="#b8b4b0"/>
<path d="M851.5,407 L851.5,401 Q857,397.5 862.8,401 L862.8,407 Z" fill="#e04818"/>
<ellipse cx="857.1" cy="396.8" rx="2.6" ry="3" fill="#5a3a30"/>
<rect x="851.5" y="408" width="11.3" height="13.4" fill="#f6f6f6"/>
<path d="M851.5,421.4 L851.5,417 Q857,414 862.8,417 L862.8,421.4 Z" fill="#f08020"/>
<ellipse cx="857.1" cy="412.5" rx="2.8" ry="3.2" fill="#c8a090"/>
<path d="M854.3,411.5 Q857.1,407.8 859.9,411.5 Z" fill="#202020"/>
<polygon points="842.3,436.8 848.5,436.8 845.4,442" fill="#101010"/>
<rect x="822.8" y="454.2" width="44.2" height="13.4" fill="#1e8c22"/>
<rect x="830" y="459" width="20" height="1.4" fill="#e0f0e0" opacity="0.6"/>
<polygon points="723.4,476.8 726.4,470.6 729.4,476.8" fill="#3070d0" opacity="0.8"/>
<rect x="724.9" y="471" width="3" height="2" fill="#e03030" opacity="0.7"/>
<rect x="720.4" y="479.5" width="12" height="1.4" fill="#303030" opacity="0.5"/>
<polygon points="749,476.8 752,470.6 755,476.8" fill="#3070d0" opacity="0.8"/>
<rect x="750.5" y="471" width="3" height="2" fill="#e03030" opacity="0.7"/>
<rect x="746" y="479.5" width="12" height="1.4" fill="#303030" opacity="0.5"/>
<polygon points="774.7,476.8 777.7,470.6 780.7,476.8" fill="#3070d0" opacity="0.8"/>
<rect x="776.2" y="471" width="3" height="2" fill="#e03030" opacity="0.7"/>
<rect x="771.7" y="479.5" width="12" height="1.4" fill="#303030" opacity="0.5"/>
<polygon points="799,476.8 802,470.6 805,476.8" fill="#3070d0" opacity="0.8"/>
<rect x="800.5" y="471" width="3" height="2" fill="#e03030" opacity="0.7"/>
<rect x="796" y="479.5" width="12" height="1.4" fill="#303030" opacity="0.5"/>
<polygon points="825,476.8 828,470.6 831,476.8" fill="#3070d0" opacity="0.8"/>
<rect x="826.5" y="471" width="3" height="2" fill="#e03030" opacity="0.7"/>
<rect x="822" y="479.5" width="12" height="1.4" fill="#303030" opacity="0.5"/>
<polygon points="853,476.8 856,470.6 859,476.8" fill="#3070d0" opacity="0.8"/>
<rect x="854.5" y="471" width="3" height="2" fill="#e03030" opacity="0.7"/>
<rect x="850" y="479.5" width="12" height="1.4" fill="#303030" opacity="0.5"/>
<polygon points="839,383 842,378 845,383" fill="#30a030"/>
<rect x="848" y="378" width="4" height="4" fill="#e03030" opacity="0.8"/>
<rect x="858" y="378" width="4" height="4" fill="#e03030" opacity="0.8"/>
<rect x="703" y="291" width="100" height="65" fill="#aaa9a6"/>
<rect x="712" y="293" width="87" height="59" rx="2" fill="#151a24"/>
<rect x="715" y="296" width="80" height="51" fill="#1d4fb4"/>
<polygon points="752.1,297.9 717,348.3 795.1,346.5" fill="#d4d6da"/>
<rect x="742" y="290.5" width="26" height="3" fill="#1a1a1a"/>
<rect x="745" y="350" width="22" height="5" fill="#1a1a1a"/>
<rect x="708" y="307" width="4" height="4" fill="#c8a040"/>
<rect x="739.2" y="326.8" width="9.2" height="9.2" fill="#606060" opacity="0.75"/>
<path d="M766.8,323.5 A6.3,6.6 0 0 0 766.8,336.7" fill="none" stroke="#30a040" stroke-width="2"/>
<path d="M766.8,323.5 A6.3,6.6 0 0 1 766.8,336.7" fill="none" stroke="#2a60c0" stroke-width="2"/>
<rect x="764.5" y="327" width="4.5" height="6" fill="#2a60c0" opacity="0.8"/>
<rect x="752" y="320" width="5" height="14" fill="#404040" opacity="0.5"/>
<rect x="640" y="181.3" width="73.5" height="94.4" fill="#050505"/>
<rect x="645.8" y="181.3" width="62.2" height="94.4" fill="#8c8782"/>
<polygon points="673.8,181.3 708,181.3 708,236 694.6,229.2 676.5,207.5" fill="#d9d9d4"/>
<polygon points="680,190 700,186 706,200 704,222 692,215 682,200" fill="#c4c6c0" opacity="0.8"/>
<polygon points="673.8,181.3 696.4,181.3 692.8,191.2 678.3,193" fill="#c8a08a"/>
<polygon points="675,208 679,209 708,243 708,262 702,256 675,215" fill="#3057b0"/>
<polygon points="645.8,181.3 673.8,181.3 675.6,213.8 671,214.7 658.5,202 645.8,200.3" fill="#d4625e"/>
<polygon points="645.8,210.2 664.8,212.9 665.7,223.7 653,227.3 645.8,225.5" fill="#2c3448"/>
<polygon points="663.9,225.5 694.6,234.6 696.4,250.8 680,261.6 671,250.8" fill="#5e5a56"/>
<polygon points="645.8,241.8 671,229.2 673.8,234.6 649.4,252.6 645.8,252.6" fill="#b8866e"/>
<polygon points="645.8,250.8 663.9,249 665.7,265.3 645.8,267" fill="#34425e"/>
<rect x="665.7" y="262" width="42.3" height="13.7" fill="#9a958f"/>
<rect x="673.8" y="223.7" width="10.8" height="7.3" fill="#f2f2f2"/>
<rect x="674.8" y="225" width="3" height="4" fill="#202020" opacity="0.7"/>
<rect x="679" y="225" width="4" height="4" fill="#303030" opacity="0.5"/>
<use href="#imm" x="401" y="2"/>
<use href="#imm" x="723" y="143"/>
<polygon points="663.5,46.4 698.3,45 700,70 664,72" fill="#c9ccd0"/>
<rect x="666" y="50" width="30" height="3" fill="#e6e8ea"/>
<rect x="668" y="55" width="3" height="14" fill="#8a9098" opacity="0.7"/>
<rect x="680" y="55" width="3" height="14" fill="#8a9098" opacity="0.6"/>
<rect x="664" y="68.7" width="12" height="18.3" fill="#2a2a2c"/>
<rect x="667" y="70" width="6" height="15" fill="#6a6e74"/>
<rect x="679" y="59" width="3" height="4" fill="#c03030" opacity="0.8"/>
<rect x="676" y="68.7" width="25" height="34.1" fill="#262628"/>
<rect x="678" y="70" width="21" height="9" fill="#bfc3c8"/>
<rect x="684" y="79" width="16" height="22.4" fill="#e8e9ea"/>
<rect x="688" y="85" width="7" height="6" fill="#fafafa"/>
<rect x="685" y="93" width="2" height="4" fill="#c03030"/>
<rect x="687" y="56.9" width="8.7" height="7.8" fill="#9aa4ac"/>
<rect x="688" y="58" width="6.7" height="5.5" fill="#bcd8e8"/>
<rect x="680" y="74" width="4" height="4" fill="#404448" opacity="0.8"/>
<rect x="689" y="74" width="4" height="4" fill="#404448" opacity="0.8"/>
<polygon points="697,46.4 732,45 732,72 697,72" fill="#cfd2d6"/>
<rect x="700" y="50" width="28" height="3" fill="#eceef0"/>
<rect x="705" y="56" width="6" height="6" fill="#e8eaec"/>
<rect x="716" y="57" width="6" height="7" fill="#3a3e44" opacity="0.8"/>
<rect x="703.5" y="70" width="27.5" height="21" fill="#1e1e20"/>
<rect x="705" y="72" width="25" height="18" fill="#e4e5e6"/>
<rect x="712" y="78" width="6" height="2" fill="#4a80c0" opacity="0.6"/>
<polygon points="727.5,36 774,33.6 781.6,37.3 784,53.3 781.6,71.7 737.3,81.6 727.5,74.2" fill="#b9bec4"/>
<polygon points="738.5,43 779,40 781,54 779,72 738.5,76" fill="#95a3b5"/>
<rect x="741.0" y="45.0" width="3" height="12" fill="#4a6a98" opacity="0.5"/>
<rect x="744.0" y="47.0" width="2" height="8" fill="#e0e6ee" opacity="0.5"/>
<rect x="741.0" y="62.0" width="3" height="10" fill="#6a8ab0" opacity="0.5"/>
<rect x="747.5" y="44.6" width="3" height="12" fill="#4a6a98" opacity="0.5"/>
<rect x="750.5" y="46.6" width="2" height="8" fill="#e0e6ee" opacity="0.5"/>
<rect x="747.5" y="61.2" width="3" height="10" fill="#6a8ab0" opacity="0.5"/>
<rect x="754.0" y="44.2" width="3" height="12" fill="#4a6a98" opacity="0.5"/>
<rect x="757.0" y="46.2" width="2" height="8" fill="#e0e6ee" opacity="0.5"/>
<rect x="754.0" y="60.4" width="3" height="10" fill="#6a8ab0" opacity="0.5"/>
<rect x="760.5" y="43.8" width="3" height="12" fill="#4a6a98" opacity="0.5"/>
<rect x="763.5" y="45.8" width="2" height="8" fill="#e0e6ee" opacity="0.5"/>
<rect x="760.5" y="59.6" width="3" height="10" fill="#6a8ab0" opacity="0.5"/>
<rect x="767.0" y="43.4" width="3" height="12" fill="#4a6a98" opacity="0.5"/>
<rect x="770.0" y="45.4" width="2" height="8" fill="#e0e6ee" opacity="0.5"/>
<rect x="767.0" y="58.8" width="3" height="10" fill="#6a8ab0" opacity="0.5"/>
<rect x="773.5" y="43.0" width="3" height="12" fill="#4a6a98" opacity="0.5"/>
<rect x="776.5" y="45.0" width="2" height="8" fill="#e0e6ee" opacity="0.5"/>
<rect x="773.5" y="58.0" width="3" height="10" fill="#6a8ab0" opacity="0.5"/>
<polygon points="741,58.5 782.8,51 782.8,53 741,61" fill="#2a50a0"/>
<polygon points="737.3,71.7 781.6,68 781.6,74 737.3,81.6" fill="#c9cdd2"/>
<rect x="728" y="38" width="9" height="30" fill="#d4d8dc"/>
<rect x="779" y="54.5" width="12.4" height="11.1" fill="#c2c6ca"/>
<rect x="780.5" y="56" width="9" height="7" fill="#8ca6bc"/>
<rect x="784" y="65" width="2" height="20" fill="#8a8e92"/>
<rect x="782.8" y="84" width="8.6" height="5" fill="#9a9ea2"/>
<polygon points="785.2,65.6 809.8,64.3 809.8,79.1 793.9,82.8 785.2,80.3" fill="#e0e2e4"/>
<rect x="790" y="68" width="17" height="2.5" fill="#5a5e62" opacity="0.6"/>
<rect x="796" y="82" width="7" height="3" fill="#404448"/>
<polygon points="404.7,132.6 500.3,130.3 500.3,161.2 446.7,170 407,171.7" fill="#5fb0e6"/>
<rect x="443.5" y="141.3" width="4.6" height="27.7" fill="#2f8a4c"/>
<rect x="444.3" y="142.3" width="1" height="25.7" fill="#1e5a30" opacity="0.6"/>
<rect x="444.5" y="136.3" width="3.5" height="3" fill="#d8ecf8" opacity="0.7"/>
<rect x="450.6" y="140.8" width="4.6" height="27.2" fill="#2f8a4c"/>
<rect x="451.4" y="141.8" width="1" height="25.2" fill="#1e5a30" opacity="0.6"/>
<rect x="451.6" y="135.8" width="3.5" height="3" fill="#d8ecf8" opacity="0.7"/>
<rect x="457.8" y="140.3" width="4.6" height="26.7" fill="#2f8a4c"/>
<rect x="458.6" y="141.3" width="1" height="24.7" fill="#1e5a30" opacity="0.6"/>
<rect x="458.8" y="135.3" width="3.5" height="3" fill="#d8ecf8" opacity="0.7"/>
<rect x="464.9" y="139.8" width="4.6" height="26.2" fill="#2f8a4c"/>
<rect x="465.8" y="140.8" width="1" height="24.2" fill="#1e5a30" opacity="0.6"/>
<rect x="465.9" y="134.8" width="3.5" height="3" fill="#d8ecf8" opacity="0.7"/>
<rect x="472.1" y="139.3" width="4.6" height="25.7" fill="#2f8a4c"/>
<rect x="472.9" y="140.3" width="1" height="23.7" fill="#1e5a30" opacity="0.6"/>
<rect x="473.1" y="134.3" width="3.5" height="3" fill="#d8ecf8" opacity="0.7"/>
<rect x="479.2" y="138.8" width="4.6" height="25.2" fill="#2f8a4c"/>
<rect x="480.1" y="139.8" width="1" height="23.2" fill="#1e5a30" opacity="0.6"/>
<rect x="480.2" y="133.8" width="3.5" height="3" fill="#d8ecf8" opacity="0.7"/>
<rect x="486.4" y="138.3" width="4.6" height="24.7" fill="#2f8a4c"/>
<rect x="487.2" y="139.3" width="1" height="22.7" fill="#1e5a30" opacity="0.6"/>
<rect x="487.4" y="133.3" width="3.5" height="3" fill="#d8ecf8" opacity="0.7"/>
<rect x="493.6" y="137.8" width="4.6" height="24.2" fill="#2f8a4c"/>
<rect x="494.4" y="138.8" width="1" height="22.2" fill="#1e5a30" opacity="0.6"/>
<rect x="494.6" y="132.8" width="3.5" height="3" fill="#d8ecf8" opacity="0.7"/>
<rect x="409" y="140" width="5" height="9" fill="#3a4a5c" opacity="0.85"/>
<rect x="409" y="153" width="5" height="10" fill="#3a4a5c" opacity="0.85"/>
<polygon points="404.7,132.6 500.3,130.3 500.3,132.5 404.7,135" fill="#8ccaf0" opacity="0.8"/>
<rect x="424.5" y="152" width="5.5" height="17" fill="#2a3038" opacity="0.9"/>
<rect x="432.7" y="152" width="4.6" height="16" fill="#30363e" opacity="0.9"/>
<rect x="432.7" y="139" width="5.8" height="9.3" fill="#8a96a0" opacity="0.9"/>
<rect x="404.7" y="133" width="2" height="38" fill="#4a98d0" opacity="0.7"/>
<g transform="translate(655.3,129.2) rotate(49)"><rect x="-32" y="-17" width="64" height="34" fill="#676767"/></g>
<path d="M358,277 L358,330.5 A33.6,9.5 0 0 0 425.2,330.5 L425.2,277 Z" fill="url(#cyl)"/>
<path d="M358.2,297 A33.2,8.8 0 0 0 424.6,297" fill="none" stroke="#f0f0f0" stroke-width="1.2" opacity="0.7"/>
<path d="M358.2,314.7 A33.2,9 0 0 0 424.6,314.7" fill="none" stroke="#f0f0f0" stroke-width="1.2" opacity="0.7"/>
<path d="M358.2,295.6 A33.2,8.8 0 0 0 424.6,295.6" fill="none" stroke="#5e5e5e" stroke-width="1.4"/>
<path d="M358.2,313.3 A33.2,9 0 0 0 424.6,313.3" fill="none" stroke="#5e5e5e" stroke-width="1.4"/>
<ellipse cx="391.6" cy="276.8" rx="33.6" ry="12.9" fill="url(#cyltop)"/>
<path d="M358.2,277 A33.2,12.9 0 0 0 424.6,277" fill="none" stroke="#b0b0b0" stroke-width="1"/>
<g stroke="#6D6D6D" stroke-width="2.7" fill="none" stroke-linecap="round" stroke-linejoin="round"><line x1="349" y1="300" x2="134" y2="160"/><polyline points="138.6,170.0 134,160 145.0,160.2"/><line x1="359" y1="331" x2="270" y2="328"/><polyline points="279.1,334.1 270,328 279.5,322.5"/><line x1="392" y1="343" x2="267" y2="493"/><polyline points="277.5,489.6 267,493 268.5,482.1"/><line x1="395" y1="359" x2="466" y2="421"/><polyline points="462.8,410.5 466,421 455.1,419.3"/><line x1="475.7" y1="74.4" x2="455" y2="122"/><polyline points="464.1,115.8 455,122 453.4,111.1"/><line x1="434" y1="298" x2="639" y2="230"/><polyline points="628.3,227.4 639,230 632.0,238.5"/><polyline points="444.7,300.6 434,298 441.0,289.5"/><line x1="702.6" y1="323" x2="434" y2="298"/><polyline points="442.7,304.7 434,298 443.8,293.1"/><line x1="429" y1="325" x2="713" y2="427"/><polyline points="706.2,418.4 713,427 702.3,429.3"/><polyline points="435.8,333.6 429,325 439.7,322.7"/><line x1="761" y1="290" x2="799" y2="216"/><line x1="437" y1="288" x2="454" y2="179" stroke-dasharray="8,7"/><polyline points="446.8,186.3 454,178 458.4,188.1"/><polyline points="441.3,289.8 434,298 429.8,287.8"/><line x1="445" y1="289" x2="640" y2="142" stroke-dasharray="8,7"/><polyline points="629.0,142.9 640,142 636.0,152.3"/><polyline points="445.0,297.0 434,298 437.9,287.7"/></g>
<text transform="translate(655,129) rotate(229)" font-family="Liberation Sans" font-size="14" font-weight="bold" fill="#2A76BD" text-anchor="middle" dominant-baseline="central" letter-spacing="0.5">PLC</text>
<text transform="translate(538,197) rotate(-34)" font-family="Liberation Sans" font-size="16" fill="#2A76BD" text-anchor="middle" dominant-baseline="central">OPC 采集</text>
</svg>
<div class="lbl" style="left:92px;top:7px;">工厂分析</div>
<div class="lbl" style="left:267px;top:7px;">移动端</div>
<div class="lbl" style="left:89px;top:240px;">现场电子看板</div>
<div class="lbl" style="left:355px;top:241px;">数据库</div>
<div class="lbl" style="left:97px;top:406.5px;">集中控制室</div>
<div class="lbl" style="left:461px;top:394.5px;">生产排程</div>
<div class="lbl" style="left:474.5px;top:107.5px;"><span class="lat" style="font-size:16px">DCU</span> 集控采集</div>
<div class="lbl" style="left:651px;top:287.5px;"><span class="lat" style="font-size:16px">PDA</span></div>
<div class="lbl" style="left:792px;top:267px;">分散采集</div>
<div class="lbl" style="left:786px;top:511px;">操作端</div>
</body></html>
